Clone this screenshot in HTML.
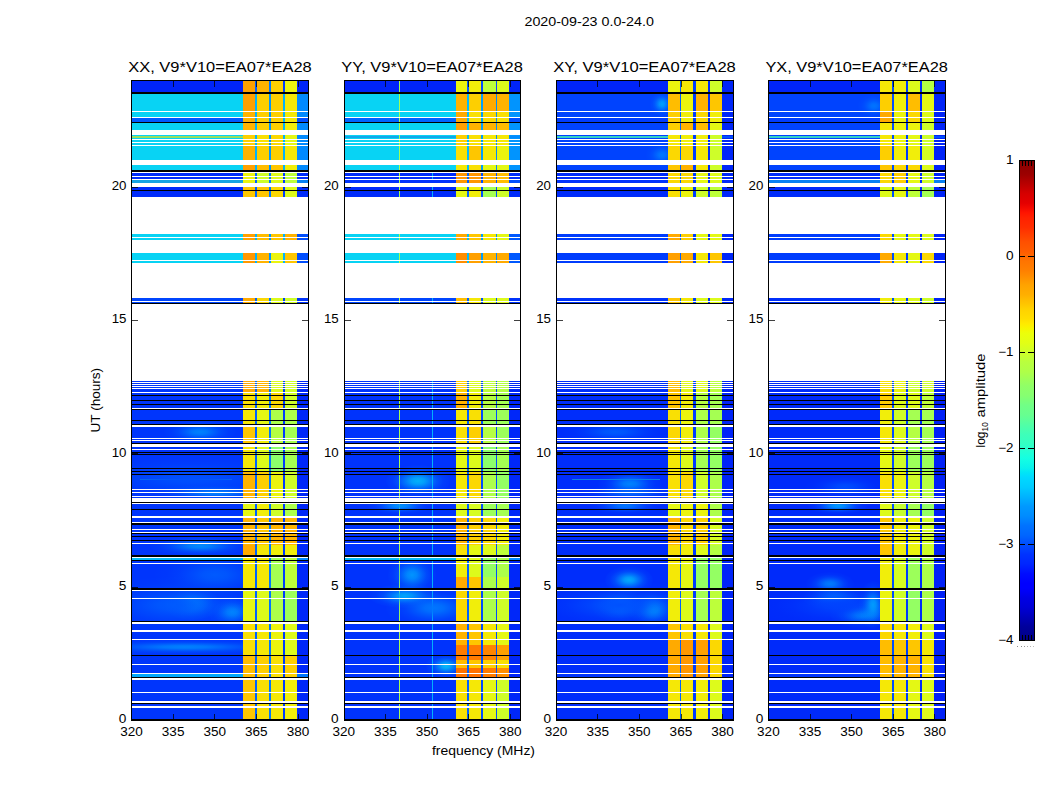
<!DOCTYPE html><html><head><meta charset="utf-8"><style>html,body{margin:0;padding:0;background:#fff;overflow:hidden;}svg{display:block}</style></head><body>
<svg width="1050" height="800" viewBox="0 0 1050 800" shape-rendering="crispEdges">
<rect width="1050" height="800" fill="#fff"/>
<rect x="131" y="80" width="112" height="12" fill="#0024f8"/>
<rect x="243" y="80" width="12" height="12" fill="#ffa000"/>
<rect x="257" y="80" width="12" height="12" fill="#ffb300"/>
<rect x="271" y="80" width="12" height="12" fill="#fdcf01"/>
<rect x="285" y="80" width="12" height="12" fill="#ebf40e"/>
<rect x="255" y="80" width="2" height="12" fill="#0062ff"/>
<rect x="269" y="80" width="2" height="12" fill="#0076ff"/>
<rect x="283" y="80" width="2" height="12" fill="#003cfd"/>
<rect x="297" y="80" width="12" height="12" fill="#0024f8"/>
<rect x="131" y="92" width="178" height="2" fill="#000000"/>
<rect x="131" y="94" width="112" height="17" fill="#08d3f4"/>
<rect x="243" y="94" width="12" height="17" fill="#ffa000"/>
<rect x="257" y="94" width="12" height="17" fill="#fdcf01"/>
<rect x="271" y="94" width="12" height="17" fill="#fdcf01"/>
<rect x="285" y="94" width="12" height="17" fill="#f5e806"/>
<rect x="255" y="94" width="2" height="17" fill="#02b2fc"/>
<rect x="269" y="94" width="2" height="17" fill="#0094fe"/>
<rect x="283" y="94" width="2" height="17" fill="#02b2fc"/>
<rect x="297" y="94" width="12" height="17" fill="#018afe"/>
<rect x="131" y="112" width="112" height="5" fill="#08d3f4"/>
<rect x="243" y="112" width="12" height="5" fill="#ffb300"/>
<rect x="257" y="112" width="12" height="5" fill="#fdcf01"/>
<rect x="271" y="112" width="12" height="5" fill="#fdcf01"/>
<rect x="285" y="112" width="12" height="5" fill="#f5e806"/>
<rect x="255" y="112" width="2" height="5" fill="#02b2fc"/>
<rect x="269" y="112" width="2" height="5" fill="#0094fe"/>
<rect x="283" y="112" width="2" height="5" fill="#02b2fc"/>
<rect x="297" y="112" width="12" height="5" fill="#018afe"/>
<rect x="131" y="118" width="112" height="4" fill="#0058fe"/>
<rect x="243" y="118" width="12" height="4" fill="#ffb300"/>
<rect x="257" y="118" width="12" height="4" fill="#fdcf01"/>
<rect x="271" y="118" width="12" height="4" fill="#fdcf01"/>
<rect x="285" y="118" width="12" height="4" fill="#f5e806"/>
<rect x="255" y="118" width="2" height="4" fill="#02b2fc"/>
<rect x="269" y="118" width="2" height="4" fill="#0094fe"/>
<rect x="283" y="118" width="2" height="4" fill="#02b2fc"/>
<rect x="297" y="118" width="12" height="4" fill="#004efe"/>
<rect x="131" y="122" width="178" height="1" fill="#000000"/>
<rect x="131" y="123" width="112" height="7" fill="#08d3f4"/>
<rect x="243" y="123" width="12" height="7" fill="#ffb300"/>
<rect x="257" y="123" width="12" height="7" fill="#fdcf01"/>
<rect x="271" y="123" width="12" height="7" fill="#fdcf01"/>
<rect x="285" y="123" width="12" height="7" fill="#f1ee0a"/>
<rect x="255" y="123" width="2" height="7" fill="#02b2fc"/>
<rect x="269" y="123" width="2" height="7" fill="#0094fe"/>
<rect x="283" y="123" width="2" height="7" fill="#02b2fc"/>
<rect x="297" y="123" width="12" height="7" fill="#018afe"/>
<rect x="131" y="135" width="112" height="1" fill="#08d3f4"/>
<rect x="243" y="135" width="12" height="1" fill="#fdcf01"/>
<rect x="257" y="135" width="12" height="1" fill="#f9e004"/>
<rect x="271" y="135" width="12" height="1" fill="#fbd802"/>
<rect x="285" y="135" width="12" height="1" fill="#e4f814"/>
<rect x="255" y="135" width="2" height="1" fill="#02b2fc"/>
<rect x="269" y="135" width="2" height="1" fill="#0094fe"/>
<rect x="283" y="135" width="2" height="1" fill="#02b2fc"/>
<rect x="297" y="135" width="12" height="1" fill="#018afe"/>
<rect x="131" y="136" width="112" height="2" fill="#99df60"/>
<rect x="243" y="136" width="12" height="2" fill="#fdcf01"/>
<rect x="257" y="136" width="12" height="2" fill="#f9e004"/>
<rect x="271" y="136" width="12" height="2" fill="#fbd802"/>
<rect x="285" y="136" width="12" height="2" fill="#e4f814"/>
<rect x="255" y="136" width="2" height="2" fill="#02b2fc"/>
<rect x="269" y="136" width="2" height="2" fill="#0094fe"/>
<rect x="283" y="136" width="2" height="2" fill="#02b2fc"/>
<rect x="297" y="136" width="12" height="2" fill="#018afe"/>
<rect x="131" y="138" width="112" height="1" fill="#08d3f4"/>
<rect x="243" y="138" width="12" height="1" fill="#fdcf01"/>
<rect x="257" y="138" width="12" height="1" fill="#f9e004"/>
<rect x="271" y="138" width="12" height="1" fill="#fbd802"/>
<rect x="285" y="138" width="12" height="1" fill="#e4f814"/>
<rect x="255" y="138" width="2" height="1" fill="#02b2fc"/>
<rect x="269" y="138" width="2" height="1" fill="#0094fe"/>
<rect x="283" y="138" width="2" height="1" fill="#02b2fc"/>
<rect x="297" y="138" width="12" height="1" fill="#018afe"/>
<rect x="131" y="140" width="112" height="2" fill="#08d3f4"/>
<rect x="243" y="140" width="12" height="2" fill="#fdcf01"/>
<rect x="257" y="140" width="12" height="2" fill="#f9e004"/>
<rect x="271" y="140" width="12" height="2" fill="#fbd802"/>
<rect x="285" y="140" width="12" height="2" fill="#e4f814"/>
<rect x="255" y="140" width="2" height="2" fill="#02b2fc"/>
<rect x="269" y="140" width="2" height="2" fill="#0094fe"/>
<rect x="283" y="140" width="2" height="2" fill="#02b2fc"/>
<rect x="297" y="140" width="12" height="2" fill="#018afe"/>
<rect x="131" y="143" width="112" height="2" fill="#08d3f4"/>
<rect x="243" y="143" width="12" height="2" fill="#fdcf01"/>
<rect x="257" y="143" width="12" height="2" fill="#f9e004"/>
<rect x="271" y="143" width="12" height="2" fill="#fbd802"/>
<rect x="285" y="143" width="12" height="2" fill="#e4f814"/>
<rect x="255" y="143" width="2" height="2" fill="#02b2fc"/>
<rect x="269" y="143" width="2" height="2" fill="#0094fe"/>
<rect x="283" y="143" width="2" height="2" fill="#02b2fc"/>
<rect x="297" y="143" width="12" height="2" fill="#018afe"/>
<rect x="131" y="146" width="112" height="14" fill="#08d3f4"/>
<rect x="243" y="146" width="12" height="14" fill="#ffb300"/>
<rect x="257" y="146" width="12" height="14" fill="#fdcf01"/>
<rect x="271" y="146" width="12" height="14" fill="#fdcf01"/>
<rect x="285" y="146" width="12" height="14" fill="#f5e806"/>
<rect x="255" y="146" width="2" height="14" fill="#02b2fc"/>
<rect x="269" y="146" width="2" height="14" fill="#0094fe"/>
<rect x="283" y="146" width="2" height="14" fill="#02b2fc"/>
<rect x="297" y="146" width="12" height="14" fill="#018afe"/>
<rect x="131" y="165" width="112" height="5" fill="#08d3f4"/>
<rect x="243" y="165" width="12" height="5" fill="#ffa000"/>
<rect x="257" y="165" width="12" height="5" fill="#ffbd00"/>
<rect x="271" y="165" width="12" height="5" fill="#fec600"/>
<rect x="285" y="165" width="12" height="5" fill="#f1ee0a"/>
<rect x="255" y="165" width="2" height="5" fill="#02b2fc"/>
<rect x="269" y="165" width="2" height="5" fill="#0094fe"/>
<rect x="283" y="165" width="2" height="5" fill="#02b2fc"/>
<rect x="297" y="165" width="12" height="5" fill="#018afe"/>
<rect x="131" y="170" width="178" height="2" fill="#000000"/>
<rect x="131" y="173" width="112" height="3" fill="#002bfa"/>
<rect x="243" y="173" width="12" height="3" fill="#ebf40e"/>
<rect x="257" y="173" width="12" height="3" fill="#cefe29"/>
<rect x="271" y="173" width="12" height="3" fill="#ddfb1b"/>
<rect x="285" y="173" width="12" height="3" fill="#bdff3a"/>
<rect x="255" y="173" width="2" height="3" fill="#0062ff"/>
<rect x="269" y="173" width="2" height="3" fill="#0076ff"/>
<rect x="283" y="173" width="2" height="3" fill="#003cfd"/>
<rect x="297" y="173" width="12" height="3" fill="#002bfa"/>
<rect x="131" y="177" width="112" height="2" fill="#002bfa"/>
<rect x="243" y="177" width="12" height="2" fill="#ebf40e"/>
<rect x="257" y="177" width="12" height="2" fill="#cefe29"/>
<rect x="271" y="177" width="12" height="2" fill="#ddfb1b"/>
<rect x="285" y="177" width="12" height="2" fill="#bdff3a"/>
<rect x="255" y="177" width="2" height="2" fill="#0062ff"/>
<rect x="269" y="177" width="2" height="2" fill="#0076ff"/>
<rect x="283" y="177" width="2" height="2" fill="#003cfd"/>
<rect x="297" y="177" width="12" height="2" fill="#002bfa"/>
<rect x="131" y="180" width="112" height="3" fill="#16a3e3"/>
<rect x="243" y="180" width="12" height="3" fill="#ebf40e"/>
<rect x="257" y="180" width="12" height="3" fill="#cefe29"/>
<rect x="271" y="180" width="12" height="3" fill="#ddfb1b"/>
<rect x="285" y="180" width="12" height="3" fill="#bdff3a"/>
<rect x="255" y="180" width="2" height="3" fill="#0062ff"/>
<rect x="269" y="180" width="2" height="3" fill="#0076ff"/>
<rect x="283" y="180" width="2" height="3" fill="#003cfd"/>
<rect x="297" y="180" width="12" height="3" fill="#0780f3"/>
<rect x="131" y="187" width="112" height="3" fill="#002bfa"/>
<rect x="243" y="187" width="12" height="3" fill="#fec600"/>
<rect x="257" y="187" width="12" height="3" fill="#fec600"/>
<rect x="271" y="187" width="12" height="3" fill="#fbd802"/>
<rect x="285" y="187" width="12" height="3" fill="#ddfb1b"/>
<rect x="255" y="187" width="2" height="3" fill="#0062ff"/>
<rect x="269" y="187" width="2" height="3" fill="#0076ff"/>
<rect x="283" y="187" width="2" height="3" fill="#003cfd"/>
<rect x="297" y="187" width="12" height="3" fill="#002bfa"/>
<rect x="131" y="190" width="178" height="1" fill="#000000"/>
<rect x="131" y="191" width="112" height="6" fill="#002bfa"/>
<rect x="243" y="191" width="12" height="6" fill="#fec600"/>
<rect x="257" y="191" width="12" height="6" fill="#fec600"/>
<rect x="271" y="191" width="12" height="6" fill="#fbd802"/>
<rect x="285" y="191" width="12" height="6" fill="#ddfb1b"/>
<rect x="255" y="191" width="2" height="6" fill="#0062ff"/>
<rect x="269" y="191" width="2" height="6" fill="#0076ff"/>
<rect x="283" y="191" width="2" height="6" fill="#003cfd"/>
<rect x="297" y="191" width="12" height="6" fill="#002bfa"/>
<rect x="131" y="234" width="112" height="3" fill="#08d3f4"/>
<rect x="243" y="234" width="12" height="3" fill="#ffa000"/>
<rect x="257" y="234" width="12" height="3" fill="#ffbd00"/>
<rect x="271" y="234" width="12" height="3" fill="#fec600"/>
<rect x="285" y="234" width="12" height="3" fill="#ffb300"/>
<rect x="255" y="234" width="2" height="3" fill="#02b2fc"/>
<rect x="269" y="234" width="2" height="3" fill="#0094fe"/>
<rect x="283" y="234" width="2" height="3" fill="#02b2fc"/>
<rect x="297" y="234" width="12" height="3" fill="#004efe"/>
<rect x="131" y="238" width="112" height="2" fill="#08d3f4"/>
<rect x="243" y="238" width="12" height="2" fill="#ffa000"/>
<rect x="257" y="238" width="12" height="2" fill="#ffbd00"/>
<rect x="271" y="238" width="12" height="2" fill="#fec600"/>
<rect x="285" y="238" width="12" height="2" fill="#ffb300"/>
<rect x="255" y="238" width="2" height="2" fill="#02b2fc"/>
<rect x="269" y="238" width="2" height="2" fill="#0094fe"/>
<rect x="283" y="238" width="2" height="2" fill="#02b2fc"/>
<rect x="297" y="238" width="12" height="2" fill="#004efe"/>
<rect x="131" y="253" width="112" height="7" fill="#08d3f4"/>
<rect x="243" y="253" width="12" height="7" fill="#ff9700"/>
<rect x="257" y="253" width="12" height="7" fill="#ffb300"/>
<rect x="271" y="253" width="12" height="7" fill="#ebf40e"/>
<rect x="285" y="253" width="12" height="7" fill="#fec600"/>
<rect x="255" y="253" width="2" height="7" fill="#02b2fc"/>
<rect x="269" y="253" width="2" height="7" fill="#0094fe"/>
<rect x="283" y="253" width="2" height="7" fill="#02b2fc"/>
<rect x="297" y="253" width="12" height="7" fill="#004efe"/>
<rect x="131" y="261" width="112" height="2" fill="#08d3f4"/>
<rect x="243" y="261" width="12" height="2" fill="#ff9700"/>
<rect x="257" y="261" width="12" height="2" fill="#ffb300"/>
<rect x="271" y="261" width="12" height="2" fill="#ebf40e"/>
<rect x="285" y="261" width="12" height="2" fill="#fec600"/>
<rect x="255" y="261" width="2" height="2" fill="#02b2fc"/>
<rect x="269" y="261" width="2" height="2" fill="#0094fe"/>
<rect x="283" y="261" width="2" height="2" fill="#02b2fc"/>
<rect x="297" y="261" width="12" height="2" fill="#004efe"/>
<rect x="131" y="298" width="112" height="3" fill="#0045fe"/>
<rect x="243" y="298" width="12" height="3" fill="#ffaa00"/>
<rect x="257" y="298" width="12" height="3" fill="#fbd802"/>
<rect x="271" y="298" width="12" height="3" fill="#ddfb1b"/>
<rect x="285" y="298" width="12" height="3" fill="#cefe29"/>
<rect x="255" y="298" width="2" height="3" fill="#0062ff"/>
<rect x="269" y="298" width="2" height="3" fill="#0076ff"/>
<rect x="283" y="298" width="2" height="3" fill="#003cfd"/>
<rect x="297" y="298" width="12" height="3" fill="#0033fc"/>
<rect x="131" y="302" width="112" height="1" fill="#0045fe"/>
<rect x="243" y="302" width="12" height="1" fill="#ffaa00"/>
<rect x="257" y="302" width="12" height="1" fill="#fbd802"/>
<rect x="271" y="302" width="12" height="1" fill="#ddfb1b"/>
<rect x="285" y="302" width="12" height="1" fill="#cefe29"/>
<rect x="255" y="302" width="2" height="1" fill="#0062ff"/>
<rect x="269" y="302" width="2" height="1" fill="#0076ff"/>
<rect x="283" y="302" width="2" height="1" fill="#003cfd"/>
<rect x="297" y="302" width="12" height="1" fill="#0033fc"/>
<rect x="131" y="303" width="178" height="1" fill="#000000"/>
<rect x="131" y="381" width="112" height="1" fill="#0035fc"/>
<rect x="243" y="381" width="12" height="1" fill="#ffaa00"/>
<rect x="257" y="381" width="12" height="1" fill="#ffb300"/>
<rect x="271" y="381" width="12" height="1" fill="#ddfb1b"/>
<rect x="285" y="381" width="12" height="1" fill="#cefe29"/>
<rect x="255" y="381" width="2" height="1" fill="#0062ff"/>
<rect x="269" y="381" width="2" height="1" fill="#0076ff"/>
<rect x="283" y="381" width="2" height="1" fill="#003cfd"/>
<rect x="297" y="381" width="12" height="1" fill="#0027f9"/>
<rect x="131" y="383" width="112" height="1" fill="#0035fc"/>
<rect x="243" y="383" width="12" height="1" fill="#ffaa00"/>
<rect x="257" y="383" width="12" height="1" fill="#ffb300"/>
<rect x="271" y="383" width="12" height="1" fill="#ddfb1b"/>
<rect x="285" y="383" width="12" height="1" fill="#cefe29"/>
<rect x="255" y="383" width="2" height="1" fill="#0062ff"/>
<rect x="269" y="383" width="2" height="1" fill="#0076ff"/>
<rect x="283" y="383" width="2" height="1" fill="#003cfd"/>
<rect x="297" y="383" width="12" height="1" fill="#0027f9"/>
<rect x="131" y="385" width="112" height="1" fill="#0035fc"/>
<rect x="243" y="385" width="12" height="1" fill="#ffaa00"/>
<rect x="257" y="385" width="12" height="1" fill="#ffb300"/>
<rect x="271" y="385" width="12" height="1" fill="#ddfb1b"/>
<rect x="285" y="385" width="12" height="1" fill="#cefe29"/>
<rect x="255" y="385" width="2" height="1" fill="#0062ff"/>
<rect x="269" y="385" width="2" height="1" fill="#0076ff"/>
<rect x="283" y="385" width="2" height="1" fill="#003cfd"/>
<rect x="297" y="385" width="12" height="1" fill="#0027f9"/>
<rect x="131" y="387" width="112" height="1" fill="#0035fc"/>
<rect x="243" y="387" width="12" height="1" fill="#ffaa00"/>
<rect x="257" y="387" width="12" height="1" fill="#ffb300"/>
<rect x="271" y="387" width="12" height="1" fill="#ddfb1b"/>
<rect x="285" y="387" width="12" height="1" fill="#cefe29"/>
<rect x="255" y="387" width="2" height="1" fill="#0062ff"/>
<rect x="269" y="387" width="2" height="1" fill="#0076ff"/>
<rect x="283" y="387" width="2" height="1" fill="#003cfd"/>
<rect x="297" y="387" width="12" height="1" fill="#0027f9"/>
<rect x="131" y="389" width="112" height="3" fill="#0035fc"/>
<rect x="243" y="389" width="12" height="3" fill="#ffaa00"/>
<rect x="257" y="389" width="12" height="3" fill="#ffb300"/>
<rect x="271" y="389" width="12" height="3" fill="#ddfb1b"/>
<rect x="285" y="389" width="12" height="3" fill="#cefe29"/>
<rect x="255" y="389" width="2" height="3" fill="#0062ff"/>
<rect x="269" y="389" width="2" height="3" fill="#0076ff"/>
<rect x="283" y="389" width="2" height="3" fill="#003cfd"/>
<rect x="297" y="389" width="12" height="3" fill="#0027f9"/>
<rect x="131" y="393" width="112" height="2" fill="#0035fc"/>
<rect x="243" y="393" width="12" height="2" fill="#f9e004"/>
<rect x="257" y="393" width="12" height="2" fill="#f1ee0a"/>
<rect x="271" y="393" width="12" height="2" fill="#fbd802"/>
<rect x="285" y="393" width="12" height="2" fill="#cefe29"/>
<rect x="255" y="393" width="2" height="2" fill="#0062ff"/>
<rect x="269" y="393" width="2" height="2" fill="#0076ff"/>
<rect x="283" y="393" width="2" height="2" fill="#003cfd"/>
<rect x="297" y="393" width="12" height="2" fill="#0027f9"/>
<rect x="131" y="395" width="178" height="1" fill="#000000"/>
<rect x="131" y="396" width="112" height="4" fill="#0035fc"/>
<rect x="243" y="396" width="12" height="4" fill="#f9e004"/>
<rect x="257" y="396" width="12" height="4" fill="#f1ee0a"/>
<rect x="271" y="396" width="12" height="4" fill="#fbd802"/>
<rect x="285" y="396" width="12" height="4" fill="#cefe29"/>
<rect x="255" y="396" width="2" height="4" fill="#0062ff"/>
<rect x="269" y="396" width="2" height="4" fill="#0076ff"/>
<rect x="283" y="396" width="2" height="4" fill="#003cfd"/>
<rect x="297" y="396" width="12" height="4" fill="#0027f9"/>
<rect x="131" y="400" width="178" height="1" fill="#000000"/>
<rect x="131" y="401" width="112" height="3" fill="#0035fc"/>
<rect x="243" y="401" width="12" height="3" fill="#f9e004"/>
<rect x="257" y="401" width="12" height="3" fill="#f1ee0a"/>
<rect x="271" y="401" width="12" height="3" fill="#fbd802"/>
<rect x="285" y="401" width="12" height="3" fill="#cefe29"/>
<rect x="255" y="401" width="2" height="3" fill="#0062ff"/>
<rect x="269" y="401" width="2" height="3" fill="#0076ff"/>
<rect x="283" y="401" width="2" height="3" fill="#003cfd"/>
<rect x="297" y="401" width="12" height="3" fill="#0027f9"/>
<rect x="131" y="404" width="178" height="1" fill="#000000"/>
<rect x="131" y="405" width="112" height="3" fill="#0035fc"/>
<rect x="243" y="405" width="12" height="3" fill="#f9e004"/>
<rect x="257" y="405" width="12" height="3" fill="#f1ee0a"/>
<rect x="271" y="405" width="12" height="3" fill="#fbd802"/>
<rect x="285" y="405" width="12" height="3" fill="#cefe29"/>
<rect x="255" y="405" width="2" height="3" fill="#0062ff"/>
<rect x="269" y="405" width="2" height="3" fill="#0076ff"/>
<rect x="283" y="405" width="2" height="3" fill="#003cfd"/>
<rect x="297" y="405" width="12" height="3" fill="#0027f9"/>
<rect x="131" y="409" width="178" height="1" fill="#000000"/>
<rect x="131" y="410" width="112" height="10" fill="#0035fc"/>
<rect x="243" y="410" width="12" height="10" fill="#f5e806"/>
<rect x="257" y="410" width="12" height="10" fill="#e4f814"/>
<rect x="271" y="410" width="12" height="10" fill="#adff4a"/>
<rect x="285" y="410" width="12" height="10" fill="#adff4a"/>
<rect x="255" y="410" width="2" height="10" fill="#0062ff"/>
<rect x="269" y="410" width="2" height="10" fill="#0076ff"/>
<rect x="283" y="410" width="2" height="10" fill="#003cfd"/>
<rect x="297" y="410" width="12" height="10" fill="#0027f9"/>
<rect x="131" y="420" width="178" height="1" fill="#000000"/>
<rect x="131" y="421" width="112" height="3" fill="#0035fc"/>
<rect x="243" y="421" width="12" height="3" fill="#f5e806"/>
<rect x="257" y="421" width="12" height="3" fill="#e4f814"/>
<rect x="271" y="421" width="12" height="3" fill="#adff4a"/>
<rect x="285" y="421" width="12" height="3" fill="#adff4a"/>
<rect x="255" y="421" width="2" height="3" fill="#0062ff"/>
<rect x="269" y="421" width="2" height="3" fill="#0076ff"/>
<rect x="283" y="421" width="2" height="3" fill="#003cfd"/>
<rect x="297" y="421" width="12" height="3" fill="#0027f9"/>
<rect x="131" y="424" width="178" height="1" fill="#000000"/>
<rect x="131" y="427" width="112" height="11" fill="#0035fc"/>
<rect x="243" y="427" width="12" height="11" fill="#fec600"/>
<rect x="257" y="427" width="12" height="11" fill="#f1ee0a"/>
<rect x="271" y="427" width="12" height="11" fill="#b5ff42"/>
<rect x="285" y="427" width="12" height="11" fill="#a5ff52"/>
<rect x="255" y="427" width="2" height="11" fill="#0062ff"/>
<rect x="269" y="427" width="2" height="11" fill="#0076ff"/>
<rect x="283" y="427" width="2" height="11" fill="#003cfd"/>
<rect x="297" y="427" width="12" height="11" fill="#0027f9"/>
<rect x="131" y="439" width="112" height="1" fill="#0035fc"/>
<rect x="243" y="439" width="12" height="1" fill="#fec600"/>
<rect x="257" y="439" width="12" height="1" fill="#f1ee0a"/>
<rect x="271" y="439" width="12" height="1" fill="#b5ff42"/>
<rect x="285" y="439" width="12" height="1" fill="#a5ff52"/>
<rect x="255" y="439" width="2" height="1" fill="#0062ff"/>
<rect x="269" y="439" width="2" height="1" fill="#0076ff"/>
<rect x="283" y="439" width="2" height="1" fill="#003cfd"/>
<rect x="297" y="439" width="12" height="1" fill="#0027f9"/>
<rect x="131" y="441" width="112" height="2" fill="#0035fc"/>
<rect x="243" y="441" width="12" height="2" fill="#fec600"/>
<rect x="257" y="441" width="12" height="2" fill="#f1ee0a"/>
<rect x="271" y="441" width="12" height="2" fill="#b5ff42"/>
<rect x="285" y="441" width="12" height="2" fill="#a5ff52"/>
<rect x="255" y="441" width="2" height="2" fill="#0062ff"/>
<rect x="269" y="441" width="2" height="2" fill="#0076ff"/>
<rect x="283" y="441" width="2" height="2" fill="#003cfd"/>
<rect x="297" y="441" width="12" height="2" fill="#0027f9"/>
<rect x="131" y="443" width="178" height="1" fill="#000000"/>
<rect x="131" y="447" width="112" height="2" fill="#0035fc"/>
<rect x="243" y="447" width="12" height="2" fill="#f5e806"/>
<rect x="257" y="447" width="12" height="2" fill="#ddfb1b"/>
<rect x="271" y="447" width="12" height="2" fill="#8cff6b"/>
<rect x="285" y="447" width="12" height="2" fill="#a5ff52"/>
<rect x="255" y="447" width="2" height="2" fill="#0062ff"/>
<rect x="269" y="447" width="2" height="2" fill="#0076ff"/>
<rect x="283" y="447" width="2" height="2" fill="#003cfd"/>
<rect x="297" y="447" width="12" height="2" fill="#0027f9"/>
<rect x="131" y="450" width="112" height="2" fill="#0035fc"/>
<rect x="243" y="450" width="12" height="2" fill="#f5e806"/>
<rect x="257" y="450" width="12" height="2" fill="#ddfb1b"/>
<rect x="271" y="450" width="12" height="2" fill="#8cff6b"/>
<rect x="285" y="450" width="12" height="2" fill="#a5ff52"/>
<rect x="255" y="450" width="2" height="2" fill="#0062ff"/>
<rect x="269" y="450" width="2" height="2" fill="#0076ff"/>
<rect x="283" y="450" width="2" height="2" fill="#003cfd"/>
<rect x="297" y="450" width="12" height="2" fill="#0027f9"/>
<rect x="131" y="452" width="178" height="1" fill="#000000"/>
<rect x="131" y="453" width="112" height="1" fill="#0035fc"/>
<rect x="243" y="453" width="12" height="1" fill="#f5e806"/>
<rect x="257" y="453" width="12" height="1" fill="#ddfb1b"/>
<rect x="271" y="453" width="12" height="1" fill="#8cff6b"/>
<rect x="285" y="453" width="12" height="1" fill="#a5ff52"/>
<rect x="255" y="453" width="2" height="1" fill="#0062ff"/>
<rect x="269" y="453" width="2" height="1" fill="#0076ff"/>
<rect x="283" y="453" width="2" height="1" fill="#003cfd"/>
<rect x="297" y="453" width="12" height="1" fill="#0027f9"/>
<rect x="131" y="454" width="178" height="1" fill="#000000"/>
<rect x="131" y="455" width="112" height="13" fill="#0035fc"/>
<rect x="243" y="455" width="12" height="13" fill="#f5e806"/>
<rect x="257" y="455" width="12" height="13" fill="#ddfb1b"/>
<rect x="271" y="455" width="12" height="13" fill="#8cff6b"/>
<rect x="285" y="455" width="12" height="13" fill="#a5ff52"/>
<rect x="255" y="455" width="2" height="13" fill="#0062ff"/>
<rect x="269" y="455" width="2" height="13" fill="#0076ff"/>
<rect x="283" y="455" width="2" height="13" fill="#003cfd"/>
<rect x="297" y="455" width="12" height="13" fill="#0027f9"/>
<rect x="131" y="468" width="178" height="1" fill="#000000"/>
<rect x="131" y="469" width="112" height="2" fill="#0035fc"/>
<rect x="243" y="469" width="12" height="2" fill="#f5e806"/>
<rect x="257" y="469" width="12" height="2" fill="#ddfb1b"/>
<rect x="271" y="469" width="12" height="2" fill="#8cff6b"/>
<rect x="285" y="469" width="12" height="2" fill="#a5ff52"/>
<rect x="255" y="469" width="2" height="2" fill="#0062ff"/>
<rect x="269" y="469" width="2" height="2" fill="#0076ff"/>
<rect x="283" y="469" width="2" height="2" fill="#003cfd"/>
<rect x="297" y="469" width="12" height="2" fill="#0027f9"/>
<rect x="131" y="471" width="178" height="1" fill="#000000"/>
<rect x="131" y="472" width="112" height="2" fill="#0035fc"/>
<rect x="243" y="472" width="12" height="2" fill="#ffb300"/>
<rect x="257" y="472" width="12" height="2" fill="#fdcf01"/>
<rect x="271" y="472" width="12" height="2" fill="#ebf40e"/>
<rect x="285" y="472" width="12" height="2" fill="#cefe29"/>
<rect x="255" y="472" width="2" height="2" fill="#0062ff"/>
<rect x="269" y="472" width="2" height="2" fill="#0076ff"/>
<rect x="283" y="472" width="2" height="2" fill="#003cfd"/>
<rect x="297" y="472" width="12" height="2" fill="#0027f9"/>
<rect x="131" y="474" width="178" height="1" fill="#000000"/>
<rect x="131" y="475" width="112" height="14" fill="#0035fc"/>
<rect x="243" y="475" width="12" height="14" fill="#ffb300"/>
<rect x="257" y="475" width="12" height="14" fill="#fdcf01"/>
<rect x="271" y="475" width="12" height="14" fill="#ebf40e"/>
<rect x="285" y="475" width="12" height="14" fill="#cefe29"/>
<rect x="255" y="475" width="2" height="14" fill="#0062ff"/>
<rect x="269" y="475" width="2" height="14" fill="#0076ff"/>
<rect x="283" y="475" width="2" height="14" fill="#003cfd"/>
<rect x="297" y="475" width="12" height="14" fill="#0027f9"/>
<rect x="131" y="490" width="112" height="2" fill="#0035fc"/>
<rect x="243" y="490" width="12" height="2" fill="#ffb300"/>
<rect x="257" y="490" width="12" height="2" fill="#fdcf01"/>
<rect x="271" y="490" width="12" height="2" fill="#ebf40e"/>
<rect x="285" y="490" width="12" height="2" fill="#cefe29"/>
<rect x="255" y="490" width="2" height="2" fill="#0062ff"/>
<rect x="269" y="490" width="2" height="2" fill="#0076ff"/>
<rect x="283" y="490" width="2" height="2" fill="#003cfd"/>
<rect x="297" y="490" width="12" height="2" fill="#0027f9"/>
<rect x="131" y="493" width="112" height="3" fill="#0035fc"/>
<rect x="243" y="493" width="12" height="3" fill="#ffb300"/>
<rect x="257" y="493" width="12" height="3" fill="#fdcf01"/>
<rect x="271" y="493" width="12" height="3" fill="#ebf40e"/>
<rect x="285" y="493" width="12" height="3" fill="#cefe29"/>
<rect x="255" y="493" width="2" height="3" fill="#0062ff"/>
<rect x="269" y="493" width="2" height="3" fill="#0076ff"/>
<rect x="283" y="493" width="2" height="3" fill="#003cfd"/>
<rect x="297" y="493" width="12" height="3" fill="#0027f9"/>
<rect x="131" y="497" width="112" height="1" fill="#0035fc"/>
<rect x="243" y="497" width="12" height="1" fill="#ffb300"/>
<rect x="257" y="497" width="12" height="1" fill="#fdcf01"/>
<rect x="271" y="497" width="12" height="1" fill="#ebf40e"/>
<rect x="285" y="497" width="12" height="1" fill="#cefe29"/>
<rect x="255" y="497" width="2" height="1" fill="#0062ff"/>
<rect x="269" y="497" width="2" height="1" fill="#0076ff"/>
<rect x="283" y="497" width="2" height="1" fill="#003cfd"/>
<rect x="297" y="497" width="12" height="1" fill="#0027f9"/>
<rect x="131" y="502" width="178" height="1" fill="#000000"/>
<rect x="131" y="504" width="112" height="5" fill="#0035fc"/>
<rect x="243" y="504" width="12" height="5" fill="#e4f814"/>
<rect x="257" y="504" width="12" height="5" fill="#f1ee0a"/>
<rect x="271" y="504" width="12" height="5" fill="#cefe29"/>
<rect x="285" y="504" width="12" height="5" fill="#adff4a"/>
<rect x="255" y="504" width="2" height="5" fill="#0062ff"/>
<rect x="269" y="504" width="2" height="5" fill="#0076ff"/>
<rect x="283" y="504" width="2" height="5" fill="#003cfd"/>
<rect x="297" y="504" width="12" height="5" fill="#0027f9"/>
<rect x="131" y="509" width="178" height="1" fill="#000000"/>
<rect x="131" y="510" width="112" height="6" fill="#0035fc"/>
<rect x="243" y="510" width="12" height="6" fill="#e4f814"/>
<rect x="257" y="510" width="12" height="6" fill="#f1ee0a"/>
<rect x="271" y="510" width="12" height="6" fill="#cefe29"/>
<rect x="285" y="510" width="12" height="6" fill="#adff4a"/>
<rect x="255" y="510" width="2" height="6" fill="#0062ff"/>
<rect x="269" y="510" width="2" height="6" fill="#0076ff"/>
<rect x="283" y="510" width="2" height="6" fill="#003cfd"/>
<rect x="297" y="510" width="12" height="6" fill="#0027f9"/>
<rect x="131" y="518" width="112" height="4" fill="#0035fc"/>
<rect x="243" y="518" width="12" height="4" fill="#ffb300"/>
<rect x="257" y="518" width="12" height="4" fill="#fec600"/>
<rect x="271" y="518" width="12" height="4" fill="#ffb300"/>
<rect x="285" y="518" width="12" height="4" fill="#ffb300"/>
<rect x="255" y="518" width="2" height="4" fill="#0062ff"/>
<rect x="269" y="518" width="2" height="4" fill="#0076ff"/>
<rect x="283" y="518" width="2" height="4" fill="#003cfd"/>
<rect x="297" y="518" width="12" height="4" fill="#0027f9"/>
<rect x="131" y="523" width="178" height="2" fill="#000000"/>
<rect x="131" y="525" width="112" height="4" fill="#0035fc"/>
<rect x="243" y="525" width="12" height="4" fill="#ffb300"/>
<rect x="257" y="525" width="12" height="4" fill="#fec600"/>
<rect x="271" y="525" width="12" height="4" fill="#ffb300"/>
<rect x="285" y="525" width="12" height="4" fill="#ffb300"/>
<rect x="255" y="525" width="2" height="4" fill="#0062ff"/>
<rect x="269" y="525" width="2" height="4" fill="#0076ff"/>
<rect x="283" y="525" width="2" height="4" fill="#003cfd"/>
<rect x="297" y="525" width="12" height="4" fill="#0027f9"/>
<rect x="131" y="530" width="112" height="2" fill="#0035fc"/>
<rect x="243" y="530" width="12" height="2" fill="#ffb300"/>
<rect x="257" y="530" width="12" height="2" fill="#fec600"/>
<rect x="271" y="530" width="12" height="2" fill="#ffb300"/>
<rect x="285" y="530" width="12" height="2" fill="#ffb300"/>
<rect x="255" y="530" width="2" height="2" fill="#0062ff"/>
<rect x="269" y="530" width="2" height="2" fill="#0076ff"/>
<rect x="283" y="530" width="2" height="2" fill="#003cfd"/>
<rect x="297" y="530" width="12" height="2" fill="#0027f9"/>
<rect x="131" y="533" width="178" height="1" fill="#000000"/>
<rect x="131" y="534" width="112" height="2" fill="#0035fc"/>
<rect x="243" y="534" width="12" height="2" fill="#ffb300"/>
<rect x="257" y="534" width="12" height="2" fill="#fec600"/>
<rect x="271" y="534" width="12" height="2" fill="#ffb300"/>
<rect x="285" y="534" width="12" height="2" fill="#ffb300"/>
<rect x="255" y="534" width="2" height="2" fill="#0062ff"/>
<rect x="269" y="534" width="2" height="2" fill="#0076ff"/>
<rect x="283" y="534" width="2" height="2" fill="#003cfd"/>
<rect x="297" y="534" width="12" height="2" fill="#0027f9"/>
<rect x="131" y="536" width="178" height="1" fill="#000000"/>
<rect x="131" y="537" width="112" height="3" fill="#0035fc"/>
<rect x="243" y="537" width="12" height="3" fill="#ffb300"/>
<rect x="257" y="537" width="12" height="3" fill="#fec600"/>
<rect x="271" y="537" width="12" height="3" fill="#ffb300"/>
<rect x="285" y="537" width="12" height="3" fill="#ffb300"/>
<rect x="255" y="537" width="2" height="3" fill="#0062ff"/>
<rect x="269" y="537" width="2" height="3" fill="#0076ff"/>
<rect x="283" y="537" width="2" height="3" fill="#003cfd"/>
<rect x="297" y="537" width="12" height="3" fill="#0027f9"/>
<rect x="131" y="540" width="178" height="1" fill="#000000"/>
<rect x="131" y="541" width="112" height="2" fill="#0035fc"/>
<rect x="243" y="541" width="12" height="2" fill="#ffb300"/>
<rect x="257" y="541" width="12" height="2" fill="#fec600"/>
<rect x="271" y="541" width="12" height="2" fill="#ffb300"/>
<rect x="285" y="541" width="12" height="2" fill="#ffb300"/>
<rect x="255" y="541" width="2" height="2" fill="#0062ff"/>
<rect x="269" y="541" width="2" height="2" fill="#0076ff"/>
<rect x="283" y="541" width="2" height="2" fill="#003cfd"/>
<rect x="297" y="541" width="12" height="2" fill="#0027f9"/>
<rect x="131" y="544" width="112" height="11" fill="#0035fc"/>
<rect x="243" y="544" width="12" height="1" fill="#ffb300"/>
<rect x="257" y="544" width="12" height="1" fill="#fec600"/>
<rect x="271" y="544" width="12" height="1" fill="#ffb300"/>
<rect x="285" y="544" width="12" height="1" fill="#ffb300"/>
<rect x="243" y="545" width="12" height="10" fill="#ffaa00"/>
<rect x="257" y="545" width="12" height="10" fill="#f5e806"/>
<rect x="271" y="545" width="12" height="10" fill="#f1ee0a"/>
<rect x="285" y="545" width="12" height="10" fill="#f1ee0a"/>
<rect x="255" y="544" width="2" height="11" fill="#0062ff"/>
<rect x="269" y="544" width="2" height="11" fill="#0076ff"/>
<rect x="283" y="544" width="2" height="11" fill="#003cfd"/>
<rect x="297" y="544" width="12" height="11" fill="#0027f9"/>
<rect x="131" y="555" width="178" height="2" fill="#000000"/>
<rect x="131" y="558" width="112" height="2" fill="#05bbf8"/>
<rect x="243" y="558" width="12" height="2" fill="#f5e806"/>
<rect x="257" y="558" width="12" height="2" fill="#f5e806"/>
<rect x="271" y="558" width="12" height="2" fill="#a5ff52"/>
<rect x="285" y="558" width="12" height="2" fill="#bdff3a"/>
<rect x="255" y="558" width="2" height="2" fill="#0062ff"/>
<rect x="269" y="558" width="2" height="2" fill="#0076ff"/>
<rect x="283" y="558" width="2" height="2" fill="#003cfd"/>
<rect x="297" y="558" width="12" height="2" fill="#018afe"/>
<rect x="131" y="560" width="178" height="1" fill="#000000"/>
<rect x="131" y="561" width="112" height="2" fill="#0035fc"/>
<rect x="243" y="561" width="12" height="2" fill="#f5e806"/>
<rect x="257" y="561" width="12" height="2" fill="#f5e806"/>
<rect x="271" y="561" width="12" height="2" fill="#a5ff52"/>
<rect x="285" y="561" width="12" height="2" fill="#bdff3a"/>
<rect x="255" y="561" width="2" height="2" fill="#0062ff"/>
<rect x="269" y="561" width="2" height="2" fill="#0076ff"/>
<rect x="283" y="561" width="2" height="2" fill="#003cfd"/>
<rect x="297" y="561" width="12" height="2" fill="#0027f9"/>
<rect x="131" y="564" width="112" height="24" fill="#0035fc"/>
<rect x="243" y="564" width="12" height="24" fill="#f5e806"/>
<rect x="257" y="564" width="12" height="24" fill="#f5e806"/>
<rect x="271" y="564" width="12" height="24" fill="#a5ff52"/>
<rect x="285" y="564" width="12" height="24" fill="#bdff3a"/>
<rect x="255" y="564" width="2" height="24" fill="#0062ff"/>
<rect x="269" y="564" width="2" height="24" fill="#0076ff"/>
<rect x="283" y="564" width="2" height="24" fill="#003cfd"/>
<rect x="297" y="564" width="12" height="24" fill="#0027f9"/>
<rect x="131" y="588" width="178" height="2" fill="#000000"/>
<rect x="131" y="591" width="112" height="7" fill="#0035fc"/>
<rect x="243" y="591" width="12" height="7" fill="#e4f814"/>
<rect x="257" y="591" width="12" height="7" fill="#ddfb1b"/>
<rect x="271" y="591" width="12" height="7" fill="#adff4a"/>
<rect x="285" y="591" width="12" height="7" fill="#9cff5a"/>
<rect x="255" y="591" width="2" height="7" fill="#0062ff"/>
<rect x="269" y="591" width="2" height="7" fill="#0076ff"/>
<rect x="283" y="591" width="2" height="7" fill="#003cfd"/>
<rect x="297" y="591" width="12" height="7" fill="#0027f9"/>
<rect x="131" y="599" width="112" height="22" fill="#0035fc"/>
<rect x="243" y="599" width="12" height="22" fill="#e4f814"/>
<rect x="257" y="599" width="12" height="22" fill="#ddfb1b"/>
<rect x="271" y="599" width="12" height="22" fill="#adff4a"/>
<rect x="285" y="599" width="12" height="22" fill="#9cff5a"/>
<rect x="255" y="599" width="2" height="22" fill="#0062ff"/>
<rect x="269" y="599" width="2" height="22" fill="#0076ff"/>
<rect x="283" y="599" width="2" height="22" fill="#003cfd"/>
<rect x="297" y="599" width="12" height="22" fill="#0027f9"/>
<rect x="131" y="621" width="178" height="1" fill="#000000"/>
<rect x="131" y="624" width="112" height="6" fill="#0035fc"/>
<rect x="243" y="624" width="12" height="6" fill="#f9e004"/>
<rect x="257" y="624" width="12" height="6" fill="#f5e806"/>
<rect x="271" y="624" width="12" height="6" fill="#ebf40e"/>
<rect x="285" y="624" width="12" height="6" fill="#ddfb1b"/>
<rect x="255" y="624" width="2" height="6" fill="#0062ff"/>
<rect x="269" y="624" width="2" height="6" fill="#0076ff"/>
<rect x="283" y="624" width="2" height="6" fill="#003cfd"/>
<rect x="297" y="624" width="12" height="6" fill="#0027f9"/>
<rect x="131" y="632" width="112" height="7" fill="#0035fc"/>
<rect x="243" y="632" width="12" height="7" fill="#f9e004"/>
<rect x="257" y="632" width="12" height="7" fill="#f5e806"/>
<rect x="271" y="632" width="12" height="7" fill="#ebf40e"/>
<rect x="285" y="632" width="12" height="7" fill="#ddfb1b"/>
<rect x="255" y="632" width="2" height="7" fill="#0062ff"/>
<rect x="269" y="632" width="2" height="7" fill="#0076ff"/>
<rect x="283" y="632" width="2" height="7" fill="#003cfd"/>
<rect x="297" y="632" width="12" height="7" fill="#0027f9"/>
<rect x="131" y="640" width="112" height="15" fill="#0035fc"/>
<rect x="243" y="640" width="12" height="15" fill="#f9e004"/>
<rect x="257" y="640" width="12" height="15" fill="#f5e806"/>
<rect x="271" y="640" width="12" height="15" fill="#ebf40e"/>
<rect x="285" y="640" width="12" height="15" fill="#ddfb1b"/>
<rect x="255" y="640" width="2" height="15" fill="#0062ff"/>
<rect x="269" y="640" width="2" height="15" fill="#0076ff"/>
<rect x="283" y="640" width="2" height="15" fill="#003cfd"/>
<rect x="297" y="640" width="12" height="15" fill="#0027f9"/>
<rect x="131" y="655" width="178" height="1" fill="#000000"/>
<rect x="131" y="656" width="112" height="8" fill="#0035fc"/>
<rect x="243" y="656" width="12" height="8" fill="#ffbd00"/>
<rect x="257" y="656" width="12" height="8" fill="#fdcf01"/>
<rect x="271" y="656" width="12" height="8" fill="#f9e004"/>
<rect x="285" y="656" width="12" height="8" fill="#fdcf01"/>
<rect x="255" y="656" width="2" height="8" fill="#0062ff"/>
<rect x="269" y="656" width="2" height="8" fill="#0076ff"/>
<rect x="283" y="656" width="2" height="8" fill="#003cfd"/>
<rect x="297" y="656" width="12" height="8" fill="#0027f9"/>
<rect x="131" y="665" width="112" height="8" fill="#0035fc"/>
<rect x="243" y="665" width="12" height="8" fill="#ffbd00"/>
<rect x="257" y="665" width="12" height="8" fill="#fdcf01"/>
<rect x="271" y="665" width="12" height="8" fill="#f9e004"/>
<rect x="285" y="665" width="12" height="8" fill="#fdcf01"/>
<rect x="255" y="665" width="2" height="8" fill="#0062ff"/>
<rect x="269" y="665" width="2" height="8" fill="#0076ff"/>
<rect x="283" y="665" width="2" height="8" fill="#003cfd"/>
<rect x="297" y="665" width="12" height="8" fill="#0027f9"/>
<rect x="131" y="674" width="112" height="3" fill="#02a8fc"/>
<rect x="243" y="674" width="12" height="3" fill="#ffbd00"/>
<rect x="257" y="674" width="12" height="3" fill="#fdcf01"/>
<rect x="271" y="674" width="12" height="3" fill="#f9e004"/>
<rect x="285" y="674" width="12" height="3" fill="#fdcf01"/>
<rect x="255" y="674" width="2" height="3" fill="#0062ff"/>
<rect x="269" y="674" width="2" height="3" fill="#0076ff"/>
<rect x="283" y="674" width="2" height="3" fill="#003cfd"/>
<rect x="297" y="674" width="12" height="3" fill="#0076ff"/>
<rect x="131" y="677" width="178" height="1" fill="#000000"/>
<rect x="131" y="680" width="112" height="12" fill="#0035fc"/>
<rect x="243" y="680" width="12" height="12" fill="#fec600"/>
<rect x="257" y="680" width="12" height="12" fill="#f9e004"/>
<rect x="271" y="680" width="12" height="12" fill="#f5e806"/>
<rect x="285" y="680" width="12" height="12" fill="#f1ee0a"/>
<rect x="255" y="680" width="2" height="12" fill="#0062ff"/>
<rect x="269" y="680" width="2" height="12" fill="#0076ff"/>
<rect x="283" y="680" width="2" height="12" fill="#003cfd"/>
<rect x="297" y="680" width="12" height="12" fill="#0027f9"/>
<rect x="131" y="693" width="112" height="8" fill="#0035fc"/>
<rect x="243" y="693" width="12" height="8" fill="#fec600"/>
<rect x="257" y="693" width="12" height="8" fill="#f9e004"/>
<rect x="271" y="693" width="12" height="8" fill="#f5e806"/>
<rect x="285" y="693" width="12" height="8" fill="#f1ee0a"/>
<rect x="255" y="693" width="2" height="8" fill="#0062ff"/>
<rect x="269" y="693" width="2" height="8" fill="#0076ff"/>
<rect x="283" y="693" width="2" height="8" fill="#003cfd"/>
<rect x="297" y="693" width="12" height="8" fill="#0027f9"/>
<rect x="131" y="703" width="178" height="1" fill="#000000"/>
<rect x="131" y="704" width="112" height="2" fill="#0035fc"/>
<rect x="243" y="704" width="12" height="2" fill="#fec600"/>
<rect x="257" y="704" width="12" height="2" fill="#f9e004"/>
<rect x="271" y="704" width="12" height="2" fill="#f5e806"/>
<rect x="285" y="704" width="12" height="2" fill="#f1ee0a"/>
<rect x="255" y="704" width="2" height="2" fill="#0062ff"/>
<rect x="269" y="704" width="2" height="2" fill="#0076ff"/>
<rect x="283" y="704" width="2" height="2" fill="#003cfd"/>
<rect x="297" y="704" width="12" height="2" fill="#0027f9"/>
<rect x="131" y="708" width="112" height="12" fill="#0035fc"/>
<rect x="243" y="708" width="12" height="12" fill="#fec600"/>
<rect x="257" y="708" width="12" height="12" fill="#f9e004"/>
<rect x="271" y="708" width="12" height="12" fill="#f5e806"/>
<rect x="285" y="708" width="12" height="12" fill="#f1ee0a"/>
<rect x="255" y="708" width="2" height="12" fill="#0062ff"/>
<rect x="269" y="708" width="2" height="12" fill="#0076ff"/>
<rect x="283" y="708" width="2" height="12" fill="#003cfd"/>
<rect x="297" y="708" width="12" height="12" fill="#0027f9"/>
<rect x="140" y="479" width="92" height="1" fill="#1380de"/>
<clipPath id="cl0"><rect x="131" y="80" width="112" height="640"/></clipPath>
<g clip-path="url(#cl0)" shape-rendering="auto">
<radialGradient id="b0_0"><stop offset="0" stop-color="#0082fe" stop-opacity="1.000"/><stop offset="0.2" stop-color="#0082fe" stop-opacity="0.852"/><stop offset="0.4" stop-color="#0082fe" stop-opacity="0.527"/><stop offset="0.6" stop-color="#0082fe" stop-opacity="0.237"/><stop offset="0.8" stop-color="#0082fe" stop-opacity="0.077"/><stop offset="1" stop-color="#0082fe" stop-opacity="0.018"/></radialGradient>
<ellipse cx="200" cy="432" rx="36" ry="12" fill="url(#b0_0)"/>
<radialGradient id="b0_1"><stop offset="0" stop-color="#0050fe" stop-opacity="1.000"/><stop offset="0.2" stop-color="#0050fe" stop-opacity="0.852"/><stop offset="0.4" stop-color="#0050fe" stop-opacity="0.527"/><stop offset="0.6" stop-color="#0050fe" stop-opacity="0.237"/><stop offset="0.8" stop-color="#0050fe" stop-opacity="0.077"/><stop offset="1" stop-color="#0050fe" stop-opacity="0.018"/></radialGradient>
<ellipse cx="190" cy="478" rx="120" ry="24" fill="url(#b0_1)"/>
<radialGradient id="b0_2"><stop offset="0" stop-color="#0082fe" stop-opacity="1.000"/><stop offset="0.2" stop-color="#0082fe" stop-opacity="0.852"/><stop offset="0.4" stop-color="#0082fe" stop-opacity="0.527"/><stop offset="0.6" stop-color="#0082fe" stop-opacity="0.237"/><stop offset="0.8" stop-color="#0082fe" stop-opacity="0.077"/><stop offset="1" stop-color="#0082fe" stop-opacity="0.018"/></radialGradient>
<ellipse cx="215" cy="493" rx="60" ry="8" fill="url(#b0_2)"/>
<radialGradient id="b0_3"><stop offset="0" stop-color="#018cfe" stop-opacity="1.000"/><stop offset="0.2" stop-color="#018cfe" stop-opacity="0.852"/><stop offset="0.4" stop-color="#018cfe" stop-opacity="0.527"/><stop offset="0.6" stop-color="#018cfe" stop-opacity="0.237"/><stop offset="0.8" stop-color="#018cfe" stop-opacity="0.077"/><stop offset="1" stop-color="#018cfe" stop-opacity="0.018"/></radialGradient>
<ellipse cx="200" cy="546" rx="50" ry="10" fill="url(#b0_3)"/>
<radialGradient id="b0_4"><stop offset="0" stop-color="#005afe" stop-opacity="1.000"/><stop offset="0.2" stop-color="#005afe" stop-opacity="0.852"/><stop offset="0.4" stop-color="#005afe" stop-opacity="0.527"/><stop offset="0.6" stop-color="#005afe" stop-opacity="0.237"/><stop offset="0.8" stop-color="#005afe" stop-opacity="0.077"/><stop offset="1" stop-color="#005afe" stop-opacity="0.018"/></radialGradient>
<ellipse cx="215" cy="575" rx="60" ry="24" fill="url(#b0_4)"/>
<radialGradient id="b0_5"><stop offset="0" stop-color="#02aafb" stop-opacity="1.000"/><stop offset="0.2" stop-color="#02aafb" stop-opacity="0.852"/><stop offset="0.4" stop-color="#02aafb" stop-opacity="0.527"/><stop offset="0.6" stop-color="#02aafb" stop-opacity="0.237"/><stop offset="0.8" stop-color="#02aafb" stop-opacity="0.077"/><stop offset="1" stop-color="#02aafb" stop-opacity="0.018"/></radialGradient>
<ellipse cx="192" cy="604" rx="28" ry="16" fill="url(#b0_5)"/>
<radialGradient id="b0_6"><stop offset="0" stop-color="#018cfe" stop-opacity="1.000"/><stop offset="0.2" stop-color="#018cfe" stop-opacity="0.852"/><stop offset="0.4" stop-color="#018cfe" stop-opacity="0.527"/><stop offset="0.6" stop-color="#018cfe" stop-opacity="0.237"/><stop offset="0.8" stop-color="#018cfe" stop-opacity="0.077"/><stop offset="1" stop-color="#018cfe" stop-opacity="0.018"/></radialGradient>
<ellipse cx="232" cy="612" rx="24" ry="16" fill="url(#b0_6)"/>
<radialGradient id="b0_7"><stop offset="0" stop-color="#005afe" stop-opacity="1.000"/><stop offset="0.2" stop-color="#005afe" stop-opacity="0.852"/><stop offset="0.4" stop-color="#005afe" stop-opacity="0.527"/><stop offset="0.6" stop-color="#005afe" stop-opacity="0.237"/><stop offset="0.8" stop-color="#005afe" stop-opacity="0.077"/><stop offset="1" stop-color="#005afe" stop-opacity="0.018"/></radialGradient>
<ellipse cx="175" cy="605" rx="90" ry="28" fill="url(#b0_7)"/>
<radialGradient id="b0_8"><stop offset="0" stop-color="#0082fe" stop-opacity="1.000"/><stop offset="0.2" stop-color="#0082fe" stop-opacity="0.852"/><stop offset="0.4" stop-color="#0082fe" stop-opacity="0.527"/><stop offset="0.6" stop-color="#0082fe" stop-opacity="0.237"/><stop offset="0.8" stop-color="#0082fe" stop-opacity="0.077"/><stop offset="1" stop-color="#0082fe" stop-opacity="0.018"/></radialGradient>
<ellipse cx="185" cy="647" rx="110" ry="8" fill="url(#b0_8)"/>
</g>
<rect x="131" y="92" width="112" height="2" fill="#000"/>
<rect x="131" y="111" width="112" height="1" fill="#fff"/>
<rect x="131" y="117" width="112" height="1" fill="#fff"/>
<rect x="131" y="122" width="112" height="1" fill="#000"/>
<rect x="131" y="130" width="112" height="5" fill="#fff"/>
<rect x="131" y="139" width="112" height="1" fill="#fff"/>
<rect x="131" y="142" width="112" height="1" fill="#fff"/>
<rect x="131" y="145" width="112" height="1" fill="#fff"/>
<rect x="131" y="160" width="112" height="5" fill="#fff"/>
<rect x="131" y="170" width="112" height="2" fill="#000"/>
<rect x="131" y="172" width="112" height="1" fill="#fff"/>
<rect x="131" y="176" width="112" height="1" fill="#fff"/>
<rect x="131" y="179" width="112" height="1" fill="#fff"/>
<rect x="131" y="183" width="112" height="4" fill="#fff"/>
<rect x="131" y="190" width="112" height="1" fill="#000"/>
<rect x="131" y="197" width="112" height="37" fill="#fff"/>
<rect x="131" y="237" width="112" height="1" fill="#fff"/>
<rect x="131" y="240" width="112" height="13" fill="#fff"/>
<rect x="131" y="260" width="112" height="1" fill="#fff"/>
<rect x="131" y="263" width="112" height="35" fill="#fff"/>
<rect x="131" y="301" width="112" height="1" fill="#fff"/>
<rect x="131" y="303" width="112" height="1" fill="#000"/>
<rect x="131" y="304" width="112" height="77" fill="#fff"/>
<rect x="131" y="382" width="112" height="1" fill="#fff"/>
<rect x="131" y="384" width="112" height="1" fill="#fff"/>
<rect x="131" y="386" width="112" height="1" fill="#fff"/>
<rect x="131" y="388" width="112" height="1" fill="#fff"/>
<rect x="131" y="392" width="112" height="1" fill="#fff"/>
<rect x="131" y="395" width="112" height="1" fill="#000"/>
<rect x="131" y="400" width="112" height="1" fill="#000"/>
<rect x="131" y="404" width="112" height="1" fill="#000"/>
<rect x="131" y="408" width="112" height="1" fill="#fff"/>
<rect x="131" y="409" width="112" height="1" fill="#000"/>
<rect x="131" y="420" width="112" height="1" fill="#000"/>
<rect x="131" y="424" width="112" height="1" fill="#000"/>
<rect x="131" y="425" width="112" height="2" fill="#fff"/>
<rect x="131" y="438" width="112" height="1" fill="#fff"/>
<rect x="131" y="440" width="112" height="1" fill="#fff"/>
<rect x="131" y="443" width="112" height="1" fill="#000"/>
<rect x="131" y="444" width="112" height="3" fill="#fff"/>
<rect x="131" y="449" width="112" height="1" fill="#fff"/>
<rect x="131" y="452" width="112" height="1" fill="#000"/>
<rect x="131" y="454" width="112" height="1" fill="#000"/>
<rect x="131" y="468" width="112" height="1" fill="#000"/>
<rect x="131" y="471" width="112" height="1" fill="#000"/>
<rect x="131" y="474" width="112" height="1" fill="#000"/>
<rect x="131" y="489" width="112" height="1" fill="#fff"/>
<rect x="131" y="492" width="112" height="1" fill="#fff"/>
<rect x="131" y="496" width="112" height="1" fill="#fff"/>
<rect x="131" y="498" width="112" height="4" fill="#fff"/>
<rect x="131" y="502" width="112" height="1" fill="#000"/>
<rect x="131" y="503" width="112" height="1" fill="#fff"/>
<rect x="131" y="509" width="112" height="1" fill="#000"/>
<rect x="131" y="516" width="112" height="2" fill="#fff"/>
<rect x="131" y="522" width="112" height="1" fill="#fff"/>
<rect x="131" y="523" width="112" height="2" fill="#000"/>
<rect x="131" y="529" width="112" height="1" fill="#fff"/>
<rect x="131" y="532" width="112" height="1" fill="#fff"/>
<rect x="131" y="533" width="112" height="1" fill="#000"/>
<rect x="131" y="536" width="112" height="1" fill="#000"/>
<rect x="131" y="540" width="112" height="1" fill="#000"/>
<rect x="131" y="543" width="112" height="1" fill="#fff"/>
<rect x="131" y="555" width="112" height="2" fill="#000"/>
<rect x="131" y="557" width="112" height="1" fill="#fff"/>
<rect x="131" y="560" width="112" height="1" fill="#000"/>
<rect x="131" y="563" width="112" height="1" fill="#fff"/>
<rect x="131" y="588" width="112" height="2" fill="#000"/>
<rect x="131" y="590" width="112" height="1" fill="#fff"/>
<rect x="131" y="598" width="112" height="1" fill="#fff"/>
<rect x="131" y="621" width="112" height="1" fill="#000"/>
<rect x="131" y="622" width="112" height="2" fill="#fff"/>
<rect x="131" y="630" width="112" height="2" fill="#fff"/>
<rect x="131" y="639" width="112" height="1" fill="#fff"/>
<rect x="131" y="655" width="112" height="1" fill="#000"/>
<rect x="131" y="664" width="112" height="1" fill="#fff"/>
<rect x="131" y="673" width="112" height="1" fill="#fff"/>
<rect x="131" y="677" width="112" height="1" fill="#000"/>
<rect x="131" y="678" width="112" height="2" fill="#fff"/>
<rect x="131" y="692" width="112" height="1" fill="#fff"/>
<rect x="131" y="701" width="112" height="2" fill="#fff"/>
<rect x="131" y="703" width="112" height="1" fill="#000"/>
<rect x="131" y="706" width="112" height="2" fill="#fff"/>
<rect x="344" y="80" width="112" height="12" fill="#0024f8"/>
<rect x="456" y="80" width="11" height="12" fill="#ebf40e"/>
<rect x="469" y="80" width="12" height="12" fill="#f1ee0a"/>
<rect x="483" y="80" width="13" height="12" fill="#bdff3a"/>
<rect x="497" y="80" width="12" height="12" fill="#ddfb1b"/>
<rect x="467" y="80" width="2" height="12" fill="#0062ff"/>
<rect x="481" y="80" width="2" height="12" fill="#004efe"/>
<rect x="496" y="80" width="1" height="12" fill="#004efe"/>
<rect x="509" y="80" width="12" height="12" fill="#0024f8"/>
<rect x="399" y="80" width="1" height="12" fill="#a5fe52"/>
<rect x="344" y="92" width="177" height="2" fill="#000000"/>
<rect x="344" y="94" width="112" height="17" fill="#08d3f4"/>
<rect x="456" y="94" width="11" height="17" fill="#ffb300"/>
<rect x="469" y="94" width="12" height="17" fill="#fdcf01"/>
<rect x="483" y="94" width="13" height="17" fill="#ffaa00"/>
<rect x="497" y="94" width="12" height="17" fill="#ffb300"/>
<rect x="467" y="94" width="2" height="17" fill="#03bcfb"/>
<rect x="481" y="94" width="2" height="17" fill="#019efe"/>
<rect x="496" y="94" width="1" height="17" fill="#008aff"/>
<rect x="509" y="94" width="12" height="17" fill="#0194fe"/>
<rect x="399" y="94" width="1" height="17" fill="#a5fe52"/>
<rect x="344" y="112" width="112" height="5" fill="#08d3f4"/>
<rect x="456" y="112" width="11" height="5" fill="#ffaa00"/>
<rect x="469" y="112" width="12" height="5" fill="#f9e004"/>
<rect x="483" y="112" width="13" height="5" fill="#fbd802"/>
<rect x="497" y="112" width="12" height="5" fill="#f9e004"/>
<rect x="467" y="112" width="2" height="5" fill="#03bcfb"/>
<rect x="481" y="112" width="2" height="5" fill="#019efe"/>
<rect x="496" y="112" width="1" height="5" fill="#008aff"/>
<rect x="509" y="112" width="12" height="5" fill="#0194fe"/>
<rect x="399" y="112" width="1" height="5" fill="#a5fe52"/>
<rect x="344" y="118" width="112" height="4" fill="#0062ff"/>
<rect x="456" y="118" width="11" height="4" fill="#ffaa00"/>
<rect x="469" y="118" width="12" height="4" fill="#f9e004"/>
<rect x="483" y="118" width="13" height="4" fill="#fbd802"/>
<rect x="497" y="118" width="12" height="4" fill="#f9e004"/>
<rect x="467" y="118" width="2" height="4" fill="#03bcfb"/>
<rect x="481" y="118" width="2" height="4" fill="#019efe"/>
<rect x="496" y="118" width="1" height="4" fill="#008aff"/>
<rect x="509" y="118" width="12" height="4" fill="#004efe"/>
<rect x="399" y="118" width="1" height="4" fill="#a5fe52"/>
<rect x="344" y="122" width="177" height="1" fill="#000000"/>
<rect x="344" y="123" width="112" height="7" fill="#08d3f4"/>
<rect x="456" y="123" width="11" height="7" fill="#ffa000"/>
<rect x="469" y="123" width="12" height="7" fill="#ffb300"/>
<rect x="483" y="123" width="13" height="7" fill="#ffb300"/>
<rect x="497" y="123" width="12" height="7" fill="#ffbd00"/>
<rect x="467" y="123" width="2" height="7" fill="#03bcfb"/>
<rect x="481" y="123" width="2" height="7" fill="#019efe"/>
<rect x="496" y="123" width="1" height="7" fill="#008aff"/>
<rect x="509" y="123" width="12" height="7" fill="#0194fe"/>
<rect x="399" y="123" width="1" height="7" fill="#a5fe52"/>
<rect x="344" y="135" width="112" height="1" fill="#08d3f4"/>
<rect x="456" y="135" width="11" height="1" fill="#fdcf01"/>
<rect x="469" y="135" width="12" height="1" fill="#f9e004"/>
<rect x="483" y="135" width="13" height="1" fill="#f5e806"/>
<rect x="497" y="135" width="12" height="1" fill="#f5e806"/>
<rect x="467" y="135" width="2" height="1" fill="#03bcfb"/>
<rect x="481" y="135" width="2" height="1" fill="#019efe"/>
<rect x="496" y="135" width="1" height="1" fill="#008aff"/>
<rect x="509" y="135" width="12" height="1" fill="#0194fe"/>
<rect x="399" y="135" width="1" height="1" fill="#a5fe52"/>
<rect x="344" y="136" width="112" height="2" fill="#10a7eb"/>
<rect x="456" y="136" width="11" height="2" fill="#fdcf01"/>
<rect x="469" y="136" width="12" height="2" fill="#f9e004"/>
<rect x="483" y="136" width="13" height="2" fill="#f5e806"/>
<rect x="497" y="136" width="12" height="2" fill="#f5e806"/>
<rect x="467" y="136" width="2" height="2" fill="#03bcfb"/>
<rect x="481" y="136" width="2" height="2" fill="#019efe"/>
<rect x="496" y="136" width="1" height="2" fill="#008aff"/>
<rect x="509" y="136" width="12" height="2" fill="#018afe"/>
<rect x="399" y="136" width="1" height="2" fill="#a5fe52"/>
<rect x="344" y="138" width="112" height="1" fill="#08d3f4"/>
<rect x="456" y="138" width="11" height="1" fill="#fdcf01"/>
<rect x="469" y="138" width="12" height="1" fill="#f9e004"/>
<rect x="483" y="138" width="13" height="1" fill="#f5e806"/>
<rect x="497" y="138" width="12" height="1" fill="#f5e806"/>
<rect x="467" y="138" width="2" height="1" fill="#03bcfb"/>
<rect x="481" y="138" width="2" height="1" fill="#019efe"/>
<rect x="496" y="138" width="1" height="1" fill="#008aff"/>
<rect x="509" y="138" width="12" height="1" fill="#0194fe"/>
<rect x="399" y="138" width="1" height="1" fill="#a5fe52"/>
<rect x="344" y="140" width="112" height="2" fill="#08d3f4"/>
<rect x="456" y="140" width="11" height="2" fill="#fdcf01"/>
<rect x="469" y="140" width="12" height="2" fill="#f9e004"/>
<rect x="483" y="140" width="13" height="2" fill="#f5e806"/>
<rect x="497" y="140" width="12" height="2" fill="#f5e806"/>
<rect x="467" y="140" width="2" height="2" fill="#03bcfb"/>
<rect x="481" y="140" width="2" height="2" fill="#019efe"/>
<rect x="496" y="140" width="1" height="2" fill="#008aff"/>
<rect x="509" y="140" width="12" height="2" fill="#0194fe"/>
<rect x="399" y="140" width="1" height="2" fill="#a5fe52"/>
<rect x="344" y="143" width="112" height="2" fill="#08d3f4"/>
<rect x="456" y="143" width="11" height="2" fill="#fdcf01"/>
<rect x="469" y="143" width="12" height="2" fill="#f9e004"/>
<rect x="483" y="143" width="13" height="2" fill="#f5e806"/>
<rect x="497" y="143" width="12" height="2" fill="#f5e806"/>
<rect x="467" y="143" width="2" height="2" fill="#03bcfb"/>
<rect x="481" y="143" width="2" height="2" fill="#019efe"/>
<rect x="496" y="143" width="1" height="2" fill="#008aff"/>
<rect x="509" y="143" width="12" height="2" fill="#0194fe"/>
<rect x="399" y="143" width="1" height="2" fill="#a5fe52"/>
<rect x="344" y="146" width="112" height="14" fill="#08d3f4"/>
<rect x="456" y="146" width="11" height="14" fill="#f9e004"/>
<rect x="469" y="146" width="12" height="14" fill="#fec600"/>
<rect x="483" y="146" width="13" height="14" fill="#f5e806"/>
<rect x="497" y="146" width="12" height="14" fill="#ebf40e"/>
<rect x="467" y="146" width="2" height="14" fill="#03bcfb"/>
<rect x="481" y="146" width="2" height="14" fill="#019efe"/>
<rect x="496" y="146" width="1" height="14" fill="#008aff"/>
<rect x="509" y="146" width="12" height="14" fill="#0194fe"/>
<rect x="399" y="146" width="1" height="14" fill="#a5fe52"/>
<rect x="344" y="165" width="112" height="5" fill="#08d3f4"/>
<rect x="456" y="165" width="11" height="5" fill="#f5e806"/>
<rect x="469" y="165" width="12" height="5" fill="#f9e004"/>
<rect x="483" y="165" width="13" height="5" fill="#e4f814"/>
<rect x="497" y="165" width="12" height="5" fill="#e4f814"/>
<rect x="467" y="165" width="2" height="5" fill="#03bcfb"/>
<rect x="481" y="165" width="2" height="5" fill="#019efe"/>
<rect x="496" y="165" width="1" height="5" fill="#008aff"/>
<rect x="509" y="165" width="12" height="5" fill="#0194fe"/>
<rect x="399" y="165" width="1" height="5" fill="#a5fe52"/>
<rect x="344" y="170" width="177" height="2" fill="#000000"/>
<rect x="344" y="173" width="112" height="3" fill="#002bfa"/>
<rect x="456" y="173" width="11" height="3" fill="#ff9700"/>
<rect x="469" y="173" width="12" height="3" fill="#ff9700"/>
<rect x="483" y="173" width="13" height="3" fill="#ffb300"/>
<rect x="497" y="173" width="12" height="3" fill="#ffbd00"/>
<rect x="467" y="173" width="2" height="3" fill="#0062ff"/>
<rect x="481" y="173" width="2" height="3" fill="#004efe"/>
<rect x="496" y="173" width="1" height="3" fill="#004efe"/>
<rect x="509" y="173" width="12" height="3" fill="#002bfa"/>
<rect x="399" y="173" width="1" height="3" fill="#a5fe52"/>
<rect x="432" y="173" width="1" height="3" fill="#03b1fa"/>
<rect x="344" y="177" width="112" height="2" fill="#002bfa"/>
<rect x="456" y="177" width="11" height="2" fill="#ff9700"/>
<rect x="469" y="177" width="12" height="2" fill="#ff9700"/>
<rect x="483" y="177" width="13" height="2" fill="#ffb300"/>
<rect x="497" y="177" width="12" height="2" fill="#ffbd00"/>
<rect x="467" y="177" width="2" height="2" fill="#0062ff"/>
<rect x="481" y="177" width="2" height="2" fill="#004efe"/>
<rect x="496" y="177" width="1" height="2" fill="#004efe"/>
<rect x="509" y="177" width="12" height="2" fill="#002bfa"/>
<rect x="399" y="177" width="1" height="2" fill="#a5fe52"/>
<rect x="432" y="177" width="1" height="2" fill="#03b1fa"/>
<rect x="344" y="180" width="112" height="3" fill="#0033fc"/>
<rect x="456" y="180" width="11" height="3" fill="#ff9700"/>
<rect x="469" y="180" width="12" height="3" fill="#ff9700"/>
<rect x="483" y="180" width="13" height="3" fill="#ffb300"/>
<rect x="497" y="180" width="12" height="3" fill="#ffbd00"/>
<rect x="467" y="180" width="2" height="3" fill="#0062ff"/>
<rect x="481" y="180" width="2" height="3" fill="#004efe"/>
<rect x="496" y="180" width="1" height="3" fill="#004efe"/>
<rect x="509" y="180" width="12" height="3" fill="#004efe"/>
<rect x="399" y="180" width="1" height="3" fill="#a5fe52"/>
<rect x="344" y="187" width="112" height="3" fill="#002bfa"/>
<rect x="456" y="187" width="11" height="3" fill="#e4f814"/>
<rect x="469" y="187" width="12" height="3" fill="#f1ee0a"/>
<rect x="483" y="187" width="13" height="3" fill="#a5ff52"/>
<rect x="497" y="187" width="12" height="3" fill="#cefe29"/>
<rect x="467" y="187" width="2" height="3" fill="#0062ff"/>
<rect x="481" y="187" width="2" height="3" fill="#004efe"/>
<rect x="496" y="187" width="1" height="3" fill="#004efe"/>
<rect x="509" y="187" width="12" height="3" fill="#002bfa"/>
<rect x="399" y="187" width="1" height="3" fill="#a5fe52"/>
<rect x="432" y="187" width="1" height="3" fill="#03b1fa"/>
<rect x="344" y="190" width="177" height="1" fill="#000000"/>
<rect x="344" y="191" width="112" height="6" fill="#002bfa"/>
<rect x="456" y="191" width="11" height="6" fill="#e4f814"/>
<rect x="469" y="191" width="12" height="6" fill="#f1ee0a"/>
<rect x="483" y="191" width="13" height="6" fill="#a5ff52"/>
<rect x="497" y="191" width="12" height="6" fill="#cefe29"/>
<rect x="467" y="191" width="2" height="6" fill="#0062ff"/>
<rect x="481" y="191" width="2" height="6" fill="#004efe"/>
<rect x="496" y="191" width="1" height="6" fill="#004efe"/>
<rect x="509" y="191" width="12" height="6" fill="#002bfa"/>
<rect x="399" y="191" width="1" height="6" fill="#a5fe52"/>
<rect x="432" y="191" width="1" height="6" fill="#03b1fa"/>
<rect x="344" y="234" width="112" height="3" fill="#08d3f4"/>
<rect x="456" y="234" width="11" height="3" fill="#ffaa00"/>
<rect x="469" y="234" width="12" height="3" fill="#fec600"/>
<rect x="483" y="234" width="13" height="3" fill="#f5e806"/>
<rect x="497" y="234" width="12" height="3" fill="#e4f814"/>
<rect x="467" y="234" width="2" height="3" fill="#03bcfb"/>
<rect x="481" y="234" width="2" height="3" fill="#019efe"/>
<rect x="496" y="234" width="1" height="3" fill="#008aff"/>
<rect x="509" y="234" width="12" height="3" fill="#0058fe"/>
<rect x="399" y="234" width="1" height="3" fill="#a5fe52"/>
<rect x="344" y="238" width="112" height="2" fill="#08d3f4"/>
<rect x="456" y="238" width="11" height="2" fill="#ffaa00"/>
<rect x="469" y="238" width="12" height="2" fill="#fec600"/>
<rect x="483" y="238" width="13" height="2" fill="#f5e806"/>
<rect x="497" y="238" width="12" height="2" fill="#e4f814"/>
<rect x="467" y="238" width="2" height="2" fill="#03bcfb"/>
<rect x="481" y="238" width="2" height="2" fill="#019efe"/>
<rect x="496" y="238" width="1" height="2" fill="#008aff"/>
<rect x="509" y="238" width="12" height="2" fill="#0058fe"/>
<rect x="399" y="238" width="1" height="2" fill="#a5fe52"/>
<rect x="344" y="253" width="112" height="7" fill="#08d3f4"/>
<rect x="456" y="253" width="11" height="7" fill="#ff8e00"/>
<rect x="469" y="253" width="12" height="7" fill="#ffa000"/>
<rect x="483" y="253" width="13" height="7" fill="#ffb300"/>
<rect x="497" y="253" width="12" height="7" fill="#ffaa00"/>
<rect x="467" y="253" width="2" height="7" fill="#03bcfb"/>
<rect x="481" y="253" width="2" height="7" fill="#019efe"/>
<rect x="496" y="253" width="1" height="7" fill="#008aff"/>
<rect x="509" y="253" width="12" height="7" fill="#0058fe"/>
<rect x="399" y="253" width="1" height="7" fill="#a5fe52"/>
<rect x="344" y="261" width="112" height="2" fill="#08d3f4"/>
<rect x="456" y="261" width="11" height="2" fill="#ff8e00"/>
<rect x="469" y="261" width="12" height="2" fill="#ffa000"/>
<rect x="483" y="261" width="13" height="2" fill="#ffb300"/>
<rect x="497" y="261" width="12" height="2" fill="#ffaa00"/>
<rect x="467" y="261" width="2" height="2" fill="#03bcfb"/>
<rect x="481" y="261" width="2" height="2" fill="#019efe"/>
<rect x="496" y="261" width="1" height="2" fill="#008aff"/>
<rect x="509" y="261" width="12" height="2" fill="#0058fe"/>
<rect x="399" y="261" width="1" height="2" fill="#a5fe52"/>
<rect x="344" y="298" width="112" height="3" fill="#0045fe"/>
<rect x="456" y="298" width="11" height="3" fill="#ffbd00"/>
<rect x="469" y="298" width="12" height="3" fill="#f5e806"/>
<rect x="483" y="298" width="13" height="3" fill="#ddfb1b"/>
<rect x="497" y="298" width="12" height="3" fill="#ddfb1b"/>
<rect x="467" y="298" width="2" height="3" fill="#0062ff"/>
<rect x="481" y="298" width="2" height="3" fill="#004efe"/>
<rect x="496" y="298" width="1" height="3" fill="#004efe"/>
<rect x="509" y="298" width="12" height="3" fill="#0033fc"/>
<rect x="399" y="298" width="1" height="3" fill="#a5fe52"/>
<rect x="432" y="298" width="1" height="3" fill="#03b1fa"/>
<rect x="344" y="302" width="112" height="1" fill="#0045fe"/>
<rect x="456" y="302" width="11" height="1" fill="#ffbd00"/>
<rect x="469" y="302" width="12" height="1" fill="#f5e806"/>
<rect x="483" y="302" width="13" height="1" fill="#ddfb1b"/>
<rect x="497" y="302" width="12" height="1" fill="#ddfb1b"/>
<rect x="467" y="302" width="2" height="1" fill="#0062ff"/>
<rect x="481" y="302" width="2" height="1" fill="#004efe"/>
<rect x="496" y="302" width="1" height="1" fill="#004efe"/>
<rect x="509" y="302" width="12" height="1" fill="#0033fc"/>
<rect x="399" y="302" width="1" height="1" fill="#a5fe52"/>
<rect x="432" y="302" width="1" height="1" fill="#03b1fa"/>
<rect x="344" y="303" width="177" height="1" fill="#000000"/>
<rect x="344" y="381" width="112" height="1" fill="#0033fc"/>
<rect x="456" y="381" width="11" height="1" fill="#fdcf01"/>
<rect x="469" y="381" width="12" height="1" fill="#ddfb1b"/>
<rect x="483" y="381" width="13" height="1" fill="#bdff3a"/>
<rect x="497" y="381" width="12" height="1" fill="#b5ff42"/>
<rect x="467" y="381" width="2" height="1" fill="#0062ff"/>
<rect x="481" y="381" width="2" height="1" fill="#004efe"/>
<rect x="496" y="381" width="1" height="1" fill="#004efe"/>
<rect x="509" y="381" width="12" height="1" fill="#0027f9"/>
<rect x="399" y="381" width="1" height="1" fill="#a5fe52"/>
<rect x="432" y="381" width="1" height="1" fill="#03b1fa"/>
<rect x="344" y="383" width="112" height="1" fill="#0033fc"/>
<rect x="456" y="383" width="11" height="1" fill="#fdcf01"/>
<rect x="469" y="383" width="12" height="1" fill="#ddfb1b"/>
<rect x="483" y="383" width="13" height="1" fill="#bdff3a"/>
<rect x="497" y="383" width="12" height="1" fill="#b5ff42"/>
<rect x="467" y="383" width="2" height="1" fill="#0062ff"/>
<rect x="481" y="383" width="2" height="1" fill="#004efe"/>
<rect x="496" y="383" width="1" height="1" fill="#004efe"/>
<rect x="509" y="383" width="12" height="1" fill="#0027f9"/>
<rect x="399" y="383" width="1" height="1" fill="#a5fe52"/>
<rect x="432" y="383" width="1" height="1" fill="#03b1fa"/>
<rect x="344" y="385" width="112" height="1" fill="#0033fc"/>
<rect x="456" y="385" width="11" height="1" fill="#fdcf01"/>
<rect x="469" y="385" width="12" height="1" fill="#ddfb1b"/>
<rect x="483" y="385" width="13" height="1" fill="#bdff3a"/>
<rect x="497" y="385" width="12" height="1" fill="#b5ff42"/>
<rect x="467" y="385" width="2" height="1" fill="#0062ff"/>
<rect x="481" y="385" width="2" height="1" fill="#004efe"/>
<rect x="496" y="385" width="1" height="1" fill="#004efe"/>
<rect x="509" y="385" width="12" height="1" fill="#0027f9"/>
<rect x="399" y="385" width="1" height="1" fill="#a5fe52"/>
<rect x="432" y="385" width="1" height="1" fill="#03b1fa"/>
<rect x="344" y="387" width="112" height="1" fill="#0033fc"/>
<rect x="456" y="387" width="11" height="1" fill="#fdcf01"/>
<rect x="469" y="387" width="12" height="1" fill="#ddfb1b"/>
<rect x="483" y="387" width="13" height="1" fill="#bdff3a"/>
<rect x="497" y="387" width="12" height="1" fill="#b5ff42"/>
<rect x="467" y="387" width="2" height="1" fill="#0062ff"/>
<rect x="481" y="387" width="2" height="1" fill="#004efe"/>
<rect x="496" y="387" width="1" height="1" fill="#004efe"/>
<rect x="509" y="387" width="12" height="1" fill="#0027f9"/>
<rect x="399" y="387" width="1" height="1" fill="#a5fe52"/>
<rect x="432" y="387" width="1" height="1" fill="#03b1fa"/>
<rect x="344" y="389" width="112" height="3" fill="#0033fc"/>
<rect x="456" y="389" width="11" height="3" fill="#fdcf01"/>
<rect x="469" y="389" width="12" height="3" fill="#ddfb1b"/>
<rect x="483" y="389" width="13" height="3" fill="#bdff3a"/>
<rect x="497" y="389" width="12" height="3" fill="#b5ff42"/>
<rect x="467" y="389" width="2" height="3" fill="#0062ff"/>
<rect x="481" y="389" width="2" height="3" fill="#004efe"/>
<rect x="496" y="389" width="1" height="3" fill="#004efe"/>
<rect x="509" y="389" width="12" height="3" fill="#0027f9"/>
<rect x="399" y="389" width="1" height="3" fill="#a5fe52"/>
<rect x="432" y="389" width="1" height="3" fill="#03b1fa"/>
<rect x="344" y="393" width="112" height="2" fill="#0033fc"/>
<rect x="456" y="393" width="11" height="2" fill="#ffb300"/>
<rect x="469" y="393" width="12" height="2" fill="#f1ee0a"/>
<rect x="483" y="393" width="13" height="2" fill="#b5ff42"/>
<rect x="497" y="393" width="12" height="2" fill="#a5ff52"/>
<rect x="467" y="393" width="2" height="2" fill="#0062ff"/>
<rect x="481" y="393" width="2" height="2" fill="#004efe"/>
<rect x="496" y="393" width="1" height="2" fill="#004efe"/>
<rect x="509" y="393" width="12" height="2" fill="#0027f9"/>
<rect x="399" y="393" width="1" height="2" fill="#a5fe52"/>
<rect x="432" y="393" width="1" height="2" fill="#03b1fa"/>
<rect x="344" y="395" width="177" height="1" fill="#000000"/>
<rect x="344" y="396" width="112" height="4" fill="#0033fc"/>
<rect x="456" y="396" width="11" height="4" fill="#ffb300"/>
<rect x="469" y="396" width="12" height="4" fill="#f1ee0a"/>
<rect x="483" y="396" width="13" height="4" fill="#b5ff42"/>
<rect x="497" y="396" width="12" height="4" fill="#a5ff52"/>
<rect x="467" y="396" width="2" height="4" fill="#0062ff"/>
<rect x="481" y="396" width="2" height="4" fill="#004efe"/>
<rect x="496" y="396" width="1" height="4" fill="#004efe"/>
<rect x="509" y="396" width="12" height="4" fill="#0027f9"/>
<rect x="399" y="396" width="1" height="4" fill="#a5fe52"/>
<rect x="432" y="396" width="1" height="4" fill="#03b1fa"/>
<rect x="344" y="400" width="177" height="1" fill="#000000"/>
<rect x="344" y="401" width="112" height="3" fill="#0033fc"/>
<rect x="456" y="401" width="11" height="3" fill="#ffb300"/>
<rect x="469" y="401" width="12" height="3" fill="#f1ee0a"/>
<rect x="483" y="401" width="13" height="3" fill="#b5ff42"/>
<rect x="497" y="401" width="12" height="3" fill="#a5ff52"/>
<rect x="467" y="401" width="2" height="3" fill="#0062ff"/>
<rect x="481" y="401" width="2" height="3" fill="#004efe"/>
<rect x="496" y="401" width="1" height="3" fill="#004efe"/>
<rect x="509" y="401" width="12" height="3" fill="#0027f9"/>
<rect x="399" y="401" width="1" height="3" fill="#a5fe52"/>
<rect x="432" y="401" width="1" height="3" fill="#03b1fa"/>
<rect x="344" y="404" width="177" height="1" fill="#000000"/>
<rect x="344" y="405" width="112" height="3" fill="#0033fc"/>
<rect x="456" y="405" width="11" height="3" fill="#ffb300"/>
<rect x="469" y="405" width="12" height="3" fill="#f1ee0a"/>
<rect x="483" y="405" width="13" height="3" fill="#b5ff42"/>
<rect x="497" y="405" width="12" height="3" fill="#a5ff52"/>
<rect x="467" y="405" width="2" height="3" fill="#0062ff"/>
<rect x="481" y="405" width="2" height="3" fill="#004efe"/>
<rect x="496" y="405" width="1" height="3" fill="#004efe"/>
<rect x="509" y="405" width="12" height="3" fill="#0027f9"/>
<rect x="399" y="405" width="1" height="3" fill="#a5fe52"/>
<rect x="432" y="405" width="1" height="3" fill="#03b1fa"/>
<rect x="344" y="409" width="177" height="1" fill="#000000"/>
<rect x="344" y="410" width="112" height="10" fill="#0033fc"/>
<rect x="456" y="410" width="11" height="10" fill="#f5e806"/>
<rect x="469" y="410" width="12" height="10" fill="#f9e004"/>
<rect x="483" y="410" width="13" height="10" fill="#9cff5a"/>
<rect x="497" y="410" width="12" height="10" fill="#9cff5a"/>
<rect x="467" y="410" width="2" height="10" fill="#0062ff"/>
<rect x="481" y="410" width="2" height="10" fill="#004efe"/>
<rect x="496" y="410" width="1" height="10" fill="#004efe"/>
<rect x="509" y="410" width="12" height="10" fill="#0027f9"/>
<rect x="399" y="410" width="1" height="10" fill="#a5fe52"/>
<rect x="432" y="410" width="1" height="10" fill="#03b1fa"/>
<rect x="344" y="420" width="177" height="1" fill="#000000"/>
<rect x="344" y="421" width="112" height="3" fill="#0033fc"/>
<rect x="456" y="421" width="11" height="3" fill="#f5e806"/>
<rect x="469" y="421" width="12" height="3" fill="#f9e004"/>
<rect x="483" y="421" width="13" height="3" fill="#9cff5a"/>
<rect x="497" y="421" width="12" height="3" fill="#9cff5a"/>
<rect x="467" y="421" width="2" height="3" fill="#0062ff"/>
<rect x="481" y="421" width="2" height="3" fill="#004efe"/>
<rect x="496" y="421" width="1" height="3" fill="#004efe"/>
<rect x="509" y="421" width="12" height="3" fill="#0027f9"/>
<rect x="399" y="421" width="1" height="3" fill="#a5fe52"/>
<rect x="432" y="421" width="1" height="3" fill="#03b1fa"/>
<rect x="344" y="424" width="177" height="1" fill="#000000"/>
<rect x="344" y="427" width="112" height="11" fill="#0033fc"/>
<rect x="456" y="427" width="11" height="11" fill="#f9e004"/>
<rect x="469" y="427" width="12" height="11" fill="#fdcf01"/>
<rect x="483" y="427" width="13" height="11" fill="#b5ff42"/>
<rect x="497" y="427" width="12" height="11" fill="#9cff5a"/>
<rect x="467" y="427" width="2" height="11" fill="#0062ff"/>
<rect x="481" y="427" width="2" height="11" fill="#004efe"/>
<rect x="496" y="427" width="1" height="11" fill="#004efe"/>
<rect x="509" y="427" width="12" height="11" fill="#0027f9"/>
<rect x="399" y="427" width="1" height="11" fill="#a5fe52"/>
<rect x="432" y="427" width="1" height="11" fill="#03b1fa"/>
<rect x="344" y="439" width="112" height="1" fill="#0033fc"/>
<rect x="456" y="439" width="11" height="1" fill="#f9e004"/>
<rect x="469" y="439" width="12" height="1" fill="#fdcf01"/>
<rect x="483" y="439" width="13" height="1" fill="#b5ff42"/>
<rect x="497" y="439" width="12" height="1" fill="#9cff5a"/>
<rect x="467" y="439" width="2" height="1" fill="#0062ff"/>
<rect x="481" y="439" width="2" height="1" fill="#004efe"/>
<rect x="496" y="439" width="1" height="1" fill="#004efe"/>
<rect x="509" y="439" width="12" height="1" fill="#0027f9"/>
<rect x="399" y="439" width="1" height="1" fill="#a5fe52"/>
<rect x="432" y="439" width="1" height="1" fill="#03b1fa"/>
<rect x="344" y="441" width="112" height="2" fill="#0033fc"/>
<rect x="456" y="441" width="11" height="2" fill="#f9e004"/>
<rect x="469" y="441" width="12" height="2" fill="#fdcf01"/>
<rect x="483" y="441" width="13" height="2" fill="#b5ff42"/>
<rect x="497" y="441" width="12" height="2" fill="#9cff5a"/>
<rect x="467" y="441" width="2" height="2" fill="#0062ff"/>
<rect x="481" y="441" width="2" height="2" fill="#004efe"/>
<rect x="496" y="441" width="1" height="2" fill="#004efe"/>
<rect x="509" y="441" width="12" height="2" fill="#0027f9"/>
<rect x="399" y="441" width="1" height="2" fill="#a5fe52"/>
<rect x="432" y="441" width="1" height="2" fill="#03b1fa"/>
<rect x="344" y="443" width="177" height="1" fill="#000000"/>
<rect x="344" y="447" width="112" height="2" fill="#0033fc"/>
<rect x="456" y="447" width="11" height="2" fill="#e4f814"/>
<rect x="469" y="447" width="12" height="2" fill="#ddfb1b"/>
<rect x="483" y="447" width="13" height="2" fill="#8cff6b"/>
<rect x="497" y="447" width="12" height="2" fill="#a5ff52"/>
<rect x="467" y="447" width="2" height="2" fill="#0062ff"/>
<rect x="481" y="447" width="2" height="2" fill="#004efe"/>
<rect x="496" y="447" width="1" height="2" fill="#004efe"/>
<rect x="509" y="447" width="12" height="2" fill="#0027f9"/>
<rect x="399" y="447" width="1" height="2" fill="#a5fe52"/>
<rect x="432" y="447" width="1" height="2" fill="#03b1fa"/>
<rect x="344" y="450" width="112" height="2" fill="#0033fc"/>
<rect x="456" y="450" width="11" height="2" fill="#e4f814"/>
<rect x="469" y="450" width="12" height="2" fill="#ddfb1b"/>
<rect x="483" y="450" width="13" height="2" fill="#8cff6b"/>
<rect x="497" y="450" width="12" height="2" fill="#a5ff52"/>
<rect x="467" y="450" width="2" height="2" fill="#0062ff"/>
<rect x="481" y="450" width="2" height="2" fill="#004efe"/>
<rect x="496" y="450" width="1" height="2" fill="#004efe"/>
<rect x="509" y="450" width="12" height="2" fill="#0027f9"/>
<rect x="399" y="450" width="1" height="2" fill="#a5fe52"/>
<rect x="432" y="450" width="1" height="2" fill="#03b1fa"/>
<rect x="344" y="452" width="177" height="1" fill="#000000"/>
<rect x="344" y="453" width="112" height="1" fill="#0033fc"/>
<rect x="456" y="453" width="11" height="1" fill="#e4f814"/>
<rect x="469" y="453" width="12" height="1" fill="#ddfb1b"/>
<rect x="483" y="453" width="13" height="1" fill="#8cff6b"/>
<rect x="497" y="453" width="12" height="1" fill="#a5ff52"/>
<rect x="467" y="453" width="2" height="1" fill="#0062ff"/>
<rect x="481" y="453" width="2" height="1" fill="#004efe"/>
<rect x="496" y="453" width="1" height="1" fill="#004efe"/>
<rect x="509" y="453" width="12" height="1" fill="#0027f9"/>
<rect x="399" y="453" width="1" height="1" fill="#a5fe52"/>
<rect x="432" y="453" width="1" height="1" fill="#03b1fa"/>
<rect x="344" y="454" width="177" height="1" fill="#000000"/>
<rect x="344" y="455" width="112" height="13" fill="#0033fc"/>
<rect x="456" y="455" width="11" height="13" fill="#e4f814"/>
<rect x="469" y="455" width="12" height="13" fill="#ddfb1b"/>
<rect x="483" y="455" width="13" height="13" fill="#8cff6b"/>
<rect x="497" y="455" width="12" height="13" fill="#a5ff52"/>
<rect x="467" y="455" width="2" height="13" fill="#0062ff"/>
<rect x="481" y="455" width="2" height="13" fill="#004efe"/>
<rect x="496" y="455" width="1" height="13" fill="#004efe"/>
<rect x="509" y="455" width="12" height="13" fill="#0027f9"/>
<rect x="399" y="455" width="1" height="13" fill="#a5fe52"/>
<rect x="432" y="455" width="1" height="13" fill="#03b1fa"/>
<rect x="344" y="468" width="177" height="1" fill="#000000"/>
<rect x="344" y="469" width="112" height="2" fill="#0033fc"/>
<rect x="456" y="469" width="11" height="2" fill="#e4f814"/>
<rect x="469" y="469" width="12" height="2" fill="#ddfb1b"/>
<rect x="483" y="469" width="13" height="2" fill="#8cff6b"/>
<rect x="497" y="469" width="12" height="2" fill="#a5ff52"/>
<rect x="467" y="469" width="2" height="2" fill="#0062ff"/>
<rect x="481" y="469" width="2" height="2" fill="#004efe"/>
<rect x="496" y="469" width="1" height="2" fill="#004efe"/>
<rect x="509" y="469" width="12" height="2" fill="#0027f9"/>
<rect x="399" y="469" width="1" height="2" fill="#a5fe52"/>
<rect x="432" y="469" width="1" height="2" fill="#03b1fa"/>
<rect x="344" y="471" width="177" height="1" fill="#000000"/>
<rect x="344" y="472" width="112" height="2" fill="#0033fc"/>
<rect x="456" y="472" width="11" height="2" fill="#f5e806"/>
<rect x="469" y="472" width="12" height="2" fill="#fbd802"/>
<rect x="483" y="472" width="13" height="2" fill="#adff4a"/>
<rect x="497" y="472" width="12" height="2" fill="#94ff63"/>
<rect x="467" y="472" width="2" height="2" fill="#0062ff"/>
<rect x="481" y="472" width="2" height="2" fill="#004efe"/>
<rect x="496" y="472" width="1" height="2" fill="#004efe"/>
<rect x="509" y="472" width="12" height="2" fill="#0027f9"/>
<rect x="399" y="472" width="1" height="2" fill="#a5fe52"/>
<rect x="432" y="472" width="1" height="2" fill="#03b1fa"/>
<rect x="344" y="474" width="177" height="1" fill="#000000"/>
<rect x="344" y="475" width="112" height="14" fill="#0033fc"/>
<rect x="456" y="475" width="11" height="14" fill="#f5e806"/>
<rect x="469" y="475" width="12" height="14" fill="#fbd802"/>
<rect x="483" y="475" width="13" height="14" fill="#adff4a"/>
<rect x="497" y="475" width="12" height="14" fill="#94ff63"/>
<rect x="467" y="475" width="2" height="14" fill="#0062ff"/>
<rect x="481" y="475" width="2" height="14" fill="#004efe"/>
<rect x="496" y="475" width="1" height="14" fill="#004efe"/>
<rect x="509" y="475" width="12" height="14" fill="#0027f9"/>
<rect x="399" y="475" width="1" height="14" fill="#a5fe52"/>
<rect x="432" y="475" width="1" height="14" fill="#03b1fa"/>
<rect x="344" y="490" width="112" height="2" fill="#0033fc"/>
<rect x="456" y="490" width="11" height="2" fill="#f5e806"/>
<rect x="469" y="490" width="12" height="2" fill="#fbd802"/>
<rect x="483" y="490" width="13" height="2" fill="#adff4a"/>
<rect x="497" y="490" width="12" height="2" fill="#94ff63"/>
<rect x="467" y="490" width="2" height="2" fill="#0062ff"/>
<rect x="481" y="490" width="2" height="2" fill="#004efe"/>
<rect x="496" y="490" width="1" height="2" fill="#004efe"/>
<rect x="509" y="490" width="12" height="2" fill="#0027f9"/>
<rect x="399" y="490" width="1" height="2" fill="#a5fe52"/>
<rect x="432" y="490" width="1" height="2" fill="#03b1fa"/>
<rect x="344" y="493" width="112" height="3" fill="#0033fc"/>
<rect x="456" y="493" width="11" height="3" fill="#f5e806"/>
<rect x="469" y="493" width="12" height="3" fill="#fbd802"/>
<rect x="483" y="493" width="13" height="3" fill="#adff4a"/>
<rect x="497" y="493" width="12" height="3" fill="#94ff63"/>
<rect x="467" y="493" width="2" height="3" fill="#0062ff"/>
<rect x="481" y="493" width="2" height="3" fill="#004efe"/>
<rect x="496" y="493" width="1" height="3" fill="#004efe"/>
<rect x="509" y="493" width="12" height="3" fill="#0027f9"/>
<rect x="399" y="493" width="1" height="3" fill="#a5fe52"/>
<rect x="432" y="493" width="1" height="3" fill="#03b1fa"/>
<rect x="344" y="497" width="112" height="1" fill="#0033fc"/>
<rect x="456" y="497" width="11" height="1" fill="#f5e806"/>
<rect x="469" y="497" width="12" height="1" fill="#fbd802"/>
<rect x="483" y="497" width="13" height="1" fill="#adff4a"/>
<rect x="497" y="497" width="12" height="1" fill="#94ff63"/>
<rect x="467" y="497" width="2" height="1" fill="#0062ff"/>
<rect x="481" y="497" width="2" height="1" fill="#004efe"/>
<rect x="496" y="497" width="1" height="1" fill="#004efe"/>
<rect x="509" y="497" width="12" height="1" fill="#0027f9"/>
<rect x="399" y="497" width="1" height="1" fill="#a5fe52"/>
<rect x="432" y="497" width="1" height="1" fill="#03b1fa"/>
<rect x="344" y="502" width="177" height="1" fill="#000000"/>
<rect x="344" y="504" width="112" height="5" fill="#0033fc"/>
<rect x="456" y="504" width="11" height="5" fill="#ddfb1b"/>
<rect x="469" y="504" width="12" height="5" fill="#d6fd22"/>
<rect x="483" y="504" width="13" height="5" fill="#9cff5a"/>
<rect x="497" y="504" width="12" height="5" fill="#a5ff52"/>
<rect x="467" y="504" width="2" height="5" fill="#0062ff"/>
<rect x="481" y="504" width="2" height="5" fill="#004efe"/>
<rect x="496" y="504" width="1" height="5" fill="#004efe"/>
<rect x="509" y="504" width="12" height="5" fill="#0027f9"/>
<rect x="399" y="504" width="1" height="5" fill="#a5fe52"/>
<rect x="432" y="504" width="1" height="5" fill="#03b1fa"/>
<rect x="344" y="509" width="177" height="1" fill="#000000"/>
<rect x="344" y="510" width="112" height="6" fill="#0033fc"/>
<rect x="456" y="510" width="11" height="6" fill="#ddfb1b"/>
<rect x="469" y="510" width="12" height="6" fill="#d6fd22"/>
<rect x="483" y="510" width="13" height="6" fill="#9cff5a"/>
<rect x="497" y="510" width="12" height="6" fill="#a5ff52"/>
<rect x="467" y="510" width="2" height="6" fill="#0062ff"/>
<rect x="481" y="510" width="2" height="6" fill="#004efe"/>
<rect x="496" y="510" width="1" height="6" fill="#004efe"/>
<rect x="509" y="510" width="12" height="6" fill="#0027f9"/>
<rect x="399" y="510" width="1" height="6" fill="#a5fe52"/>
<rect x="432" y="510" width="1" height="6" fill="#03b1fa"/>
<rect x="344" y="518" width="112" height="4" fill="#0033fc"/>
<rect x="456" y="518" width="11" height="4" fill="#ffb300"/>
<rect x="469" y="518" width="12" height="4" fill="#fdcf01"/>
<rect x="483" y="518" width="13" height="4" fill="#fbd802"/>
<rect x="497" y="518" width="12" height="4" fill="#f1ee0a"/>
<rect x="467" y="518" width="2" height="4" fill="#0062ff"/>
<rect x="481" y="518" width="2" height="4" fill="#004efe"/>
<rect x="496" y="518" width="1" height="4" fill="#004efe"/>
<rect x="509" y="518" width="12" height="4" fill="#0027f9"/>
<rect x="399" y="518" width="1" height="4" fill="#a5fe52"/>
<rect x="432" y="518" width="1" height="4" fill="#03b1fa"/>
<rect x="344" y="523" width="177" height="2" fill="#000000"/>
<rect x="344" y="525" width="112" height="4" fill="#0033fc"/>
<rect x="456" y="525" width="11" height="4" fill="#ffb300"/>
<rect x="469" y="525" width="12" height="4" fill="#fdcf01"/>
<rect x="483" y="525" width="13" height="4" fill="#fbd802"/>
<rect x="497" y="525" width="12" height="4" fill="#f1ee0a"/>
<rect x="467" y="525" width="2" height="4" fill="#0062ff"/>
<rect x="481" y="525" width="2" height="4" fill="#004efe"/>
<rect x="496" y="525" width="1" height="4" fill="#004efe"/>
<rect x="509" y="525" width="12" height="4" fill="#0027f9"/>
<rect x="399" y="525" width="1" height="4" fill="#a5fe52"/>
<rect x="432" y="525" width="1" height="4" fill="#03b1fa"/>
<rect x="344" y="530" width="112" height="2" fill="#0033fc"/>
<rect x="456" y="530" width="11" height="2" fill="#ffb300"/>
<rect x="469" y="530" width="12" height="2" fill="#fdcf01"/>
<rect x="483" y="530" width="13" height="2" fill="#fbd802"/>
<rect x="497" y="530" width="12" height="2" fill="#f1ee0a"/>
<rect x="467" y="530" width="2" height="2" fill="#0062ff"/>
<rect x="481" y="530" width="2" height="2" fill="#004efe"/>
<rect x="496" y="530" width="1" height="2" fill="#004efe"/>
<rect x="509" y="530" width="12" height="2" fill="#0027f9"/>
<rect x="399" y="530" width="1" height="2" fill="#a5fe52"/>
<rect x="432" y="530" width="1" height="2" fill="#03b1fa"/>
<rect x="344" y="533" width="177" height="1" fill="#000000"/>
<rect x="344" y="534" width="112" height="2" fill="#0033fc"/>
<rect x="456" y="534" width="11" height="2" fill="#ffb300"/>
<rect x="469" y="534" width="12" height="2" fill="#fdcf01"/>
<rect x="483" y="534" width="13" height="2" fill="#fbd802"/>
<rect x="497" y="534" width="12" height="2" fill="#f1ee0a"/>
<rect x="467" y="534" width="2" height="2" fill="#0062ff"/>
<rect x="481" y="534" width="2" height="2" fill="#004efe"/>
<rect x="496" y="534" width="1" height="2" fill="#004efe"/>
<rect x="509" y="534" width="12" height="2" fill="#0027f9"/>
<rect x="399" y="534" width="1" height="2" fill="#a5fe52"/>
<rect x="432" y="534" width="1" height="2" fill="#03b1fa"/>
<rect x="344" y="536" width="177" height="1" fill="#000000"/>
<rect x="344" y="537" width="112" height="3" fill="#0033fc"/>
<rect x="456" y="537" width="11" height="3" fill="#ffb300"/>
<rect x="469" y="537" width="12" height="3" fill="#fdcf01"/>
<rect x="483" y="537" width="13" height="3" fill="#fbd802"/>
<rect x="497" y="537" width="12" height="3" fill="#f1ee0a"/>
<rect x="467" y="537" width="2" height="3" fill="#0062ff"/>
<rect x="481" y="537" width="2" height="3" fill="#004efe"/>
<rect x="496" y="537" width="1" height="3" fill="#004efe"/>
<rect x="509" y="537" width="12" height="3" fill="#0027f9"/>
<rect x="399" y="537" width="1" height="3" fill="#a5fe52"/>
<rect x="432" y="537" width="1" height="3" fill="#03b1fa"/>
<rect x="344" y="540" width="177" height="1" fill="#000000"/>
<rect x="344" y="541" width="112" height="2" fill="#0033fc"/>
<rect x="456" y="541" width="11" height="2" fill="#ffb300"/>
<rect x="469" y="541" width="12" height="2" fill="#fdcf01"/>
<rect x="483" y="541" width="13" height="2" fill="#fbd802"/>
<rect x="497" y="541" width="12" height="2" fill="#f1ee0a"/>
<rect x="467" y="541" width="2" height="2" fill="#0062ff"/>
<rect x="481" y="541" width="2" height="2" fill="#004efe"/>
<rect x="496" y="541" width="1" height="2" fill="#004efe"/>
<rect x="509" y="541" width="12" height="2" fill="#0027f9"/>
<rect x="399" y="541" width="1" height="2" fill="#a5fe52"/>
<rect x="432" y="541" width="1" height="2" fill="#03b1fa"/>
<rect x="344" y="544" width="112" height="11" fill="#0033fc"/>
<rect x="456" y="544" width="11" height="1" fill="#ffb300"/>
<rect x="469" y="544" width="12" height="1" fill="#fdcf01"/>
<rect x="483" y="544" width="13" height="1" fill="#fbd802"/>
<rect x="497" y="544" width="12" height="1" fill="#f1ee0a"/>
<rect x="456" y="545" width="11" height="10" fill="#f9e004"/>
<rect x="469" y="545" width="12" height="10" fill="#e4f814"/>
<rect x="483" y="545" width="13" height="10" fill="#ddfb1b"/>
<rect x="497" y="545" width="12" height="10" fill="#bdff3a"/>
<rect x="467" y="544" width="2" height="11" fill="#0062ff"/>
<rect x="481" y="544" width="2" height="11" fill="#004efe"/>
<rect x="496" y="544" width="1" height="11" fill="#004efe"/>
<rect x="509" y="544" width="12" height="11" fill="#0027f9"/>
<rect x="399" y="544" width="1" height="11" fill="#a5fe52"/>
<rect x="432" y="544" width="1" height="11" fill="#03b1fa"/>
<rect x="344" y="555" width="177" height="2" fill="#000000"/>
<rect x="344" y="558" width="112" height="2" fill="#05bbf8"/>
<rect x="456" y="558" width="11" height="2" fill="#f1ee0a"/>
<rect x="469" y="558" width="12" height="2" fill="#ddfb1b"/>
<rect x="483" y="558" width="13" height="2" fill="#94ff63"/>
<rect x="497" y="558" width="12" height="2" fill="#adff4a"/>
<rect x="467" y="558" width="2" height="2" fill="#0062ff"/>
<rect x="481" y="558" width="2" height="2" fill="#004efe"/>
<rect x="496" y="558" width="1" height="2" fill="#004efe"/>
<rect x="509" y="558" width="12" height="2" fill="#018afe"/>
<rect x="399" y="558" width="1" height="2" fill="#a5fe52"/>
<rect x="344" y="560" width="177" height="1" fill="#000000"/>
<rect x="344" y="561" width="112" height="2" fill="#0033fc"/>
<rect x="456" y="561" width="11" height="2" fill="#f1ee0a"/>
<rect x="469" y="561" width="12" height="2" fill="#ddfb1b"/>
<rect x="483" y="561" width="13" height="2" fill="#94ff63"/>
<rect x="497" y="561" width="12" height="2" fill="#adff4a"/>
<rect x="467" y="561" width="2" height="2" fill="#0062ff"/>
<rect x="481" y="561" width="2" height="2" fill="#004efe"/>
<rect x="496" y="561" width="1" height="2" fill="#004efe"/>
<rect x="509" y="561" width="12" height="2" fill="#0027f9"/>
<rect x="399" y="561" width="1" height="2" fill="#a5fe52"/>
<rect x="432" y="561" width="1" height="2" fill="#03b1fa"/>
<rect x="344" y="564" width="112" height="24" fill="#0033fc"/>
<rect x="456" y="564" width="11" height="13" fill="#f1ee0a"/>
<rect x="469" y="564" width="12" height="13" fill="#ddfb1b"/>
<rect x="483" y="564" width="13" height="13" fill="#94ff63"/>
<rect x="497" y="564" width="12" height="13" fill="#adff4a"/>
<rect x="456" y="577" width="11" height="11" fill="#ffaa00"/>
<rect x="469" y="577" width="12" height="11" fill="#fec600"/>
<rect x="483" y="577" width="13" height="11" fill="#adff4a"/>
<rect x="497" y="577" width="12" height="11" fill="#cefe29"/>
<rect x="467" y="564" width="2" height="24" fill="#0062ff"/>
<rect x="481" y="564" width="2" height="24" fill="#004efe"/>
<rect x="496" y="564" width="1" height="24" fill="#004efe"/>
<rect x="509" y="564" width="12" height="24" fill="#0027f9"/>
<rect x="399" y="564" width="1" height="24" fill="#a5fe52"/>
<rect x="432" y="564" width="1" height="24" fill="#03b1fa"/>
<rect x="344" y="588" width="177" height="2" fill="#000000"/>
<rect x="344" y="591" width="112" height="7" fill="#0033fc"/>
<rect x="456" y="591" width="11" height="7" fill="#fbd802"/>
<rect x="469" y="591" width="12" height="7" fill="#f1ee0a"/>
<rect x="483" y="591" width="13" height="7" fill="#adff4a"/>
<rect x="497" y="591" width="12" height="7" fill="#cefe29"/>
<rect x="467" y="591" width="2" height="7" fill="#0062ff"/>
<rect x="481" y="591" width="2" height="7" fill="#004efe"/>
<rect x="496" y="591" width="1" height="7" fill="#004efe"/>
<rect x="509" y="591" width="12" height="7" fill="#0027f9"/>
<rect x="399" y="591" width="1" height="7" fill="#a5fe52"/>
<rect x="432" y="591" width="1" height="7" fill="#03b1fa"/>
<rect x="344" y="599" width="112" height="22" fill="#0033fc"/>
<rect x="456" y="599" width="11" height="22" fill="#fbd802"/>
<rect x="469" y="599" width="12" height="22" fill="#f1ee0a"/>
<rect x="483" y="599" width="13" height="22" fill="#adff4a"/>
<rect x="497" y="599" width="12" height="22" fill="#cefe29"/>
<rect x="467" y="599" width="2" height="22" fill="#0062ff"/>
<rect x="481" y="599" width="2" height="22" fill="#004efe"/>
<rect x="496" y="599" width="1" height="22" fill="#004efe"/>
<rect x="509" y="599" width="12" height="22" fill="#0027f9"/>
<rect x="399" y="599" width="1" height="22" fill="#a5fe52"/>
<rect x="432" y="599" width="1" height="22" fill="#03b1fa"/>
<rect x="344" y="621" width="177" height="1" fill="#000000"/>
<rect x="344" y="624" width="112" height="6" fill="#0033fc"/>
<rect x="456" y="624" width="11" height="6" fill="#ffb300"/>
<rect x="469" y="624" width="12" height="6" fill="#fec600"/>
<rect x="483" y="624" width="13" height="6" fill="#f5e806"/>
<rect x="497" y="624" width="12" height="6" fill="#e4f814"/>
<rect x="467" y="624" width="2" height="6" fill="#0062ff"/>
<rect x="481" y="624" width="2" height="6" fill="#004efe"/>
<rect x="496" y="624" width="1" height="6" fill="#004efe"/>
<rect x="509" y="624" width="12" height="6" fill="#0027f9"/>
<rect x="399" y="624" width="1" height="6" fill="#a5fe52"/>
<rect x="432" y="624" width="1" height="6" fill="#03b1fa"/>
<rect x="344" y="632" width="112" height="7" fill="#0033fc"/>
<rect x="456" y="632" width="11" height="7" fill="#ffb300"/>
<rect x="469" y="632" width="12" height="7" fill="#fec600"/>
<rect x="483" y="632" width="13" height="7" fill="#f5e806"/>
<rect x="497" y="632" width="12" height="7" fill="#e4f814"/>
<rect x="467" y="632" width="2" height="7" fill="#0062ff"/>
<rect x="481" y="632" width="2" height="7" fill="#004efe"/>
<rect x="496" y="632" width="1" height="7" fill="#004efe"/>
<rect x="509" y="632" width="12" height="7" fill="#0027f9"/>
<rect x="399" y="632" width="1" height="7" fill="#a5fe52"/>
<rect x="432" y="632" width="1" height="7" fill="#03b1fa"/>
<rect x="344" y="640" width="112" height="15" fill="#0033fc"/>
<rect x="456" y="640" width="11" height="5" fill="#ffb300"/>
<rect x="469" y="640" width="12" height="5" fill="#fec600"/>
<rect x="483" y="640" width="13" height="5" fill="#f5e806"/>
<rect x="497" y="640" width="12" height="5" fill="#e4f814"/>
<rect x="456" y="645" width="11" height="10" fill="#ff7b00"/>
<rect x="469" y="645" width="12" height="10" fill="#ff7b00"/>
<rect x="483" y="645" width="13" height="10" fill="#ff8400"/>
<rect x="497" y="645" width="12" height="10" fill="#ffa000"/>
<rect x="467" y="640" width="2" height="15" fill="#0062ff"/>
<rect x="481" y="640" width="2" height="15" fill="#004efe"/>
<rect x="496" y="640" width="1" height="15" fill="#004efe"/>
<rect x="509" y="640" width="12" height="15" fill="#0027f9"/>
<rect x="399" y="640" width="1" height="15" fill="#a5fe52"/>
<rect x="432" y="640" width="1" height="15" fill="#03b1fa"/>
<rect x="344" y="655" width="177" height="1" fill="#000000"/>
<rect x="344" y="656" width="112" height="8" fill="#0033fc"/>
<rect x="456" y="656" width="11" height="4" fill="#ff7b00"/>
<rect x="469" y="656" width="12" height="4" fill="#ff7b00"/>
<rect x="483" y="656" width="13" height="4" fill="#ff8400"/>
<rect x="497" y="656" width="12" height="4" fill="#ffa000"/>
<rect x="456" y="660" width="11" height="4" fill="#ffbd00"/>
<rect x="469" y="660" width="12" height="4" fill="#fec600"/>
<rect x="483" y="660" width="13" height="4" fill="#fdcf01"/>
<rect x="497" y="660" width="12" height="4" fill="#f9e004"/>
<rect x="467" y="656" width="2" height="8" fill="#0062ff"/>
<rect x="481" y="656" width="2" height="8" fill="#004efe"/>
<rect x="496" y="656" width="1" height="8" fill="#004efe"/>
<rect x="509" y="656" width="12" height="8" fill="#0027f9"/>
<rect x="399" y="656" width="1" height="8" fill="#a5fe52"/>
<rect x="432" y="656" width="1" height="8" fill="#03b1fa"/>
<rect x="344" y="665" width="112" height="8" fill="#0033fc"/>
<rect x="456" y="665" width="11" height="3" fill="#ffbd00"/>
<rect x="469" y="665" width="12" height="3" fill="#fec600"/>
<rect x="483" y="665" width="13" height="3" fill="#fdcf01"/>
<rect x="497" y="665" width="12" height="3" fill="#f9e004"/>
<rect x="456" y="668" width="11" height="5" fill="#ff7100"/>
<rect x="469" y="668" width="12" height="5" fill="#ff7100"/>
<rect x="483" y="668" width="13" height="5" fill="#ff7b00"/>
<rect x="497" y="668" width="12" height="5" fill="#ff8e00"/>
<rect x="467" y="665" width="2" height="8" fill="#0062ff"/>
<rect x="481" y="665" width="2" height="8" fill="#004efe"/>
<rect x="496" y="665" width="1" height="8" fill="#004efe"/>
<rect x="509" y="665" width="12" height="8" fill="#0027f9"/>
<rect x="399" y="665" width="1" height="8" fill="#a5fe52"/>
<rect x="432" y="665" width="1" height="8" fill="#03b1fa"/>
<rect x="344" y="674" width="112" height="3" fill="#0033fc"/>
<rect x="456" y="674" width="11" height="3" fill="#ff7100"/>
<rect x="469" y="674" width="12" height="3" fill="#ff7100"/>
<rect x="483" y="674" width="13" height="3" fill="#ff7b00"/>
<rect x="497" y="674" width="12" height="3" fill="#ff8e00"/>
<rect x="467" y="674" width="2" height="3" fill="#0062ff"/>
<rect x="481" y="674" width="2" height="3" fill="#004efe"/>
<rect x="496" y="674" width="1" height="3" fill="#004efe"/>
<rect x="509" y="674" width="12" height="3" fill="#0024f8"/>
<rect x="399" y="674" width="1" height="3" fill="#a5fe52"/>
<rect x="432" y="674" width="1" height="3" fill="#03b1fa"/>
<rect x="344" y="677" width="177" height="1" fill="#000000"/>
<rect x="344" y="680" width="112" height="12" fill="#0033fc"/>
<rect x="456" y="680" width="11" height="12" fill="#f9e004"/>
<rect x="469" y="680" width="12" height="12" fill="#f5e806"/>
<rect x="483" y="680" width="13" height="12" fill="#e4f814"/>
<rect x="497" y="680" width="12" height="12" fill="#cefe29"/>
<rect x="467" y="680" width="2" height="12" fill="#0062ff"/>
<rect x="481" y="680" width="2" height="12" fill="#004efe"/>
<rect x="496" y="680" width="1" height="12" fill="#004efe"/>
<rect x="509" y="680" width="12" height="12" fill="#0027f9"/>
<rect x="399" y="680" width="1" height="12" fill="#a5fe52"/>
<rect x="432" y="680" width="1" height="12" fill="#03b1fa"/>
<rect x="344" y="693" width="112" height="8" fill="#0033fc"/>
<rect x="456" y="693" width="11" height="8" fill="#f9e004"/>
<rect x="469" y="693" width="12" height="8" fill="#f5e806"/>
<rect x="483" y="693" width="13" height="8" fill="#e4f814"/>
<rect x="497" y="693" width="12" height="8" fill="#cefe29"/>
<rect x="467" y="693" width="2" height="8" fill="#0062ff"/>
<rect x="481" y="693" width="2" height="8" fill="#004efe"/>
<rect x="496" y="693" width="1" height="8" fill="#004efe"/>
<rect x="509" y="693" width="12" height="8" fill="#0027f9"/>
<rect x="399" y="693" width="1" height="8" fill="#a5fe52"/>
<rect x="432" y="693" width="1" height="8" fill="#03b1fa"/>
<rect x="344" y="703" width="177" height="1" fill="#000000"/>
<rect x="344" y="704" width="112" height="2" fill="#0033fc"/>
<rect x="456" y="704" width="11" height="2" fill="#f9e004"/>
<rect x="469" y="704" width="12" height="2" fill="#f5e806"/>
<rect x="483" y="704" width="13" height="2" fill="#e4f814"/>
<rect x="497" y="704" width="12" height="2" fill="#cefe29"/>
<rect x="467" y="704" width="2" height="2" fill="#0062ff"/>
<rect x="481" y="704" width="2" height="2" fill="#004efe"/>
<rect x="496" y="704" width="1" height="2" fill="#004efe"/>
<rect x="509" y="704" width="12" height="2" fill="#0027f9"/>
<rect x="399" y="704" width="1" height="2" fill="#a5fe52"/>
<rect x="432" y="704" width="1" height="2" fill="#03b1fa"/>
<rect x="344" y="708" width="112" height="12" fill="#0033fc"/>
<rect x="456" y="708" width="11" height="12" fill="#f9e004"/>
<rect x="469" y="708" width="12" height="12" fill="#f5e806"/>
<rect x="483" y="708" width="13" height="12" fill="#e4f814"/>
<rect x="497" y="708" width="12" height="12" fill="#cefe29"/>
<rect x="467" y="708" width="2" height="12" fill="#0062ff"/>
<rect x="481" y="708" width="2" height="12" fill="#004efe"/>
<rect x="496" y="708" width="1" height="12" fill="#004efe"/>
<rect x="509" y="708" width="12" height="12" fill="#0027f9"/>
<rect x="399" y="708" width="1" height="12" fill="#a5fe52"/>
<rect x="432" y="708" width="1" height="12" fill="#03b1fa"/>
<clipPath id="cl1"><rect x="344" y="80" width="112" height="640"/></clipPath>
<g clip-path="url(#cl1)" shape-rendering="auto">
<radialGradient id="b1_0"><stop offset="0" stop-color="#03b1fa" stop-opacity="1.000"/><stop offset="0.2" stop-color="#03b1fa" stop-opacity="0.852"/><stop offset="0.4" stop-color="#03b1fa" stop-opacity="0.527"/><stop offset="0.6" stop-color="#03b1fa" stop-opacity="0.237"/><stop offset="0.8" stop-color="#03b1fa" stop-opacity="0.077"/><stop offset="1" stop-color="#03b1fa" stop-opacity="0.018"/></radialGradient>
<ellipse cx="418" cy="481" rx="32" ry="16" fill="url(#b1_0)"/>
<radialGradient id="b1_1"><stop offset="0" stop-color="#0194fe" stop-opacity="1.000"/><stop offset="0.2" stop-color="#0194fe" stop-opacity="0.852"/><stop offset="0.4" stop-color="#0194fe" stop-opacity="0.527"/><stop offset="0.6" stop-color="#0194fe" stop-opacity="0.237"/><stop offset="0.8" stop-color="#0194fe" stop-opacity="0.077"/><stop offset="1" stop-color="#0194fe" stop-opacity="0.018"/></radialGradient>
<ellipse cx="400" cy="506" rx="32" ry="8" fill="url(#b1_1)"/>
<radialGradient id="b1_2"><stop offset="0" stop-color="#0194fe" stop-opacity="1.000"/><stop offset="0.2" stop-color="#0194fe" stop-opacity="0.852"/><stop offset="0.4" stop-color="#0194fe" stop-opacity="0.527"/><stop offset="0.6" stop-color="#0194fe" stop-opacity="0.237"/><stop offset="0.8" stop-color="#0194fe" stop-opacity="0.077"/><stop offset="1" stop-color="#0194fe" stop-opacity="0.018"/></radialGradient>
<ellipse cx="412" cy="575" rx="24" ry="20" fill="url(#b1_2)"/>
<radialGradient id="b1_3"><stop offset="0" stop-color="#02a8fc" stop-opacity="1.000"/><stop offset="0.2" stop-color="#02a8fc" stop-opacity="0.852"/><stop offset="0.4" stop-color="#02a8fc" stop-opacity="0.527"/><stop offset="0.6" stop-color="#02a8fc" stop-opacity="0.237"/><stop offset="0.8" stop-color="#02a8fc" stop-opacity="0.077"/><stop offset="1" stop-color="#02a8fc" stop-opacity="0.018"/></radialGradient>
<ellipse cx="405" cy="596" rx="36" ry="12" fill="url(#b1_3)"/>
<radialGradient id="b1_4"><stop offset="0" stop-color="#0076ff" stop-opacity="1.000"/><stop offset="0.2" stop-color="#0076ff" stop-opacity="0.852"/><stop offset="0.4" stop-color="#0076ff" stop-opacity="0.527"/><stop offset="0.6" stop-color="#0076ff" stop-opacity="0.237"/><stop offset="0.8" stop-color="#0076ff" stop-opacity="0.077"/><stop offset="1" stop-color="#0076ff" stop-opacity="0.018"/></radialGradient>
<ellipse cx="434" cy="608" rx="48" ry="20" fill="url(#b1_4)"/>
<radialGradient id="b1_5"><stop offset="0" stop-color="#05bbf8" stop-opacity="1.000"/><stop offset="0.2" stop-color="#05bbf8" stop-opacity="0.852"/><stop offset="0.4" stop-color="#05bbf8" stop-opacity="0.527"/><stop offset="0.6" stop-color="#05bbf8" stop-opacity="0.237"/><stop offset="0.8" stop-color="#05bbf8" stop-opacity="0.077"/><stop offset="1" stop-color="#05bbf8" stop-opacity="0.018"/></radialGradient>
<ellipse cx="446" cy="666" rx="20" ry="12" fill="url(#b1_5)"/>
</g>
<rect x="344" y="92" width="112" height="2" fill="#000"/>
<rect x="344" y="111" width="112" height="1" fill="#fff"/>
<rect x="344" y="117" width="112" height="1" fill="#fff"/>
<rect x="344" y="122" width="112" height="1" fill="#000"/>
<rect x="344" y="130" width="112" height="5" fill="#fff"/>
<rect x="344" y="139" width="112" height="1" fill="#fff"/>
<rect x="344" y="142" width="112" height="1" fill="#fff"/>
<rect x="344" y="145" width="112" height="1" fill="#fff"/>
<rect x="344" y="160" width="112" height="5" fill="#fff"/>
<rect x="344" y="170" width="112" height="2" fill="#000"/>
<rect x="344" y="172" width="112" height="1" fill="#fff"/>
<rect x="344" y="176" width="112" height="1" fill="#fff"/>
<rect x="344" y="179" width="112" height="1" fill="#fff"/>
<rect x="344" y="183" width="112" height="4" fill="#fff"/>
<rect x="344" y="190" width="112" height="1" fill="#000"/>
<rect x="344" y="197" width="112" height="37" fill="#fff"/>
<rect x="344" y="237" width="112" height="1" fill="#fff"/>
<rect x="344" y="240" width="112" height="13" fill="#fff"/>
<rect x="344" y="260" width="112" height="1" fill="#fff"/>
<rect x="344" y="263" width="112" height="35" fill="#fff"/>
<rect x="344" y="301" width="112" height="1" fill="#fff"/>
<rect x="344" y="303" width="112" height="1" fill="#000"/>
<rect x="344" y="304" width="112" height="77" fill="#fff"/>
<rect x="344" y="382" width="112" height="1" fill="#fff"/>
<rect x="344" y="384" width="112" height="1" fill="#fff"/>
<rect x="344" y="386" width="112" height="1" fill="#fff"/>
<rect x="344" y="388" width="112" height="1" fill="#fff"/>
<rect x="344" y="392" width="112" height="1" fill="#fff"/>
<rect x="344" y="395" width="112" height="1" fill="#000"/>
<rect x="344" y="400" width="112" height="1" fill="#000"/>
<rect x="344" y="404" width="112" height="1" fill="#000"/>
<rect x="344" y="408" width="112" height="1" fill="#fff"/>
<rect x="344" y="409" width="112" height="1" fill="#000"/>
<rect x="344" y="420" width="112" height="1" fill="#000"/>
<rect x="344" y="424" width="112" height="1" fill="#000"/>
<rect x="344" y="425" width="112" height="2" fill="#fff"/>
<rect x="344" y="438" width="112" height="1" fill="#fff"/>
<rect x="344" y="440" width="112" height="1" fill="#fff"/>
<rect x="344" y="443" width="112" height="1" fill="#000"/>
<rect x="344" y="444" width="112" height="3" fill="#fff"/>
<rect x="344" y="449" width="112" height="1" fill="#fff"/>
<rect x="344" y="452" width="112" height="1" fill="#000"/>
<rect x="344" y="454" width="112" height="1" fill="#000"/>
<rect x="344" y="468" width="112" height="1" fill="#000"/>
<rect x="344" y="471" width="112" height="1" fill="#000"/>
<rect x="344" y="474" width="112" height="1" fill="#000"/>
<rect x="344" y="489" width="112" height="1" fill="#fff"/>
<rect x="344" y="492" width="112" height="1" fill="#fff"/>
<rect x="344" y="496" width="112" height="1" fill="#fff"/>
<rect x="344" y="498" width="112" height="4" fill="#fff"/>
<rect x="344" y="502" width="112" height="1" fill="#000"/>
<rect x="344" y="503" width="112" height="1" fill="#fff"/>
<rect x="344" y="509" width="112" height="1" fill="#000"/>
<rect x="344" y="516" width="112" height="2" fill="#fff"/>
<rect x="344" y="522" width="112" height="1" fill="#fff"/>
<rect x="344" y="523" width="112" height="2" fill="#000"/>
<rect x="344" y="529" width="112" height="1" fill="#fff"/>
<rect x="344" y="532" width="112" height="1" fill="#fff"/>
<rect x="344" y="533" width="112" height="1" fill="#000"/>
<rect x="344" y="536" width="112" height="1" fill="#000"/>
<rect x="344" y="540" width="112" height="1" fill="#000"/>
<rect x="344" y="543" width="112" height="1" fill="#fff"/>
<rect x="344" y="555" width="112" height="2" fill="#000"/>
<rect x="344" y="557" width="112" height="1" fill="#fff"/>
<rect x="344" y="560" width="112" height="1" fill="#000"/>
<rect x="344" y="563" width="112" height="1" fill="#fff"/>
<rect x="344" y="588" width="112" height="2" fill="#000"/>
<rect x="344" y="590" width="112" height="1" fill="#fff"/>
<rect x="344" y="598" width="112" height="1" fill="#fff"/>
<rect x="344" y="621" width="112" height="1" fill="#000"/>
<rect x="344" y="622" width="112" height="2" fill="#fff"/>
<rect x="344" y="630" width="112" height="2" fill="#fff"/>
<rect x="344" y="639" width="112" height="1" fill="#fff"/>
<rect x="344" y="655" width="112" height="1" fill="#000"/>
<rect x="344" y="664" width="112" height="1" fill="#fff"/>
<rect x="344" y="673" width="112" height="1" fill="#fff"/>
<rect x="344" y="677" width="112" height="1" fill="#000"/>
<rect x="344" y="678" width="112" height="2" fill="#fff"/>
<rect x="344" y="692" width="112" height="1" fill="#fff"/>
<rect x="344" y="701" width="112" height="2" fill="#fff"/>
<rect x="344" y="703" width="112" height="1" fill="#000"/>
<rect x="344" y="706" width="112" height="2" fill="#fff"/>
<rect x="556" y="80" width="112" height="12" fill="#0024f8"/>
<rect x="668" y="80" width="12" height="12" fill="#ebf40e"/>
<rect x="681" y="80" width="12" height="12" fill="#f5e806"/>
<rect x="696" y="80" width="12" height="12" fill="#f5e806"/>
<rect x="710" y="80" width="12" height="12" fill="#cefe29"/>
<rect x="680" y="80" width="1" height="12" fill="#0062ff"/>
<rect x="693" y="80" width="3" height="12" fill="#003cfd"/>
<rect x="708" y="80" width="2" height="12" fill="#002bfa"/>
<rect x="722" y="80" width="12" height="12" fill="#0024f8"/>
<rect x="556" y="92" width="178" height="2" fill="#000000"/>
<rect x="556" y="94" width="112" height="17" fill="#0043fe"/>
<rect x="668" y="94" width="12" height="17" fill="#ffbd00"/>
<rect x="681" y="94" width="12" height="17" fill="#ebf40e"/>
<rect x="696" y="94" width="12" height="17" fill="#ffb300"/>
<rect x="710" y="94" width="12" height="17" fill="#fec600"/>
<rect x="680" y="94" width="1" height="17" fill="#0062ff"/>
<rect x="693" y="94" width="3" height="17" fill="#003cfd"/>
<rect x="708" y="94" width="2" height="17" fill="#002bfa"/>
<rect x="722" y="94" width="12" height="17" fill="#0027f9"/>
<rect x="556" y="112" width="112" height="5" fill="#0043fe"/>
<rect x="668" y="112" width="12" height="5" fill="#fdcf01"/>
<rect x="681" y="112" width="12" height="5" fill="#f1ee0a"/>
<rect x="696" y="112" width="12" height="5" fill="#fbd802"/>
<rect x="710" y="112" width="12" height="5" fill="#f1ee0a"/>
<rect x="680" y="112" width="1" height="5" fill="#0062ff"/>
<rect x="693" y="112" width="3" height="5" fill="#003cfd"/>
<rect x="708" y="112" width="2" height="5" fill="#002bfa"/>
<rect x="722" y="112" width="12" height="5" fill="#0027f9"/>
<rect x="556" y="118" width="112" height="4" fill="#003cfd"/>
<rect x="668" y="118" width="12" height="4" fill="#fdcf01"/>
<rect x="681" y="118" width="12" height="4" fill="#f1ee0a"/>
<rect x="696" y="118" width="12" height="4" fill="#fbd802"/>
<rect x="710" y="118" width="12" height="4" fill="#f1ee0a"/>
<rect x="680" y="118" width="1" height="4" fill="#0062ff"/>
<rect x="693" y="118" width="3" height="4" fill="#003cfd"/>
<rect x="708" y="118" width="2" height="4" fill="#002bfa"/>
<rect x="722" y="118" width="12" height="4" fill="#0027f9"/>
<rect x="556" y="122" width="178" height="1" fill="#000000"/>
<rect x="556" y="123" width="112" height="7" fill="#0043fe"/>
<rect x="668" y="123" width="12" height="7" fill="#fdcf01"/>
<rect x="681" y="123" width="12" height="7" fill="#ffb300"/>
<rect x="696" y="123" width="12" height="7" fill="#ffbd00"/>
<rect x="710" y="123" width="12" height="7" fill="#e4f814"/>
<rect x="680" y="123" width="1" height="7" fill="#0062ff"/>
<rect x="693" y="123" width="3" height="7" fill="#003cfd"/>
<rect x="708" y="123" width="2" height="7" fill="#002bfa"/>
<rect x="722" y="123" width="12" height="7" fill="#0027f9"/>
<rect x="556" y="135" width="112" height="1" fill="#0043fe"/>
<rect x="668" y="135" width="12" height="1" fill="#f5e806"/>
<rect x="681" y="135" width="12" height="1" fill="#f1ee0a"/>
<rect x="696" y="135" width="12" height="1" fill="#f1ee0a"/>
<rect x="710" y="135" width="12" height="1" fill="#cefe29"/>
<rect x="680" y="135" width="1" height="1" fill="#0062ff"/>
<rect x="693" y="135" width="3" height="1" fill="#003cfd"/>
<rect x="708" y="135" width="2" height="1" fill="#002bfa"/>
<rect x="722" y="135" width="12" height="1" fill="#0027f9"/>
<rect x="556" y="136" width="112" height="2" fill="#35d1c5"/>
<rect x="668" y="136" width="12" height="2" fill="#f5e806"/>
<rect x="681" y="136" width="12" height="2" fill="#f1ee0a"/>
<rect x="696" y="136" width="12" height="2" fill="#f1ee0a"/>
<rect x="710" y="136" width="12" height="2" fill="#cefe29"/>
<rect x="680" y="136" width="1" height="2" fill="#0062ff"/>
<rect x="693" y="136" width="3" height="2" fill="#003cfd"/>
<rect x="708" y="136" width="2" height="2" fill="#002bfa"/>
<rect x="722" y="136" width="12" height="2" fill="#0050fd"/>
<rect x="556" y="138" width="112" height="1" fill="#0043fe"/>
<rect x="668" y="138" width="12" height="1" fill="#f5e806"/>
<rect x="681" y="138" width="12" height="1" fill="#f1ee0a"/>
<rect x="696" y="138" width="12" height="1" fill="#f1ee0a"/>
<rect x="710" y="138" width="12" height="1" fill="#cefe29"/>
<rect x="680" y="138" width="1" height="1" fill="#0062ff"/>
<rect x="693" y="138" width="3" height="1" fill="#003cfd"/>
<rect x="708" y="138" width="2" height="1" fill="#002bfa"/>
<rect x="722" y="138" width="12" height="1" fill="#0027f9"/>
<rect x="556" y="140" width="112" height="2" fill="#0043fe"/>
<rect x="668" y="140" width="12" height="2" fill="#f5e806"/>
<rect x="681" y="140" width="12" height="2" fill="#f1ee0a"/>
<rect x="696" y="140" width="12" height="2" fill="#f1ee0a"/>
<rect x="710" y="140" width="12" height="2" fill="#cefe29"/>
<rect x="680" y="140" width="1" height="2" fill="#0062ff"/>
<rect x="693" y="140" width="3" height="2" fill="#003cfd"/>
<rect x="708" y="140" width="2" height="2" fill="#002bfa"/>
<rect x="722" y="140" width="12" height="2" fill="#0027f9"/>
<rect x="556" y="143" width="112" height="2" fill="#0043fe"/>
<rect x="668" y="143" width="12" height="2" fill="#f5e806"/>
<rect x="681" y="143" width="12" height="2" fill="#f1ee0a"/>
<rect x="696" y="143" width="12" height="2" fill="#f1ee0a"/>
<rect x="710" y="143" width="12" height="2" fill="#cefe29"/>
<rect x="680" y="143" width="1" height="2" fill="#0062ff"/>
<rect x="693" y="143" width="3" height="2" fill="#003cfd"/>
<rect x="708" y="143" width="2" height="2" fill="#002bfa"/>
<rect x="722" y="143" width="12" height="2" fill="#0027f9"/>
<rect x="556" y="146" width="112" height="14" fill="#0043fe"/>
<rect x="668" y="146" width="12" height="14" fill="#fbd802"/>
<rect x="681" y="146" width="12" height="14" fill="#fbd802"/>
<rect x="696" y="146" width="12" height="14" fill="#f5e806"/>
<rect x="710" y="146" width="12" height="14" fill="#cefe29"/>
<rect x="680" y="146" width="1" height="14" fill="#0062ff"/>
<rect x="693" y="146" width="3" height="14" fill="#003cfd"/>
<rect x="708" y="146" width="2" height="14" fill="#002bfa"/>
<rect x="722" y="146" width="12" height="14" fill="#0027f9"/>
<rect x="556" y="165" width="112" height="5" fill="#0043fe"/>
<rect x="668" y="165" width="12" height="5" fill="#fec600"/>
<rect x="681" y="165" width="12" height="5" fill="#ffb300"/>
<rect x="696" y="165" width="12" height="5" fill="#f5e806"/>
<rect x="710" y="165" width="12" height="5" fill="#cefe29"/>
<rect x="680" y="165" width="1" height="5" fill="#0062ff"/>
<rect x="693" y="165" width="3" height="5" fill="#003cfd"/>
<rect x="708" y="165" width="2" height="5" fill="#002bfa"/>
<rect x="722" y="165" width="12" height="5" fill="#0027f9"/>
<rect x="556" y="170" width="178" height="2" fill="#000000"/>
<rect x="556" y="173" width="112" height="3" fill="#002bfa"/>
<rect x="668" y="173" width="12" height="3" fill="#fbd802"/>
<rect x="681" y="173" width="12" height="3" fill="#fbd802"/>
<rect x="696" y="173" width="12" height="3" fill="#e4f814"/>
<rect x="710" y="173" width="12" height="3" fill="#ddfb1b"/>
<rect x="680" y="173" width="1" height="3" fill="#0062ff"/>
<rect x="693" y="173" width="3" height="3" fill="#003cfd"/>
<rect x="708" y="173" width="2" height="3" fill="#002bfa"/>
<rect x="722" y="173" width="12" height="3" fill="#0027f9"/>
<rect x="556" y="177" width="112" height="2" fill="#002bfa"/>
<rect x="668" y="177" width="12" height="2" fill="#fbd802"/>
<rect x="681" y="177" width="12" height="2" fill="#fbd802"/>
<rect x="696" y="177" width="12" height="2" fill="#e4f814"/>
<rect x="710" y="177" width="12" height="2" fill="#ddfb1b"/>
<rect x="680" y="177" width="1" height="2" fill="#0062ff"/>
<rect x="693" y="177" width="3" height="2" fill="#003cfd"/>
<rect x="708" y="177" width="2" height="2" fill="#002bfa"/>
<rect x="722" y="177" width="12" height="2" fill="#0027f9"/>
<rect x="556" y="180" width="112" height="3" fill="#0033fc"/>
<rect x="668" y="180" width="12" height="3" fill="#fbd802"/>
<rect x="681" y="180" width="12" height="3" fill="#fbd802"/>
<rect x="696" y="180" width="12" height="3" fill="#e4f814"/>
<rect x="710" y="180" width="12" height="3" fill="#ddfb1b"/>
<rect x="680" y="180" width="1" height="3" fill="#0062ff"/>
<rect x="693" y="180" width="3" height="3" fill="#003cfd"/>
<rect x="708" y="180" width="2" height="3" fill="#002bfa"/>
<rect x="722" y="180" width="12" height="3" fill="#002bfa"/>
<rect x="556" y="187" width="112" height="3" fill="#002bfa"/>
<rect x="668" y="187" width="12" height="3" fill="#f9e004"/>
<rect x="681" y="187" width="12" height="3" fill="#ebf40e"/>
<rect x="696" y="187" width="12" height="3" fill="#cefe29"/>
<rect x="710" y="187" width="12" height="3" fill="#bdff3a"/>
<rect x="680" y="187" width="1" height="3" fill="#0062ff"/>
<rect x="693" y="187" width="3" height="3" fill="#003cfd"/>
<rect x="708" y="187" width="2" height="3" fill="#002bfa"/>
<rect x="722" y="187" width="12" height="3" fill="#0027f9"/>
<rect x="556" y="190" width="178" height="1" fill="#000000"/>
<rect x="556" y="191" width="112" height="6" fill="#002bfa"/>
<rect x="668" y="191" width="12" height="6" fill="#f9e004"/>
<rect x="681" y="191" width="12" height="6" fill="#ebf40e"/>
<rect x="696" y="191" width="12" height="6" fill="#cefe29"/>
<rect x="710" y="191" width="12" height="6" fill="#bdff3a"/>
<rect x="680" y="191" width="1" height="6" fill="#0062ff"/>
<rect x="693" y="191" width="3" height="6" fill="#003cfd"/>
<rect x="708" y="191" width="2" height="6" fill="#002bfa"/>
<rect x="722" y="191" width="12" height="6" fill="#0027f9"/>
<rect x="556" y="234" width="112" height="3" fill="#003cfd"/>
<rect x="668" y="234" width="12" height="3" fill="#ffaa00"/>
<rect x="681" y="234" width="12" height="3" fill="#fdcf01"/>
<rect x="696" y="234" width="12" height="3" fill="#e4f814"/>
<rect x="710" y="234" width="12" height="3" fill="#e4f814"/>
<rect x="680" y="234" width="1" height="3" fill="#0062ff"/>
<rect x="693" y="234" width="3" height="3" fill="#003cfd"/>
<rect x="708" y="234" width="2" height="3" fill="#002bfa"/>
<rect x="722" y="234" width="12" height="3" fill="#0027f9"/>
<rect x="556" y="238" width="112" height="2" fill="#003cfd"/>
<rect x="668" y="238" width="12" height="2" fill="#ffaa00"/>
<rect x="681" y="238" width="12" height="2" fill="#fdcf01"/>
<rect x="696" y="238" width="12" height="2" fill="#e4f814"/>
<rect x="710" y="238" width="12" height="2" fill="#e4f814"/>
<rect x="680" y="238" width="1" height="2" fill="#0062ff"/>
<rect x="693" y="238" width="3" height="2" fill="#003cfd"/>
<rect x="708" y="238" width="2" height="2" fill="#002bfa"/>
<rect x="722" y="238" width="12" height="2" fill="#0027f9"/>
<rect x="556" y="253" width="112" height="7" fill="#003cfd"/>
<rect x="668" y="253" width="12" height="7" fill="#ffa000"/>
<rect x="681" y="253" width="12" height="7" fill="#ffaa00"/>
<rect x="696" y="253" width="12" height="7" fill="#f5e806"/>
<rect x="710" y="253" width="12" height="7" fill="#fec600"/>
<rect x="680" y="253" width="1" height="7" fill="#0062ff"/>
<rect x="693" y="253" width="3" height="7" fill="#003cfd"/>
<rect x="708" y="253" width="2" height="7" fill="#002bfa"/>
<rect x="722" y="253" width="12" height="7" fill="#0027f9"/>
<rect x="556" y="261" width="112" height="2" fill="#003cfd"/>
<rect x="668" y="261" width="12" height="2" fill="#ffa000"/>
<rect x="681" y="261" width="12" height="2" fill="#ffaa00"/>
<rect x="696" y="261" width="12" height="2" fill="#f5e806"/>
<rect x="710" y="261" width="12" height="2" fill="#fec600"/>
<rect x="680" y="261" width="1" height="2" fill="#0062ff"/>
<rect x="693" y="261" width="3" height="2" fill="#003cfd"/>
<rect x="708" y="261" width="2" height="2" fill="#002bfa"/>
<rect x="722" y="261" width="12" height="2" fill="#0027f9"/>
<rect x="556" y="298" width="112" height="3" fill="#0033fc"/>
<rect x="668" y="298" width="12" height="3" fill="#fec600"/>
<rect x="681" y="298" width="12" height="3" fill="#f5e806"/>
<rect x="696" y="298" width="12" height="3" fill="#ddfb1b"/>
<rect x="710" y="298" width="12" height="3" fill="#ddfb1b"/>
<rect x="680" y="298" width="1" height="3" fill="#0062ff"/>
<rect x="693" y="298" width="3" height="3" fill="#003cfd"/>
<rect x="708" y="298" width="2" height="3" fill="#002bfa"/>
<rect x="722" y="298" width="12" height="3" fill="#0027f9"/>
<rect x="556" y="302" width="112" height="1" fill="#0033fc"/>
<rect x="668" y="302" width="12" height="1" fill="#fec600"/>
<rect x="681" y="302" width="12" height="1" fill="#f5e806"/>
<rect x="696" y="302" width="12" height="1" fill="#ddfb1b"/>
<rect x="710" y="302" width="12" height="1" fill="#ddfb1b"/>
<rect x="680" y="302" width="1" height="1" fill="#0062ff"/>
<rect x="693" y="302" width="3" height="1" fill="#003cfd"/>
<rect x="708" y="302" width="2" height="1" fill="#002bfa"/>
<rect x="722" y="302" width="12" height="1" fill="#0027f9"/>
<rect x="556" y="303" width="178" height="1" fill="#000000"/>
<rect x="556" y="381" width="112" height="1" fill="#002dfb"/>
<rect x="668" y="381" width="12" height="1" fill="#ffbd00"/>
<rect x="681" y="381" width="12" height="1" fill="#e4f814"/>
<rect x="696" y="381" width="12" height="1" fill="#ddfb1b"/>
<rect x="710" y="381" width="12" height="1" fill="#bdff3a"/>
<rect x="680" y="381" width="1" height="1" fill="#0062ff"/>
<rect x="693" y="381" width="3" height="1" fill="#003cfd"/>
<rect x="708" y="381" width="2" height="1" fill="#002bfa"/>
<rect x="722" y="381" width="12" height="1" fill="#0024f8"/>
<rect x="556" y="383" width="112" height="1" fill="#002dfb"/>
<rect x="668" y="383" width="12" height="1" fill="#ffbd00"/>
<rect x="681" y="383" width="12" height="1" fill="#e4f814"/>
<rect x="696" y="383" width="12" height="1" fill="#ddfb1b"/>
<rect x="710" y="383" width="12" height="1" fill="#bdff3a"/>
<rect x="680" y="383" width="1" height="1" fill="#0062ff"/>
<rect x="693" y="383" width="3" height="1" fill="#003cfd"/>
<rect x="708" y="383" width="2" height="1" fill="#002bfa"/>
<rect x="722" y="383" width="12" height="1" fill="#0024f8"/>
<rect x="556" y="385" width="112" height="1" fill="#002dfb"/>
<rect x="668" y="385" width="12" height="1" fill="#ffbd00"/>
<rect x="681" y="385" width="12" height="1" fill="#e4f814"/>
<rect x="696" y="385" width="12" height="1" fill="#ddfb1b"/>
<rect x="710" y="385" width="12" height="1" fill="#bdff3a"/>
<rect x="680" y="385" width="1" height="1" fill="#0062ff"/>
<rect x="693" y="385" width="3" height="1" fill="#003cfd"/>
<rect x="708" y="385" width="2" height="1" fill="#002bfa"/>
<rect x="722" y="385" width="12" height="1" fill="#0024f8"/>
<rect x="556" y="387" width="112" height="1" fill="#002dfb"/>
<rect x="668" y="387" width="12" height="1" fill="#ffbd00"/>
<rect x="681" y="387" width="12" height="1" fill="#e4f814"/>
<rect x="696" y="387" width="12" height="1" fill="#ddfb1b"/>
<rect x="710" y="387" width="12" height="1" fill="#bdff3a"/>
<rect x="680" y="387" width="1" height="1" fill="#0062ff"/>
<rect x="693" y="387" width="3" height="1" fill="#003cfd"/>
<rect x="708" y="387" width="2" height="1" fill="#002bfa"/>
<rect x="722" y="387" width="12" height="1" fill="#0024f8"/>
<rect x="556" y="389" width="112" height="3" fill="#002dfb"/>
<rect x="668" y="389" width="12" height="3" fill="#ffbd00"/>
<rect x="681" y="389" width="12" height="3" fill="#e4f814"/>
<rect x="696" y="389" width="12" height="3" fill="#ddfb1b"/>
<rect x="710" y="389" width="12" height="3" fill="#bdff3a"/>
<rect x="680" y="389" width="1" height="3" fill="#0062ff"/>
<rect x="693" y="389" width="3" height="3" fill="#003cfd"/>
<rect x="708" y="389" width="2" height="3" fill="#002bfa"/>
<rect x="722" y="389" width="12" height="3" fill="#0024f8"/>
<rect x="556" y="393" width="112" height="2" fill="#002dfb"/>
<rect x="668" y="393" width="12" height="2" fill="#fec600"/>
<rect x="681" y="393" width="12" height="2" fill="#f1ee0a"/>
<rect x="696" y="393" width="12" height="2" fill="#b5ff42"/>
<rect x="710" y="393" width="12" height="2" fill="#a5ff52"/>
<rect x="680" y="393" width="1" height="2" fill="#0062ff"/>
<rect x="693" y="393" width="3" height="2" fill="#003cfd"/>
<rect x="708" y="393" width="2" height="2" fill="#002bfa"/>
<rect x="722" y="393" width="12" height="2" fill="#0024f8"/>
<rect x="556" y="395" width="178" height="1" fill="#000000"/>
<rect x="556" y="396" width="112" height="4" fill="#002dfb"/>
<rect x="668" y="396" width="12" height="4" fill="#fec600"/>
<rect x="681" y="396" width="12" height="4" fill="#f1ee0a"/>
<rect x="696" y="396" width="12" height="4" fill="#b5ff42"/>
<rect x="710" y="396" width="12" height="4" fill="#a5ff52"/>
<rect x="680" y="396" width="1" height="4" fill="#0062ff"/>
<rect x="693" y="396" width="3" height="4" fill="#003cfd"/>
<rect x="708" y="396" width="2" height="4" fill="#002bfa"/>
<rect x="722" y="396" width="12" height="4" fill="#0024f8"/>
<rect x="556" y="400" width="178" height="1" fill="#000000"/>
<rect x="556" y="401" width="112" height="3" fill="#002dfb"/>
<rect x="668" y="401" width="12" height="3" fill="#fec600"/>
<rect x="681" y="401" width="12" height="3" fill="#f1ee0a"/>
<rect x="696" y="401" width="12" height="3" fill="#b5ff42"/>
<rect x="710" y="401" width="12" height="3" fill="#a5ff52"/>
<rect x="680" y="401" width="1" height="3" fill="#0062ff"/>
<rect x="693" y="401" width="3" height="3" fill="#003cfd"/>
<rect x="708" y="401" width="2" height="3" fill="#002bfa"/>
<rect x="722" y="401" width="12" height="3" fill="#0024f8"/>
<rect x="556" y="404" width="178" height="1" fill="#000000"/>
<rect x="556" y="405" width="112" height="3" fill="#002dfb"/>
<rect x="668" y="405" width="12" height="3" fill="#fec600"/>
<rect x="681" y="405" width="12" height="3" fill="#f1ee0a"/>
<rect x="696" y="405" width="12" height="3" fill="#b5ff42"/>
<rect x="710" y="405" width="12" height="3" fill="#a5ff52"/>
<rect x="680" y="405" width="1" height="3" fill="#0062ff"/>
<rect x="693" y="405" width="3" height="3" fill="#003cfd"/>
<rect x="708" y="405" width="2" height="3" fill="#002bfa"/>
<rect x="722" y="405" width="12" height="3" fill="#0024f8"/>
<rect x="556" y="409" width="178" height="1" fill="#000000"/>
<rect x="556" y="410" width="112" height="10" fill="#002dfb"/>
<rect x="668" y="410" width="12" height="10" fill="#f9e004"/>
<rect x="681" y="410" width="12" height="10" fill="#ebf40e"/>
<rect x="696" y="410" width="12" height="10" fill="#adff4a"/>
<rect x="710" y="410" width="12" height="10" fill="#a5ff52"/>
<rect x="680" y="410" width="1" height="10" fill="#0062ff"/>
<rect x="693" y="410" width="3" height="10" fill="#003cfd"/>
<rect x="708" y="410" width="2" height="10" fill="#002bfa"/>
<rect x="722" y="410" width="12" height="10" fill="#0024f8"/>
<rect x="556" y="420" width="178" height="1" fill="#000000"/>
<rect x="556" y="421" width="112" height="3" fill="#002dfb"/>
<rect x="668" y="421" width="12" height="3" fill="#f9e004"/>
<rect x="681" y="421" width="12" height="3" fill="#ebf40e"/>
<rect x="696" y="421" width="12" height="3" fill="#adff4a"/>
<rect x="710" y="421" width="12" height="3" fill="#a5ff52"/>
<rect x="680" y="421" width="1" height="3" fill="#0062ff"/>
<rect x="693" y="421" width="3" height="3" fill="#003cfd"/>
<rect x="708" y="421" width="2" height="3" fill="#002bfa"/>
<rect x="722" y="421" width="12" height="3" fill="#0024f8"/>
<rect x="556" y="424" width="178" height="1" fill="#000000"/>
<rect x="556" y="427" width="112" height="11" fill="#002dfb"/>
<rect x="668" y="427" width="12" height="11" fill="#fbd802"/>
<rect x="681" y="427" width="12" height="11" fill="#f1ee0a"/>
<rect x="696" y="427" width="12" height="11" fill="#adff4a"/>
<rect x="710" y="427" width="12" height="11" fill="#94ff63"/>
<rect x="680" y="427" width="1" height="11" fill="#0062ff"/>
<rect x="693" y="427" width="3" height="11" fill="#003cfd"/>
<rect x="708" y="427" width="2" height="11" fill="#002bfa"/>
<rect x="722" y="427" width="12" height="11" fill="#0024f8"/>
<rect x="556" y="439" width="112" height="1" fill="#002dfb"/>
<rect x="668" y="439" width="12" height="1" fill="#fbd802"/>
<rect x="681" y="439" width="12" height="1" fill="#f1ee0a"/>
<rect x="696" y="439" width="12" height="1" fill="#adff4a"/>
<rect x="710" y="439" width="12" height="1" fill="#94ff63"/>
<rect x="680" y="439" width="1" height="1" fill="#0062ff"/>
<rect x="693" y="439" width="3" height="1" fill="#003cfd"/>
<rect x="708" y="439" width="2" height="1" fill="#002bfa"/>
<rect x="722" y="439" width="12" height="1" fill="#0024f8"/>
<rect x="556" y="441" width="112" height="2" fill="#002dfb"/>
<rect x="668" y="441" width="12" height="2" fill="#fbd802"/>
<rect x="681" y="441" width="12" height="2" fill="#f1ee0a"/>
<rect x="696" y="441" width="12" height="2" fill="#adff4a"/>
<rect x="710" y="441" width="12" height="2" fill="#94ff63"/>
<rect x="680" y="441" width="1" height="2" fill="#0062ff"/>
<rect x="693" y="441" width="3" height="2" fill="#003cfd"/>
<rect x="708" y="441" width="2" height="2" fill="#002bfa"/>
<rect x="722" y="441" width="12" height="2" fill="#0024f8"/>
<rect x="556" y="443" width="178" height="1" fill="#000000"/>
<rect x="556" y="447" width="112" height="2" fill="#002dfb"/>
<rect x="668" y="447" width="12" height="2" fill="#f5e806"/>
<rect x="681" y="447" width="12" height="2" fill="#ddfb1b"/>
<rect x="696" y="447" width="12" height="2" fill="#a5ff52"/>
<rect x="710" y="447" width="12" height="2" fill="#94ff63"/>
<rect x="680" y="447" width="1" height="2" fill="#0062ff"/>
<rect x="693" y="447" width="3" height="2" fill="#003cfd"/>
<rect x="708" y="447" width="2" height="2" fill="#002bfa"/>
<rect x="722" y="447" width="12" height="2" fill="#0024f8"/>
<rect x="556" y="450" width="112" height="2" fill="#002dfb"/>
<rect x="668" y="450" width="12" height="2" fill="#f5e806"/>
<rect x="681" y="450" width="12" height="2" fill="#ddfb1b"/>
<rect x="696" y="450" width="12" height="2" fill="#a5ff52"/>
<rect x="710" y="450" width="12" height="2" fill="#94ff63"/>
<rect x="680" y="450" width="1" height="2" fill="#0062ff"/>
<rect x="693" y="450" width="3" height="2" fill="#003cfd"/>
<rect x="708" y="450" width="2" height="2" fill="#002bfa"/>
<rect x="722" y="450" width="12" height="2" fill="#0024f8"/>
<rect x="556" y="452" width="178" height="1" fill="#000000"/>
<rect x="556" y="453" width="112" height="1" fill="#002dfb"/>
<rect x="668" y="453" width="12" height="1" fill="#f5e806"/>
<rect x="681" y="453" width="12" height="1" fill="#ddfb1b"/>
<rect x="696" y="453" width="12" height="1" fill="#a5ff52"/>
<rect x="710" y="453" width="12" height="1" fill="#94ff63"/>
<rect x="680" y="453" width="1" height="1" fill="#0062ff"/>
<rect x="693" y="453" width="3" height="1" fill="#003cfd"/>
<rect x="708" y="453" width="2" height="1" fill="#002bfa"/>
<rect x="722" y="453" width="12" height="1" fill="#0024f8"/>
<rect x="556" y="454" width="178" height="1" fill="#000000"/>
<rect x="556" y="455" width="112" height="13" fill="#002dfb"/>
<rect x="668" y="455" width="12" height="13" fill="#f5e806"/>
<rect x="681" y="455" width="12" height="13" fill="#ddfb1b"/>
<rect x="696" y="455" width="12" height="13" fill="#a5ff52"/>
<rect x="710" y="455" width="12" height="13" fill="#94ff63"/>
<rect x="680" y="455" width="1" height="13" fill="#0062ff"/>
<rect x="693" y="455" width="3" height="13" fill="#003cfd"/>
<rect x="708" y="455" width="2" height="13" fill="#002bfa"/>
<rect x="722" y="455" width="12" height="13" fill="#0024f8"/>
<rect x="556" y="468" width="178" height="1" fill="#000000"/>
<rect x="556" y="469" width="112" height="2" fill="#002dfb"/>
<rect x="668" y="469" width="12" height="2" fill="#f5e806"/>
<rect x="681" y="469" width="12" height="2" fill="#ddfb1b"/>
<rect x="696" y="469" width="12" height="2" fill="#a5ff52"/>
<rect x="710" y="469" width="12" height="2" fill="#94ff63"/>
<rect x="680" y="469" width="1" height="2" fill="#0062ff"/>
<rect x="693" y="469" width="3" height="2" fill="#003cfd"/>
<rect x="708" y="469" width="2" height="2" fill="#002bfa"/>
<rect x="722" y="469" width="12" height="2" fill="#0024f8"/>
<rect x="556" y="471" width="178" height="1" fill="#000000"/>
<rect x="556" y="472" width="112" height="2" fill="#002dfb"/>
<rect x="668" y="472" width="12" height="2" fill="#f9e004"/>
<rect x="681" y="472" width="12" height="2" fill="#fbd802"/>
<rect x="696" y="472" width="12" height="2" fill="#cefe29"/>
<rect x="710" y="472" width="12" height="2" fill="#adff4a"/>
<rect x="680" y="472" width="1" height="2" fill="#0062ff"/>
<rect x="693" y="472" width="3" height="2" fill="#003cfd"/>
<rect x="708" y="472" width="2" height="2" fill="#002bfa"/>
<rect x="722" y="472" width="12" height="2" fill="#0024f8"/>
<rect x="556" y="474" width="178" height="1" fill="#000000"/>
<rect x="556" y="475" width="112" height="14" fill="#002dfb"/>
<rect x="668" y="475" width="12" height="14" fill="#f9e004"/>
<rect x="681" y="475" width="12" height="14" fill="#fbd802"/>
<rect x="696" y="475" width="12" height="14" fill="#cefe29"/>
<rect x="710" y="475" width="12" height="14" fill="#adff4a"/>
<rect x="680" y="475" width="1" height="14" fill="#0062ff"/>
<rect x="693" y="475" width="3" height="14" fill="#003cfd"/>
<rect x="708" y="475" width="2" height="14" fill="#002bfa"/>
<rect x="722" y="475" width="12" height="14" fill="#0024f8"/>
<rect x="556" y="490" width="112" height="2" fill="#002dfb"/>
<rect x="668" y="490" width="12" height="2" fill="#f9e004"/>
<rect x="681" y="490" width="12" height="2" fill="#fbd802"/>
<rect x="696" y="490" width="12" height="2" fill="#cefe29"/>
<rect x="710" y="490" width="12" height="2" fill="#adff4a"/>
<rect x="680" y="490" width="1" height="2" fill="#0062ff"/>
<rect x="693" y="490" width="3" height="2" fill="#003cfd"/>
<rect x="708" y="490" width="2" height="2" fill="#002bfa"/>
<rect x="722" y="490" width="12" height="2" fill="#0024f8"/>
<rect x="556" y="493" width="112" height="3" fill="#002dfb"/>
<rect x="668" y="493" width="12" height="3" fill="#f9e004"/>
<rect x="681" y="493" width="12" height="3" fill="#fbd802"/>
<rect x="696" y="493" width="12" height="3" fill="#cefe29"/>
<rect x="710" y="493" width="12" height="3" fill="#adff4a"/>
<rect x="680" y="493" width="1" height="3" fill="#0062ff"/>
<rect x="693" y="493" width="3" height="3" fill="#003cfd"/>
<rect x="708" y="493" width="2" height="3" fill="#002bfa"/>
<rect x="722" y="493" width="12" height="3" fill="#0024f8"/>
<rect x="556" y="497" width="112" height="1" fill="#002dfb"/>
<rect x="668" y="497" width="12" height="1" fill="#f9e004"/>
<rect x="681" y="497" width="12" height="1" fill="#fbd802"/>
<rect x="696" y="497" width="12" height="1" fill="#cefe29"/>
<rect x="710" y="497" width="12" height="1" fill="#adff4a"/>
<rect x="680" y="497" width="1" height="1" fill="#0062ff"/>
<rect x="693" y="497" width="3" height="1" fill="#003cfd"/>
<rect x="708" y="497" width="2" height="1" fill="#002bfa"/>
<rect x="722" y="497" width="12" height="1" fill="#0024f8"/>
<rect x="556" y="502" width="178" height="1" fill="#000000"/>
<rect x="556" y="504" width="112" height="5" fill="#002dfb"/>
<rect x="668" y="504" width="12" height="5" fill="#e4f814"/>
<rect x="681" y="504" width="12" height="5" fill="#ebf40e"/>
<rect x="696" y="504" width="12" height="5" fill="#ebf40e"/>
<rect x="710" y="504" width="12" height="5" fill="#adff4a"/>
<rect x="680" y="504" width="1" height="5" fill="#0062ff"/>
<rect x="693" y="504" width="3" height="5" fill="#003cfd"/>
<rect x="708" y="504" width="2" height="5" fill="#002bfa"/>
<rect x="722" y="504" width="12" height="5" fill="#0024f8"/>
<rect x="556" y="509" width="178" height="1" fill="#000000"/>
<rect x="556" y="510" width="112" height="6" fill="#002dfb"/>
<rect x="668" y="510" width="12" height="6" fill="#e4f814"/>
<rect x="681" y="510" width="12" height="6" fill="#ebf40e"/>
<rect x="696" y="510" width="12" height="6" fill="#ebf40e"/>
<rect x="710" y="510" width="12" height="6" fill="#adff4a"/>
<rect x="680" y="510" width="1" height="6" fill="#0062ff"/>
<rect x="693" y="510" width="3" height="6" fill="#003cfd"/>
<rect x="708" y="510" width="2" height="6" fill="#002bfa"/>
<rect x="722" y="510" width="12" height="6" fill="#0024f8"/>
<rect x="556" y="518" width="112" height="4" fill="#002dfb"/>
<rect x="668" y="518" width="12" height="4" fill="#ffb300"/>
<rect x="681" y="518" width="12" height="4" fill="#fbd802"/>
<rect x="696" y="518" width="12" height="4" fill="#fdcf01"/>
<rect x="710" y="518" width="12" height="4" fill="#d6fd22"/>
<rect x="680" y="518" width="1" height="4" fill="#0062ff"/>
<rect x="693" y="518" width="3" height="4" fill="#003cfd"/>
<rect x="708" y="518" width="2" height="4" fill="#002bfa"/>
<rect x="722" y="518" width="12" height="4" fill="#0024f8"/>
<rect x="556" y="523" width="178" height="2" fill="#000000"/>
<rect x="556" y="525" width="112" height="4" fill="#002dfb"/>
<rect x="668" y="525" width="12" height="4" fill="#ffb300"/>
<rect x="681" y="525" width="12" height="4" fill="#fbd802"/>
<rect x="696" y="525" width="12" height="4" fill="#fdcf01"/>
<rect x="710" y="525" width="12" height="4" fill="#d6fd22"/>
<rect x="680" y="525" width="1" height="4" fill="#0062ff"/>
<rect x="693" y="525" width="3" height="4" fill="#003cfd"/>
<rect x="708" y="525" width="2" height="4" fill="#002bfa"/>
<rect x="722" y="525" width="12" height="4" fill="#0024f8"/>
<rect x="556" y="530" width="112" height="2" fill="#002dfb"/>
<rect x="668" y="530" width="12" height="2" fill="#ffb300"/>
<rect x="681" y="530" width="12" height="2" fill="#fbd802"/>
<rect x="696" y="530" width="12" height="2" fill="#fdcf01"/>
<rect x="710" y="530" width="12" height="2" fill="#d6fd22"/>
<rect x="680" y="530" width="1" height="2" fill="#0062ff"/>
<rect x="693" y="530" width="3" height="2" fill="#003cfd"/>
<rect x="708" y="530" width="2" height="2" fill="#002bfa"/>
<rect x="722" y="530" width="12" height="2" fill="#0024f8"/>
<rect x="556" y="533" width="178" height="1" fill="#000000"/>
<rect x="556" y="534" width="112" height="2" fill="#002dfb"/>
<rect x="668" y="534" width="12" height="2" fill="#ffb300"/>
<rect x="681" y="534" width="12" height="2" fill="#fbd802"/>
<rect x="696" y="534" width="12" height="2" fill="#fdcf01"/>
<rect x="710" y="534" width="12" height="2" fill="#d6fd22"/>
<rect x="680" y="534" width="1" height="2" fill="#0062ff"/>
<rect x="693" y="534" width="3" height="2" fill="#003cfd"/>
<rect x="708" y="534" width="2" height="2" fill="#002bfa"/>
<rect x="722" y="534" width="12" height="2" fill="#0024f8"/>
<rect x="556" y="536" width="178" height="1" fill="#000000"/>
<rect x="556" y="537" width="112" height="3" fill="#002dfb"/>
<rect x="668" y="537" width="12" height="3" fill="#ffb300"/>
<rect x="681" y="537" width="12" height="3" fill="#fbd802"/>
<rect x="696" y="537" width="12" height="3" fill="#fdcf01"/>
<rect x="710" y="537" width="12" height="3" fill="#d6fd22"/>
<rect x="680" y="537" width="1" height="3" fill="#0062ff"/>
<rect x="693" y="537" width="3" height="3" fill="#003cfd"/>
<rect x="708" y="537" width="2" height="3" fill="#002bfa"/>
<rect x="722" y="537" width="12" height="3" fill="#0024f8"/>
<rect x="556" y="540" width="178" height="1" fill="#000000"/>
<rect x="556" y="541" width="112" height="2" fill="#002dfb"/>
<rect x="668" y="541" width="12" height="2" fill="#ffb300"/>
<rect x="681" y="541" width="12" height="2" fill="#fbd802"/>
<rect x="696" y="541" width="12" height="2" fill="#fdcf01"/>
<rect x="710" y="541" width="12" height="2" fill="#d6fd22"/>
<rect x="680" y="541" width="1" height="2" fill="#0062ff"/>
<rect x="693" y="541" width="3" height="2" fill="#003cfd"/>
<rect x="708" y="541" width="2" height="2" fill="#002bfa"/>
<rect x="722" y="541" width="12" height="2" fill="#0024f8"/>
<rect x="556" y="544" width="112" height="11" fill="#002dfb"/>
<rect x="668" y="544" width="12" height="1" fill="#ffb300"/>
<rect x="681" y="544" width="12" height="1" fill="#fbd802"/>
<rect x="696" y="544" width="12" height="1" fill="#fdcf01"/>
<rect x="710" y="544" width="12" height="1" fill="#d6fd22"/>
<rect x="668" y="545" width="12" height="10" fill="#f9e004"/>
<rect x="681" y="545" width="12" height="10" fill="#f1ee0a"/>
<rect x="696" y="545" width="12" height="10" fill="#ddfb1b"/>
<rect x="710" y="545" width="12" height="10" fill="#b5ff42"/>
<rect x="680" y="544" width="1" height="11" fill="#0062ff"/>
<rect x="693" y="544" width="3" height="11" fill="#003cfd"/>
<rect x="708" y="544" width="2" height="11" fill="#002bfa"/>
<rect x="722" y="544" width="12" height="11" fill="#0024f8"/>
<rect x="556" y="555" width="178" height="2" fill="#000000"/>
<rect x="556" y="558" width="112" height="2" fill="#0033fc"/>
<rect x="668" y="558" width="12" height="2" fill="#f5e806"/>
<rect x="681" y="558" width="12" height="2" fill="#e4f814"/>
<rect x="696" y="558" width="12" height="2" fill="#94ff63"/>
<rect x="710" y="558" width="12" height="2" fill="#94ff63"/>
<rect x="680" y="558" width="1" height="2" fill="#0062ff"/>
<rect x="693" y="558" width="3" height="2" fill="#003cfd"/>
<rect x="708" y="558" width="2" height="2" fill="#002bfa"/>
<rect x="722" y="558" width="12" height="2" fill="#0024f8"/>
<rect x="556" y="560" width="178" height="1" fill="#000000"/>
<rect x="556" y="561" width="112" height="2" fill="#002dfb"/>
<rect x="668" y="561" width="12" height="2" fill="#f5e806"/>
<rect x="681" y="561" width="12" height="2" fill="#e4f814"/>
<rect x="696" y="561" width="12" height="2" fill="#94ff63"/>
<rect x="710" y="561" width="12" height="2" fill="#94ff63"/>
<rect x="680" y="561" width="1" height="2" fill="#0062ff"/>
<rect x="693" y="561" width="3" height="2" fill="#003cfd"/>
<rect x="708" y="561" width="2" height="2" fill="#002bfa"/>
<rect x="722" y="561" width="12" height="2" fill="#0024f8"/>
<rect x="556" y="564" width="112" height="24" fill="#002dfb"/>
<rect x="668" y="564" width="12" height="24" fill="#f5e806"/>
<rect x="681" y="564" width="12" height="24" fill="#e4f814"/>
<rect x="696" y="564" width="12" height="24" fill="#94ff63"/>
<rect x="710" y="564" width="12" height="24" fill="#94ff63"/>
<rect x="680" y="564" width="1" height="24" fill="#0062ff"/>
<rect x="693" y="564" width="3" height="24" fill="#003cfd"/>
<rect x="708" y="564" width="2" height="24" fill="#002bfa"/>
<rect x="722" y="564" width="12" height="24" fill="#0024f8"/>
<rect x="556" y="588" width="178" height="2" fill="#000000"/>
<rect x="556" y="591" width="112" height="7" fill="#002dfb"/>
<rect x="668" y="591" width="12" height="7" fill="#f1ee0a"/>
<rect x="681" y="591" width="12" height="7" fill="#ddfb1b"/>
<rect x="696" y="591" width="12" height="7" fill="#a5ff52"/>
<rect x="710" y="591" width="12" height="7" fill="#bdff3a"/>
<rect x="680" y="591" width="1" height="7" fill="#0062ff"/>
<rect x="693" y="591" width="3" height="7" fill="#003cfd"/>
<rect x="708" y="591" width="2" height="7" fill="#002bfa"/>
<rect x="722" y="591" width="12" height="7" fill="#0024f8"/>
<rect x="556" y="599" width="112" height="22" fill="#002dfb"/>
<rect x="668" y="599" width="12" height="22" fill="#f1ee0a"/>
<rect x="681" y="599" width="12" height="22" fill="#ddfb1b"/>
<rect x="696" y="599" width="12" height="22" fill="#a5ff52"/>
<rect x="710" y="599" width="12" height="22" fill="#bdff3a"/>
<rect x="680" y="599" width="1" height="22" fill="#0062ff"/>
<rect x="693" y="599" width="3" height="22" fill="#003cfd"/>
<rect x="708" y="599" width="2" height="22" fill="#002bfa"/>
<rect x="722" y="599" width="12" height="22" fill="#0024f8"/>
<rect x="556" y="621" width="178" height="1" fill="#000000"/>
<rect x="556" y="624" width="112" height="6" fill="#002dfb"/>
<rect x="668" y="624" width="12" height="6" fill="#fec600"/>
<rect x="681" y="624" width="12" height="6" fill="#f9e004"/>
<rect x="696" y="624" width="12" height="6" fill="#f5e806"/>
<rect x="710" y="624" width="12" height="6" fill="#ddfb1b"/>
<rect x="680" y="624" width="1" height="6" fill="#0062ff"/>
<rect x="693" y="624" width="3" height="6" fill="#003cfd"/>
<rect x="708" y="624" width="2" height="6" fill="#002bfa"/>
<rect x="722" y="624" width="12" height="6" fill="#0024f8"/>
<rect x="556" y="632" width="112" height="7" fill="#002dfb"/>
<rect x="668" y="632" width="12" height="7" fill="#fec600"/>
<rect x="681" y="632" width="12" height="7" fill="#f9e004"/>
<rect x="696" y="632" width="12" height="7" fill="#f5e806"/>
<rect x="710" y="632" width="12" height="7" fill="#ddfb1b"/>
<rect x="680" y="632" width="1" height="7" fill="#0062ff"/>
<rect x="693" y="632" width="3" height="7" fill="#003cfd"/>
<rect x="708" y="632" width="2" height="7" fill="#002bfa"/>
<rect x="722" y="632" width="12" height="7" fill="#0024f8"/>
<rect x="556" y="640" width="112" height="15" fill="#002dfb"/>
<rect x="668" y="640" width="12" height="15" fill="#ffaa00"/>
<rect x="681" y="640" width="12" height="15" fill="#ff9700"/>
<rect x="696" y="640" width="12" height="15" fill="#ffa000"/>
<rect x="710" y="640" width="12" height="15" fill="#fbd802"/>
<rect x="680" y="640" width="1" height="15" fill="#0062ff"/>
<rect x="693" y="640" width="3" height="15" fill="#003cfd"/>
<rect x="708" y="640" width="2" height="15" fill="#002bfa"/>
<rect x="722" y="640" width="12" height="15" fill="#0024f8"/>
<rect x="556" y="655" width="178" height="1" fill="#000000"/>
<rect x="556" y="656" width="112" height="8" fill="#002dfb"/>
<rect x="668" y="656" width="12" height="8" fill="#ffaa00"/>
<rect x="681" y="656" width="12" height="8" fill="#ff9700"/>
<rect x="696" y="656" width="12" height="8" fill="#ffa000"/>
<rect x="710" y="656" width="12" height="8" fill="#fbd802"/>
<rect x="680" y="656" width="1" height="8" fill="#0062ff"/>
<rect x="693" y="656" width="3" height="8" fill="#003cfd"/>
<rect x="708" y="656" width="2" height="8" fill="#002bfa"/>
<rect x="722" y="656" width="12" height="8" fill="#0024f8"/>
<rect x="556" y="665" width="112" height="8" fill="#002dfb"/>
<rect x="668" y="665" width="12" height="8" fill="#ffaa00"/>
<rect x="681" y="665" width="12" height="8" fill="#ff9700"/>
<rect x="696" y="665" width="12" height="8" fill="#ffa000"/>
<rect x="710" y="665" width="12" height="8" fill="#fbd802"/>
<rect x="680" y="665" width="1" height="8" fill="#0062ff"/>
<rect x="693" y="665" width="3" height="8" fill="#003cfd"/>
<rect x="708" y="665" width="2" height="8" fill="#002bfa"/>
<rect x="722" y="665" width="12" height="8" fill="#0024f8"/>
<rect x="556" y="674" width="112" height="3" fill="#0033fc"/>
<rect x="668" y="674" width="12" height="3" fill="#ffaa00"/>
<rect x="681" y="674" width="12" height="3" fill="#ff9700"/>
<rect x="696" y="674" width="12" height="3" fill="#ffa000"/>
<rect x="710" y="674" width="12" height="3" fill="#fbd802"/>
<rect x="680" y="674" width="1" height="3" fill="#0062ff"/>
<rect x="693" y="674" width="3" height="3" fill="#003cfd"/>
<rect x="708" y="674" width="2" height="3" fill="#002bfa"/>
<rect x="722" y="674" width="12" height="3" fill="#0024f8"/>
<rect x="556" y="677" width="178" height="1" fill="#000000"/>
<rect x="556" y="680" width="112" height="12" fill="#002dfb"/>
<rect x="668" y="680" width="12" height="12" fill="#f5e806"/>
<rect x="681" y="680" width="12" height="12" fill="#f5e806"/>
<rect x="696" y="680" width="12" height="12" fill="#f1ee0a"/>
<rect x="710" y="680" width="12" height="12" fill="#ddfb1b"/>
<rect x="680" y="680" width="1" height="12" fill="#0062ff"/>
<rect x="693" y="680" width="3" height="12" fill="#003cfd"/>
<rect x="708" y="680" width="2" height="12" fill="#002bfa"/>
<rect x="722" y="680" width="12" height="12" fill="#0024f8"/>
<rect x="556" y="693" width="112" height="8" fill="#002dfb"/>
<rect x="668" y="693" width="12" height="8" fill="#f5e806"/>
<rect x="681" y="693" width="12" height="8" fill="#f5e806"/>
<rect x="696" y="693" width="12" height="8" fill="#f1ee0a"/>
<rect x="710" y="693" width="12" height="8" fill="#ddfb1b"/>
<rect x="680" y="693" width="1" height="8" fill="#0062ff"/>
<rect x="693" y="693" width="3" height="8" fill="#003cfd"/>
<rect x="708" y="693" width="2" height="8" fill="#002bfa"/>
<rect x="722" y="693" width="12" height="8" fill="#0024f8"/>
<rect x="556" y="703" width="178" height="1" fill="#000000"/>
<rect x="556" y="704" width="112" height="2" fill="#002dfb"/>
<rect x="668" y="704" width="12" height="2" fill="#f5e806"/>
<rect x="681" y="704" width="12" height="2" fill="#f5e806"/>
<rect x="696" y="704" width="12" height="2" fill="#f1ee0a"/>
<rect x="710" y="704" width="12" height="2" fill="#ddfb1b"/>
<rect x="680" y="704" width="1" height="2" fill="#0062ff"/>
<rect x="693" y="704" width="3" height="2" fill="#003cfd"/>
<rect x="708" y="704" width="2" height="2" fill="#002bfa"/>
<rect x="722" y="704" width="12" height="2" fill="#0024f8"/>
<rect x="556" y="708" width="112" height="12" fill="#002dfb"/>
<rect x="668" y="708" width="12" height="12" fill="#f5e806"/>
<rect x="681" y="708" width="12" height="12" fill="#f5e806"/>
<rect x="696" y="708" width="12" height="12" fill="#f1ee0a"/>
<rect x="710" y="708" width="12" height="12" fill="#ddfb1b"/>
<rect x="680" y="708" width="1" height="12" fill="#0062ff"/>
<rect x="693" y="708" width="3" height="12" fill="#003cfd"/>
<rect x="708" y="708" width="2" height="12" fill="#002bfa"/>
<rect x="722" y="708" width="12" height="12" fill="#0024f8"/>
<rect x="572" y="479" width="88" height="1" fill="#1380de"/>
<clipPath id="cl2"><rect x="556" y="80" width="112" height="640"/></clipPath>
<g clip-path="url(#cl2)" shape-rendering="auto">
<radialGradient id="b2_0"><stop offset="0" stop-color="#005afe" stop-opacity="1.000"/><stop offset="0.2" stop-color="#005afe" stop-opacity="0.852"/><stop offset="0.4" stop-color="#005afe" stop-opacity="0.527"/><stop offset="0.6" stop-color="#005afe" stop-opacity="0.237"/><stop offset="0.8" stop-color="#005afe" stop-opacity="0.077"/><stop offset="1" stop-color="#005afe" stop-opacity="0.018"/></radialGradient>
<ellipse cx="615" cy="432" rx="52" ry="12" fill="url(#b2_0)"/>
<radialGradient id="b2_1"><stop offset="0" stop-color="#0082fe" stop-opacity="1.000"/><stop offset="0.2" stop-color="#0082fe" stop-opacity="0.852"/><stop offset="0.4" stop-color="#0082fe" stop-opacity="0.527"/><stop offset="0.6" stop-color="#0082fe" stop-opacity="0.237"/><stop offset="0.8" stop-color="#0082fe" stop-opacity="0.077"/><stop offset="1" stop-color="#0082fe" stop-opacity="0.018"/></radialGradient>
<ellipse cx="630" cy="484" rx="32" ry="14" fill="url(#b2_1)"/>
<radialGradient id="b2_2"><stop offset="0" stop-color="#0064ff" stop-opacity="1.000"/><stop offset="0.2" stop-color="#0064ff" stop-opacity="0.852"/><stop offset="0.4" stop-color="#0064ff" stop-opacity="0.527"/><stop offset="0.6" stop-color="#0064ff" stop-opacity="0.237"/><stop offset="0.8" stop-color="#0064ff" stop-opacity="0.077"/><stop offset="1" stop-color="#0064ff" stop-opacity="0.018"/></radialGradient>
<ellipse cx="630" cy="493" rx="50" ry="8" fill="url(#b2_2)"/>
<radialGradient id="b2_3"><stop offset="0" stop-color="#0078ff" stop-opacity="1.000"/><stop offset="0.2" stop-color="#0078ff" stop-opacity="0.852"/><stop offset="0.4" stop-color="#0078ff" stop-opacity="0.527"/><stop offset="0.6" stop-color="#0078ff" stop-opacity="0.237"/><stop offset="0.8" stop-color="#0078ff" stop-opacity="0.077"/><stop offset="1" stop-color="#0078ff" stop-opacity="0.018"/></radialGradient>
<ellipse cx="625" cy="506" rx="36" ry="8" fill="url(#b2_3)"/>
<radialGradient id="b2_4"><stop offset="0" stop-color="#02aafb" stop-opacity="1.000"/><stop offset="0.2" stop-color="#02aafb" stop-opacity="0.852"/><stop offset="0.4" stop-color="#02aafb" stop-opacity="0.527"/><stop offset="0.6" stop-color="#02aafb" stop-opacity="0.237"/><stop offset="0.8" stop-color="#02aafb" stop-opacity="0.077"/><stop offset="1" stop-color="#02aafb" stop-opacity="0.018"/></radialGradient>
<ellipse cx="629" cy="580" rx="24" ry="14" fill="url(#b2_4)"/>
<radialGradient id="b2_5"><stop offset="0" stop-color="#018cfe" stop-opacity="1.000"/><stop offset="0.2" stop-color="#018cfe" stop-opacity="0.852"/><stop offset="0.4" stop-color="#018cfe" stop-opacity="0.527"/><stop offset="0.6" stop-color="#018cfe" stop-opacity="0.237"/><stop offset="0.8" stop-color="#018cfe" stop-opacity="0.077"/><stop offset="1" stop-color="#018cfe" stop-opacity="0.018"/></radialGradient>
<ellipse cx="620" cy="606" rx="28" ry="16" fill="url(#b2_5)"/>
<radialGradient id="b2_6"><stop offset="0" stop-color="#02aafb" stop-opacity="1.000"/><stop offset="0.2" stop-color="#02aafb" stop-opacity="0.852"/><stop offset="0.4" stop-color="#02aafb" stop-opacity="0.527"/><stop offset="0.6" stop-color="#02aafb" stop-opacity="0.237"/><stop offset="0.8" stop-color="#02aafb" stop-opacity="0.077"/><stop offset="1" stop-color="#02aafb" stop-opacity="0.018"/></radialGradient>
<ellipse cx="653" cy="609" rx="24" ry="18" fill="url(#b2_6)"/>
<radialGradient id="b2_7"><stop offset="0" stop-color="#0050fe" stop-opacity="1.000"/><stop offset="0.2" stop-color="#0050fe" stop-opacity="0.852"/><stop offset="0.4" stop-color="#0050fe" stop-opacity="0.527"/><stop offset="0.6" stop-color="#0050fe" stop-opacity="0.237"/><stop offset="0.8" stop-color="#0050fe" stop-opacity="0.077"/><stop offset="1" stop-color="#0050fe" stop-opacity="0.018"/></radialGradient>
<ellipse cx="620" cy="605" rx="90" ry="24" fill="url(#b2_7)"/>
<radialGradient id="b2_8"><stop offset="0" stop-color="#02a0fd" stop-opacity="1.000"/><stop offset="0.2" stop-color="#02a0fd" stop-opacity="0.852"/><stop offset="0.4" stop-color="#02a0fd" stop-opacity="0.527"/><stop offset="0.6" stop-color="#02a0fd" stop-opacity="0.237"/><stop offset="0.8" stop-color="#02a0fd" stop-opacity="0.077"/><stop offset="1" stop-color="#02a0fd" stop-opacity="0.018"/></radialGradient>
<ellipse cx="662" cy="104" rx="12" ry="12" fill="url(#b2_8)"/>
<radialGradient id="b2_9"><stop offset="0" stop-color="#0078ff" stop-opacity="1.000"/><stop offset="0.2" stop-color="#0078ff" stop-opacity="0.852"/><stop offset="0.4" stop-color="#0078ff" stop-opacity="0.527"/><stop offset="0.6" stop-color="#0078ff" stop-opacity="0.237"/><stop offset="0.8" stop-color="#0078ff" stop-opacity="0.077"/><stop offset="1" stop-color="#0078ff" stop-opacity="0.018"/></radialGradient>
<ellipse cx="662" cy="155" rx="16" ry="12" fill="url(#b2_9)"/>
</g>
<rect x="556" y="92" width="112" height="2" fill="#000"/>
<rect x="556" y="111" width="112" height="1" fill="#fff"/>
<rect x="556" y="117" width="112" height="1" fill="#fff"/>
<rect x="556" y="122" width="112" height="1" fill="#000"/>
<rect x="556" y="130" width="112" height="5" fill="#fff"/>
<rect x="556" y="139" width="112" height="1" fill="#fff"/>
<rect x="556" y="142" width="112" height="1" fill="#fff"/>
<rect x="556" y="145" width="112" height="1" fill="#fff"/>
<rect x="556" y="160" width="112" height="5" fill="#fff"/>
<rect x="556" y="170" width="112" height="2" fill="#000"/>
<rect x="556" y="172" width="112" height="1" fill="#fff"/>
<rect x="556" y="176" width="112" height="1" fill="#fff"/>
<rect x="556" y="179" width="112" height="1" fill="#fff"/>
<rect x="556" y="183" width="112" height="4" fill="#fff"/>
<rect x="556" y="190" width="112" height="1" fill="#000"/>
<rect x="556" y="197" width="112" height="37" fill="#fff"/>
<rect x="556" y="237" width="112" height="1" fill="#fff"/>
<rect x="556" y="240" width="112" height="13" fill="#fff"/>
<rect x="556" y="260" width="112" height="1" fill="#fff"/>
<rect x="556" y="263" width="112" height="35" fill="#fff"/>
<rect x="556" y="301" width="112" height="1" fill="#fff"/>
<rect x="556" y="303" width="112" height="1" fill="#000"/>
<rect x="556" y="304" width="112" height="77" fill="#fff"/>
<rect x="556" y="382" width="112" height="1" fill="#fff"/>
<rect x="556" y="384" width="112" height="1" fill="#fff"/>
<rect x="556" y="386" width="112" height="1" fill="#fff"/>
<rect x="556" y="388" width="112" height="1" fill="#fff"/>
<rect x="556" y="392" width="112" height="1" fill="#fff"/>
<rect x="556" y="395" width="112" height="1" fill="#000"/>
<rect x="556" y="400" width="112" height="1" fill="#000"/>
<rect x="556" y="404" width="112" height="1" fill="#000"/>
<rect x="556" y="408" width="112" height="1" fill="#fff"/>
<rect x="556" y="409" width="112" height="1" fill="#000"/>
<rect x="556" y="420" width="112" height="1" fill="#000"/>
<rect x="556" y="424" width="112" height="1" fill="#000"/>
<rect x="556" y="425" width="112" height="2" fill="#fff"/>
<rect x="556" y="438" width="112" height="1" fill="#fff"/>
<rect x="556" y="440" width="112" height="1" fill="#fff"/>
<rect x="556" y="443" width="112" height="1" fill="#000"/>
<rect x="556" y="444" width="112" height="3" fill="#fff"/>
<rect x="556" y="449" width="112" height="1" fill="#fff"/>
<rect x="556" y="452" width="112" height="1" fill="#000"/>
<rect x="556" y="454" width="112" height="1" fill="#000"/>
<rect x="556" y="468" width="112" height="1" fill="#000"/>
<rect x="556" y="471" width="112" height="1" fill="#000"/>
<rect x="556" y="474" width="112" height="1" fill="#000"/>
<rect x="556" y="489" width="112" height="1" fill="#fff"/>
<rect x="556" y="492" width="112" height="1" fill="#fff"/>
<rect x="556" y="496" width="112" height="1" fill="#fff"/>
<rect x="556" y="498" width="112" height="4" fill="#fff"/>
<rect x="556" y="502" width="112" height="1" fill="#000"/>
<rect x="556" y="503" width="112" height="1" fill="#fff"/>
<rect x="556" y="509" width="112" height="1" fill="#000"/>
<rect x="556" y="516" width="112" height="2" fill="#fff"/>
<rect x="556" y="522" width="112" height="1" fill="#fff"/>
<rect x="556" y="523" width="112" height="2" fill="#000"/>
<rect x="556" y="529" width="112" height="1" fill="#fff"/>
<rect x="556" y="532" width="112" height="1" fill="#fff"/>
<rect x="556" y="533" width="112" height="1" fill="#000"/>
<rect x="556" y="536" width="112" height="1" fill="#000"/>
<rect x="556" y="540" width="112" height="1" fill="#000"/>
<rect x="556" y="543" width="112" height="1" fill="#fff"/>
<rect x="556" y="555" width="112" height="2" fill="#000"/>
<rect x="556" y="557" width="112" height="1" fill="#fff"/>
<rect x="556" y="560" width="112" height="1" fill="#000"/>
<rect x="556" y="563" width="112" height="1" fill="#fff"/>
<rect x="556" y="588" width="112" height="2" fill="#000"/>
<rect x="556" y="590" width="112" height="1" fill="#fff"/>
<rect x="556" y="598" width="112" height="1" fill="#fff"/>
<rect x="556" y="621" width="112" height="1" fill="#000"/>
<rect x="556" y="622" width="112" height="2" fill="#fff"/>
<rect x="556" y="630" width="112" height="2" fill="#fff"/>
<rect x="556" y="639" width="112" height="1" fill="#fff"/>
<rect x="556" y="655" width="112" height="1" fill="#000"/>
<rect x="556" y="664" width="112" height="1" fill="#fff"/>
<rect x="556" y="673" width="112" height="1" fill="#fff"/>
<rect x="556" y="677" width="112" height="1" fill="#000"/>
<rect x="556" y="678" width="112" height="2" fill="#fff"/>
<rect x="556" y="692" width="112" height="1" fill="#fff"/>
<rect x="556" y="701" width="112" height="2" fill="#fff"/>
<rect x="556" y="703" width="112" height="1" fill="#000"/>
<rect x="556" y="706" width="112" height="2" fill="#fff"/>
<rect x="768" y="80" width="112" height="12" fill="#0024f8"/>
<rect x="880" y="80" width="12" height="12" fill="#f5e806"/>
<rect x="894" y="80" width="12" height="12" fill="#f1ee0a"/>
<rect x="908" y="80" width="12" height="12" fill="#ddfb1b"/>
<rect x="922" y="80" width="12" height="12" fill="#b5ff42"/>
<rect x="892" y="80" width="2" height="12" fill="#004efe"/>
<rect x="906" y="80" width="2" height="12" fill="#003cfd"/>
<rect x="920" y="80" width="2" height="12" fill="#002bfa"/>
<rect x="934" y="80" width="12" height="12" fill="#0024f8"/>
<rect x="768" y="92" width="178" height="2" fill="#000000"/>
<rect x="768" y="94" width="112" height="17" fill="#0043fe"/>
<rect x="880" y="94" width="12" height="17" fill="#fdcf01"/>
<rect x="894" y="94" width="12" height="17" fill="#f1ee0a"/>
<rect x="908" y="94" width="12" height="17" fill="#ffbd00"/>
<rect x="922" y="94" width="12" height="17" fill="#e4f814"/>
<rect x="892" y="94" width="2" height="17" fill="#004efe"/>
<rect x="906" y="94" width="2" height="17" fill="#003cfd"/>
<rect x="920" y="94" width="2" height="17" fill="#002bfa"/>
<rect x="934" y="94" width="12" height="17" fill="#0024f8"/>
<rect x="768" y="112" width="112" height="5" fill="#0043fe"/>
<rect x="880" y="112" width="12" height="5" fill="#ffaa00"/>
<rect x="894" y="112" width="12" height="5" fill="#ebf40e"/>
<rect x="908" y="112" width="12" height="5" fill="#fbd802"/>
<rect x="922" y="112" width="12" height="5" fill="#ddfb1b"/>
<rect x="892" y="112" width="2" height="5" fill="#004efe"/>
<rect x="906" y="112" width="2" height="5" fill="#003cfd"/>
<rect x="920" y="112" width="2" height="5" fill="#002bfa"/>
<rect x="934" y="112" width="12" height="5" fill="#0024f8"/>
<rect x="768" y="118" width="112" height="4" fill="#003cfd"/>
<rect x="880" y="118" width="12" height="4" fill="#ffaa00"/>
<rect x="894" y="118" width="12" height="4" fill="#ebf40e"/>
<rect x="908" y="118" width="12" height="4" fill="#fbd802"/>
<rect x="922" y="118" width="12" height="4" fill="#ddfb1b"/>
<rect x="892" y="118" width="2" height="4" fill="#004efe"/>
<rect x="906" y="118" width="2" height="4" fill="#003cfd"/>
<rect x="920" y="118" width="2" height="4" fill="#002bfa"/>
<rect x="934" y="118" width="12" height="4" fill="#0024f8"/>
<rect x="768" y="122" width="178" height="1" fill="#000000"/>
<rect x="768" y="123" width="112" height="7" fill="#0043fe"/>
<rect x="880" y="123" width="12" height="7" fill="#f5e806"/>
<rect x="894" y="123" width="12" height="7" fill="#ebf40e"/>
<rect x="908" y="123" width="12" height="7" fill="#ebf40e"/>
<rect x="922" y="123" width="12" height="7" fill="#cefe29"/>
<rect x="892" y="123" width="2" height="7" fill="#004efe"/>
<rect x="906" y="123" width="2" height="7" fill="#003cfd"/>
<rect x="920" y="123" width="2" height="7" fill="#002bfa"/>
<rect x="934" y="123" width="12" height="7" fill="#0024f8"/>
<rect x="768" y="135" width="112" height="1" fill="#0043fe"/>
<rect x="880" y="135" width="12" height="1" fill="#f5e806"/>
<rect x="894" y="135" width="12" height="1" fill="#ebf40e"/>
<rect x="908" y="135" width="12" height="1" fill="#e4f814"/>
<rect x="922" y="135" width="12" height="1" fill="#cefe29"/>
<rect x="892" y="135" width="2" height="1" fill="#004efe"/>
<rect x="906" y="135" width="2" height="1" fill="#003cfd"/>
<rect x="920" y="135" width="2" height="1" fill="#002bfa"/>
<rect x="934" y="135" width="12" height="1" fill="#0024f8"/>
<rect x="768" y="136" width="112" height="2" fill="#35d1c5"/>
<rect x="880" y="136" width="12" height="2" fill="#f5e806"/>
<rect x="894" y="136" width="12" height="2" fill="#ebf40e"/>
<rect x="908" y="136" width="12" height="2" fill="#e4f814"/>
<rect x="922" y="136" width="12" height="2" fill="#cefe29"/>
<rect x="892" y="136" width="2" height="2" fill="#004efe"/>
<rect x="906" y="136" width="2" height="2" fill="#003cfd"/>
<rect x="920" y="136" width="2" height="2" fill="#002bfa"/>
<rect x="934" y="136" width="12" height="2" fill="#0050fd"/>
<rect x="768" y="138" width="112" height="1" fill="#0043fe"/>
<rect x="880" y="138" width="12" height="1" fill="#f5e806"/>
<rect x="894" y="138" width="12" height="1" fill="#ebf40e"/>
<rect x="908" y="138" width="12" height="1" fill="#e4f814"/>
<rect x="922" y="138" width="12" height="1" fill="#cefe29"/>
<rect x="892" y="138" width="2" height="1" fill="#004efe"/>
<rect x="906" y="138" width="2" height="1" fill="#003cfd"/>
<rect x="920" y="138" width="2" height="1" fill="#002bfa"/>
<rect x="934" y="138" width="12" height="1" fill="#0024f8"/>
<rect x="768" y="140" width="112" height="2" fill="#0043fe"/>
<rect x="880" y="140" width="12" height="2" fill="#f5e806"/>
<rect x="894" y="140" width="12" height="2" fill="#ebf40e"/>
<rect x="908" y="140" width="12" height="2" fill="#e4f814"/>
<rect x="922" y="140" width="12" height="2" fill="#cefe29"/>
<rect x="892" y="140" width="2" height="2" fill="#004efe"/>
<rect x="906" y="140" width="2" height="2" fill="#003cfd"/>
<rect x="920" y="140" width="2" height="2" fill="#002bfa"/>
<rect x="934" y="140" width="12" height="2" fill="#0024f8"/>
<rect x="768" y="143" width="112" height="2" fill="#0043fe"/>
<rect x="880" y="143" width="12" height="2" fill="#f5e806"/>
<rect x="894" y="143" width="12" height="2" fill="#ebf40e"/>
<rect x="908" y="143" width="12" height="2" fill="#e4f814"/>
<rect x="922" y="143" width="12" height="2" fill="#cefe29"/>
<rect x="892" y="143" width="2" height="2" fill="#004efe"/>
<rect x="906" y="143" width="2" height="2" fill="#003cfd"/>
<rect x="920" y="143" width="2" height="2" fill="#002bfa"/>
<rect x="934" y="143" width="12" height="2" fill="#0024f8"/>
<rect x="768" y="146" width="112" height="14" fill="#0043fe"/>
<rect x="880" y="146" width="12" height="14" fill="#fdcf01"/>
<rect x="894" y="146" width="12" height="14" fill="#f1ee0a"/>
<rect x="908" y="146" width="12" height="14" fill="#f1ee0a"/>
<rect x="922" y="146" width="12" height="14" fill="#d6fd22"/>
<rect x="892" y="146" width="2" height="14" fill="#004efe"/>
<rect x="906" y="146" width="2" height="14" fill="#003cfd"/>
<rect x="920" y="146" width="2" height="14" fill="#002bfa"/>
<rect x="934" y="146" width="12" height="14" fill="#0024f8"/>
<rect x="768" y="165" width="112" height="5" fill="#0043fe"/>
<rect x="880" y="165" width="12" height="5" fill="#fec600"/>
<rect x="894" y="165" width="12" height="5" fill="#fbd802"/>
<rect x="908" y="165" width="12" height="5" fill="#fbd802"/>
<rect x="922" y="165" width="12" height="5" fill="#ddfb1b"/>
<rect x="892" y="165" width="2" height="5" fill="#004efe"/>
<rect x="906" y="165" width="2" height="5" fill="#003cfd"/>
<rect x="920" y="165" width="2" height="5" fill="#002bfa"/>
<rect x="934" y="165" width="12" height="5" fill="#0024f8"/>
<rect x="768" y="170" width="178" height="2" fill="#000000"/>
<rect x="768" y="173" width="112" height="3" fill="#002bfa"/>
<rect x="880" y="173" width="12" height="3" fill="#fbd802"/>
<rect x="894" y="173" width="12" height="3" fill="#fdcf01"/>
<rect x="908" y="173" width="12" height="3" fill="#e4f814"/>
<rect x="922" y="173" width="12" height="3" fill="#cefe29"/>
<rect x="892" y="173" width="2" height="3" fill="#004efe"/>
<rect x="906" y="173" width="2" height="3" fill="#003cfd"/>
<rect x="920" y="173" width="2" height="3" fill="#002bfa"/>
<rect x="934" y="173" width="12" height="3" fill="#0024f8"/>
<rect x="768" y="177" width="112" height="2" fill="#002bfa"/>
<rect x="880" y="177" width="12" height="2" fill="#fbd802"/>
<rect x="894" y="177" width="12" height="2" fill="#fdcf01"/>
<rect x="908" y="177" width="12" height="2" fill="#e4f814"/>
<rect x="922" y="177" width="12" height="2" fill="#cefe29"/>
<rect x="892" y="177" width="2" height="2" fill="#004efe"/>
<rect x="906" y="177" width="2" height="2" fill="#003cfd"/>
<rect x="920" y="177" width="2" height="2" fill="#002bfa"/>
<rect x="934" y="177" width="12" height="2" fill="#0024f8"/>
<rect x="768" y="180" width="112" height="3" fill="#0780f3"/>
<rect x="880" y="180" width="12" height="3" fill="#fbd802"/>
<rect x="894" y="180" width="12" height="3" fill="#fdcf01"/>
<rect x="908" y="180" width="12" height="3" fill="#e4f814"/>
<rect x="922" y="180" width="12" height="3" fill="#cefe29"/>
<rect x="892" y="180" width="2" height="3" fill="#004efe"/>
<rect x="906" y="180" width="2" height="3" fill="#003cfd"/>
<rect x="920" y="180" width="2" height="3" fill="#002bfa"/>
<rect x="934" y="180" width="12" height="3" fill="#0780f3"/>
<rect x="768" y="187" width="112" height="3" fill="#002bfa"/>
<rect x="880" y="187" width="12" height="3" fill="#ddfb1b"/>
<rect x="894" y="187" width="12" height="3" fill="#e4f814"/>
<rect x="908" y="187" width="12" height="3" fill="#bdff3a"/>
<rect x="922" y="187" width="12" height="3" fill="#a5ff52"/>
<rect x="892" y="187" width="2" height="3" fill="#004efe"/>
<rect x="906" y="187" width="2" height="3" fill="#003cfd"/>
<rect x="920" y="187" width="2" height="3" fill="#002bfa"/>
<rect x="934" y="187" width="12" height="3" fill="#0024f8"/>
<rect x="768" y="190" width="178" height="1" fill="#000000"/>
<rect x="768" y="191" width="112" height="6" fill="#002bfa"/>
<rect x="880" y="191" width="12" height="6" fill="#ddfb1b"/>
<rect x="894" y="191" width="12" height="6" fill="#e4f814"/>
<rect x="908" y="191" width="12" height="6" fill="#bdff3a"/>
<rect x="922" y="191" width="12" height="6" fill="#a5ff52"/>
<rect x="892" y="191" width="2" height="6" fill="#004efe"/>
<rect x="906" y="191" width="2" height="6" fill="#003cfd"/>
<rect x="920" y="191" width="2" height="6" fill="#002bfa"/>
<rect x="934" y="191" width="12" height="6" fill="#0024f8"/>
<rect x="768" y="234" width="112" height="3" fill="#003cfd"/>
<rect x="880" y="234" width="12" height="3" fill="#fbd802"/>
<rect x="894" y="234" width="12" height="3" fill="#e4f814"/>
<rect x="908" y="234" width="12" height="3" fill="#e4f814"/>
<rect x="922" y="234" width="12" height="3" fill="#ddfb1b"/>
<rect x="892" y="234" width="2" height="3" fill="#004efe"/>
<rect x="906" y="234" width="2" height="3" fill="#003cfd"/>
<rect x="920" y="234" width="2" height="3" fill="#002bfa"/>
<rect x="934" y="234" width="12" height="3" fill="#0024f8"/>
<rect x="768" y="238" width="112" height="2" fill="#003cfd"/>
<rect x="880" y="238" width="12" height="2" fill="#fbd802"/>
<rect x="894" y="238" width="12" height="2" fill="#e4f814"/>
<rect x="908" y="238" width="12" height="2" fill="#e4f814"/>
<rect x="922" y="238" width="12" height="2" fill="#ddfb1b"/>
<rect x="892" y="238" width="2" height="2" fill="#004efe"/>
<rect x="906" y="238" width="2" height="2" fill="#003cfd"/>
<rect x="920" y="238" width="2" height="2" fill="#002bfa"/>
<rect x="934" y="238" width="12" height="2" fill="#0024f8"/>
<rect x="768" y="253" width="112" height="7" fill="#003cfd"/>
<rect x="880" y="253" width="12" height="7" fill="#ffaa00"/>
<rect x="894" y="253" width="12" height="7" fill="#f5e806"/>
<rect x="908" y="253" width="12" height="7" fill="#e4f814"/>
<rect x="922" y="253" width="12" height="7" fill="#fbd802"/>
<rect x="892" y="253" width="2" height="7" fill="#004efe"/>
<rect x="906" y="253" width="2" height="7" fill="#003cfd"/>
<rect x="920" y="253" width="2" height="7" fill="#002bfa"/>
<rect x="934" y="253" width="12" height="7" fill="#0024f8"/>
<rect x="768" y="261" width="112" height="2" fill="#003cfd"/>
<rect x="880" y="261" width="12" height="2" fill="#ffaa00"/>
<rect x="894" y="261" width="12" height="2" fill="#f5e806"/>
<rect x="908" y="261" width="12" height="2" fill="#e4f814"/>
<rect x="922" y="261" width="12" height="2" fill="#fbd802"/>
<rect x="892" y="261" width="2" height="2" fill="#004efe"/>
<rect x="906" y="261" width="2" height="2" fill="#003cfd"/>
<rect x="920" y="261" width="2" height="2" fill="#002bfa"/>
<rect x="934" y="261" width="12" height="2" fill="#0024f8"/>
<rect x="768" y="298" width="112" height="3" fill="#002ffb"/>
<rect x="880" y="298" width="12" height="3" fill="#f1ee0a"/>
<rect x="894" y="298" width="12" height="3" fill="#e4f814"/>
<rect x="908" y="298" width="12" height="3" fill="#ddfb1b"/>
<rect x="922" y="298" width="12" height="3" fill="#cefe29"/>
<rect x="892" y="298" width="2" height="3" fill="#004efe"/>
<rect x="906" y="298" width="2" height="3" fill="#003cfd"/>
<rect x="920" y="298" width="2" height="3" fill="#002bfa"/>
<rect x="934" y="298" width="12" height="3" fill="#0024f8"/>
<rect x="768" y="302" width="112" height="1" fill="#002ffb"/>
<rect x="880" y="302" width="12" height="1" fill="#f1ee0a"/>
<rect x="894" y="302" width="12" height="1" fill="#e4f814"/>
<rect x="908" y="302" width="12" height="1" fill="#ddfb1b"/>
<rect x="922" y="302" width="12" height="1" fill="#cefe29"/>
<rect x="892" y="302" width="2" height="1" fill="#004efe"/>
<rect x="906" y="302" width="2" height="1" fill="#003cfd"/>
<rect x="920" y="302" width="2" height="1" fill="#002bfa"/>
<rect x="934" y="302" width="12" height="1" fill="#0024f8"/>
<rect x="768" y="303" width="178" height="1" fill="#000000"/>
<rect x="768" y="381" width="112" height="1" fill="#002afa"/>
<rect x="880" y="381" width="12" height="1" fill="#f9e004"/>
<rect x="894" y="381" width="12" height="1" fill="#ebf40e"/>
<rect x="908" y="381" width="12" height="1" fill="#cefe29"/>
<rect x="922" y="381" width="12" height="1" fill="#cefe29"/>
<rect x="892" y="381" width="2" height="1" fill="#004efe"/>
<rect x="906" y="381" width="2" height="1" fill="#003cfd"/>
<rect x="920" y="381" width="2" height="1" fill="#002bfa"/>
<rect x="934" y="381" width="12" height="1" fill="#0020f7"/>
<rect x="768" y="383" width="112" height="1" fill="#002afa"/>
<rect x="880" y="383" width="12" height="1" fill="#f9e004"/>
<rect x="894" y="383" width="12" height="1" fill="#ebf40e"/>
<rect x="908" y="383" width="12" height="1" fill="#cefe29"/>
<rect x="922" y="383" width="12" height="1" fill="#cefe29"/>
<rect x="892" y="383" width="2" height="1" fill="#004efe"/>
<rect x="906" y="383" width="2" height="1" fill="#003cfd"/>
<rect x="920" y="383" width="2" height="1" fill="#002bfa"/>
<rect x="934" y="383" width="12" height="1" fill="#0020f7"/>
<rect x="768" y="385" width="112" height="1" fill="#002afa"/>
<rect x="880" y="385" width="12" height="1" fill="#f9e004"/>
<rect x="894" y="385" width="12" height="1" fill="#ebf40e"/>
<rect x="908" y="385" width="12" height="1" fill="#cefe29"/>
<rect x="922" y="385" width="12" height="1" fill="#cefe29"/>
<rect x="892" y="385" width="2" height="1" fill="#004efe"/>
<rect x="906" y="385" width="2" height="1" fill="#003cfd"/>
<rect x="920" y="385" width="2" height="1" fill="#002bfa"/>
<rect x="934" y="385" width="12" height="1" fill="#0020f7"/>
<rect x="768" y="387" width="112" height="1" fill="#002afa"/>
<rect x="880" y="387" width="12" height="1" fill="#f9e004"/>
<rect x="894" y="387" width="12" height="1" fill="#ebf40e"/>
<rect x="908" y="387" width="12" height="1" fill="#cefe29"/>
<rect x="922" y="387" width="12" height="1" fill="#cefe29"/>
<rect x="892" y="387" width="2" height="1" fill="#004efe"/>
<rect x="906" y="387" width="2" height="1" fill="#003cfd"/>
<rect x="920" y="387" width="2" height="1" fill="#002bfa"/>
<rect x="934" y="387" width="12" height="1" fill="#0020f7"/>
<rect x="768" y="389" width="112" height="3" fill="#002afa"/>
<rect x="880" y="389" width="12" height="3" fill="#f9e004"/>
<rect x="894" y="389" width="12" height="3" fill="#ebf40e"/>
<rect x="908" y="389" width="12" height="3" fill="#cefe29"/>
<rect x="922" y="389" width="12" height="3" fill="#cefe29"/>
<rect x="892" y="389" width="2" height="3" fill="#004efe"/>
<rect x="906" y="389" width="2" height="3" fill="#003cfd"/>
<rect x="920" y="389" width="2" height="3" fill="#002bfa"/>
<rect x="934" y="389" width="12" height="3" fill="#0020f7"/>
<rect x="768" y="393" width="112" height="2" fill="#002afa"/>
<rect x="880" y="393" width="12" height="2" fill="#fdcf01"/>
<rect x="894" y="393" width="12" height="2" fill="#ddfb1b"/>
<rect x="908" y="393" width="12" height="2" fill="#ddfb1b"/>
<rect x="922" y="393" width="12" height="2" fill="#bdff3a"/>
<rect x="892" y="393" width="2" height="2" fill="#004efe"/>
<rect x="906" y="393" width="2" height="2" fill="#003cfd"/>
<rect x="920" y="393" width="2" height="2" fill="#002bfa"/>
<rect x="934" y="393" width="12" height="2" fill="#0020f7"/>
<rect x="768" y="395" width="178" height="1" fill="#000000"/>
<rect x="768" y="396" width="112" height="4" fill="#002afa"/>
<rect x="880" y="396" width="12" height="4" fill="#fdcf01"/>
<rect x="894" y="396" width="12" height="4" fill="#ddfb1b"/>
<rect x="908" y="396" width="12" height="4" fill="#ddfb1b"/>
<rect x="922" y="396" width="12" height="4" fill="#bdff3a"/>
<rect x="892" y="396" width="2" height="4" fill="#004efe"/>
<rect x="906" y="396" width="2" height="4" fill="#003cfd"/>
<rect x="920" y="396" width="2" height="4" fill="#002bfa"/>
<rect x="934" y="396" width="12" height="4" fill="#0020f7"/>
<rect x="768" y="400" width="178" height="1" fill="#000000"/>
<rect x="768" y="401" width="112" height="3" fill="#002afa"/>
<rect x="880" y="401" width="12" height="3" fill="#fdcf01"/>
<rect x="894" y="401" width="12" height="3" fill="#ddfb1b"/>
<rect x="908" y="401" width="12" height="3" fill="#ddfb1b"/>
<rect x="922" y="401" width="12" height="3" fill="#bdff3a"/>
<rect x="892" y="401" width="2" height="3" fill="#004efe"/>
<rect x="906" y="401" width="2" height="3" fill="#003cfd"/>
<rect x="920" y="401" width="2" height="3" fill="#002bfa"/>
<rect x="934" y="401" width="12" height="3" fill="#0020f7"/>
<rect x="768" y="404" width="178" height="1" fill="#000000"/>
<rect x="768" y="405" width="112" height="3" fill="#002afa"/>
<rect x="880" y="405" width="12" height="3" fill="#fdcf01"/>
<rect x="894" y="405" width="12" height="3" fill="#ddfb1b"/>
<rect x="908" y="405" width="12" height="3" fill="#ddfb1b"/>
<rect x="922" y="405" width="12" height="3" fill="#bdff3a"/>
<rect x="892" y="405" width="2" height="3" fill="#004efe"/>
<rect x="906" y="405" width="2" height="3" fill="#003cfd"/>
<rect x="920" y="405" width="2" height="3" fill="#002bfa"/>
<rect x="934" y="405" width="12" height="3" fill="#0020f7"/>
<rect x="768" y="409" width="178" height="1" fill="#000000"/>
<rect x="768" y="410" width="112" height="10" fill="#002afa"/>
<rect x="880" y="410" width="12" height="10" fill="#f1ee0a"/>
<rect x="894" y="410" width="12" height="10" fill="#cefe29"/>
<rect x="908" y="410" width="12" height="10" fill="#a5ff52"/>
<rect x="922" y="410" width="12" height="10" fill="#a5ff52"/>
<rect x="892" y="410" width="2" height="10" fill="#004efe"/>
<rect x="906" y="410" width="2" height="10" fill="#003cfd"/>
<rect x="920" y="410" width="2" height="10" fill="#002bfa"/>
<rect x="934" y="410" width="12" height="10" fill="#0020f7"/>
<rect x="768" y="420" width="178" height="1" fill="#000000"/>
<rect x="768" y="421" width="112" height="3" fill="#002afa"/>
<rect x="880" y="421" width="12" height="3" fill="#f1ee0a"/>
<rect x="894" y="421" width="12" height="3" fill="#cefe29"/>
<rect x="908" y="421" width="12" height="3" fill="#a5ff52"/>
<rect x="922" y="421" width="12" height="3" fill="#a5ff52"/>
<rect x="892" y="421" width="2" height="3" fill="#004efe"/>
<rect x="906" y="421" width="2" height="3" fill="#003cfd"/>
<rect x="920" y="421" width="2" height="3" fill="#002bfa"/>
<rect x="934" y="421" width="12" height="3" fill="#0020f7"/>
<rect x="768" y="424" width="178" height="1" fill="#000000"/>
<rect x="768" y="427" width="112" height="11" fill="#002afa"/>
<rect x="880" y="427" width="12" height="11" fill="#f5e806"/>
<rect x="894" y="427" width="12" height="11" fill="#ddfb1b"/>
<rect x="908" y="427" width="12" height="11" fill="#b5ff42"/>
<rect x="922" y="427" width="12" height="11" fill="#a5ff52"/>
<rect x="892" y="427" width="2" height="11" fill="#004efe"/>
<rect x="906" y="427" width="2" height="11" fill="#003cfd"/>
<rect x="920" y="427" width="2" height="11" fill="#002bfa"/>
<rect x="934" y="427" width="12" height="11" fill="#0020f7"/>
<rect x="768" y="439" width="112" height="1" fill="#002afa"/>
<rect x="880" y="439" width="12" height="1" fill="#f5e806"/>
<rect x="894" y="439" width="12" height="1" fill="#ddfb1b"/>
<rect x="908" y="439" width="12" height="1" fill="#b5ff42"/>
<rect x="922" y="439" width="12" height="1" fill="#a5ff52"/>
<rect x="892" y="439" width="2" height="1" fill="#004efe"/>
<rect x="906" y="439" width="2" height="1" fill="#003cfd"/>
<rect x="920" y="439" width="2" height="1" fill="#002bfa"/>
<rect x="934" y="439" width="12" height="1" fill="#0020f7"/>
<rect x="768" y="441" width="112" height="2" fill="#002afa"/>
<rect x="880" y="441" width="12" height="2" fill="#f5e806"/>
<rect x="894" y="441" width="12" height="2" fill="#ddfb1b"/>
<rect x="908" y="441" width="12" height="2" fill="#b5ff42"/>
<rect x="922" y="441" width="12" height="2" fill="#a5ff52"/>
<rect x="892" y="441" width="2" height="2" fill="#004efe"/>
<rect x="906" y="441" width="2" height="2" fill="#003cfd"/>
<rect x="920" y="441" width="2" height="2" fill="#002bfa"/>
<rect x="934" y="441" width="12" height="2" fill="#0020f7"/>
<rect x="768" y="443" width="178" height="1" fill="#000000"/>
<rect x="768" y="447" width="112" height="2" fill="#002afa"/>
<rect x="880" y="447" width="12" height="2" fill="#e4f814"/>
<rect x="894" y="447" width="12" height="2" fill="#cefe29"/>
<rect x="908" y="447" width="12" height="2" fill="#9cff5a"/>
<rect x="922" y="447" width="12" height="2" fill="#9cff5a"/>
<rect x="892" y="447" width="2" height="2" fill="#004efe"/>
<rect x="906" y="447" width="2" height="2" fill="#003cfd"/>
<rect x="920" y="447" width="2" height="2" fill="#002bfa"/>
<rect x="934" y="447" width="12" height="2" fill="#0020f7"/>
<rect x="768" y="450" width="112" height="2" fill="#002afa"/>
<rect x="880" y="450" width="12" height="2" fill="#e4f814"/>
<rect x="894" y="450" width="12" height="2" fill="#cefe29"/>
<rect x="908" y="450" width="12" height="2" fill="#9cff5a"/>
<rect x="922" y="450" width="12" height="2" fill="#9cff5a"/>
<rect x="892" y="450" width="2" height="2" fill="#004efe"/>
<rect x="906" y="450" width="2" height="2" fill="#003cfd"/>
<rect x="920" y="450" width="2" height="2" fill="#002bfa"/>
<rect x="934" y="450" width="12" height="2" fill="#0020f7"/>
<rect x="768" y="452" width="178" height="1" fill="#000000"/>
<rect x="768" y="453" width="112" height="1" fill="#002afa"/>
<rect x="880" y="453" width="12" height="1" fill="#e4f814"/>
<rect x="894" y="453" width="12" height="1" fill="#cefe29"/>
<rect x="908" y="453" width="12" height="1" fill="#9cff5a"/>
<rect x="922" y="453" width="12" height="1" fill="#9cff5a"/>
<rect x="892" y="453" width="2" height="1" fill="#004efe"/>
<rect x="906" y="453" width="2" height="1" fill="#003cfd"/>
<rect x="920" y="453" width="2" height="1" fill="#002bfa"/>
<rect x="934" y="453" width="12" height="1" fill="#0020f7"/>
<rect x="768" y="454" width="178" height="1" fill="#000000"/>
<rect x="768" y="455" width="112" height="13" fill="#002afa"/>
<rect x="880" y="455" width="12" height="13" fill="#e4f814"/>
<rect x="894" y="455" width="12" height="13" fill="#cefe29"/>
<rect x="908" y="455" width="12" height="13" fill="#9cff5a"/>
<rect x="922" y="455" width="12" height="13" fill="#9cff5a"/>
<rect x="892" y="455" width="2" height="13" fill="#004efe"/>
<rect x="906" y="455" width="2" height="13" fill="#003cfd"/>
<rect x="920" y="455" width="2" height="13" fill="#002bfa"/>
<rect x="934" y="455" width="12" height="13" fill="#0020f7"/>
<rect x="768" y="468" width="178" height="1" fill="#000000"/>
<rect x="768" y="469" width="112" height="2" fill="#002afa"/>
<rect x="880" y="469" width="12" height="2" fill="#e4f814"/>
<rect x="894" y="469" width="12" height="2" fill="#cefe29"/>
<rect x="908" y="469" width="12" height="2" fill="#9cff5a"/>
<rect x="922" y="469" width="12" height="2" fill="#9cff5a"/>
<rect x="892" y="469" width="2" height="2" fill="#004efe"/>
<rect x="906" y="469" width="2" height="2" fill="#003cfd"/>
<rect x="920" y="469" width="2" height="2" fill="#002bfa"/>
<rect x="934" y="469" width="12" height="2" fill="#0020f7"/>
<rect x="768" y="471" width="178" height="1" fill="#000000"/>
<rect x="768" y="472" width="112" height="2" fill="#002afa"/>
<rect x="880" y="472" width="12" height="2" fill="#f9e004"/>
<rect x="894" y="472" width="12" height="2" fill="#ebf40e"/>
<rect x="908" y="472" width="12" height="2" fill="#cefe29"/>
<rect x="922" y="472" width="12" height="2" fill="#b5ff42"/>
<rect x="892" y="472" width="2" height="2" fill="#004efe"/>
<rect x="906" y="472" width="2" height="2" fill="#003cfd"/>
<rect x="920" y="472" width="2" height="2" fill="#002bfa"/>
<rect x="934" y="472" width="12" height="2" fill="#0020f7"/>
<rect x="768" y="474" width="178" height="1" fill="#000000"/>
<rect x="768" y="475" width="112" height="14" fill="#002afa"/>
<rect x="880" y="475" width="12" height="14" fill="#f9e004"/>
<rect x="894" y="475" width="12" height="14" fill="#ebf40e"/>
<rect x="908" y="475" width="12" height="14" fill="#cefe29"/>
<rect x="922" y="475" width="12" height="14" fill="#b5ff42"/>
<rect x="892" y="475" width="2" height="14" fill="#004efe"/>
<rect x="906" y="475" width="2" height="14" fill="#003cfd"/>
<rect x="920" y="475" width="2" height="14" fill="#002bfa"/>
<rect x="934" y="475" width="12" height="14" fill="#0020f7"/>
<rect x="768" y="490" width="112" height="2" fill="#002afa"/>
<rect x="880" y="490" width="12" height="2" fill="#f9e004"/>
<rect x="894" y="490" width="12" height="2" fill="#ebf40e"/>
<rect x="908" y="490" width="12" height="2" fill="#cefe29"/>
<rect x="922" y="490" width="12" height="2" fill="#b5ff42"/>
<rect x="892" y="490" width="2" height="2" fill="#004efe"/>
<rect x="906" y="490" width="2" height="2" fill="#003cfd"/>
<rect x="920" y="490" width="2" height="2" fill="#002bfa"/>
<rect x="934" y="490" width="12" height="2" fill="#0020f7"/>
<rect x="768" y="493" width="112" height="3" fill="#002afa"/>
<rect x="880" y="493" width="12" height="3" fill="#f9e004"/>
<rect x="894" y="493" width="12" height="3" fill="#ebf40e"/>
<rect x="908" y="493" width="12" height="3" fill="#cefe29"/>
<rect x="922" y="493" width="12" height="3" fill="#b5ff42"/>
<rect x="892" y="493" width="2" height="3" fill="#004efe"/>
<rect x="906" y="493" width="2" height="3" fill="#003cfd"/>
<rect x="920" y="493" width="2" height="3" fill="#002bfa"/>
<rect x="934" y="493" width="12" height="3" fill="#0020f7"/>
<rect x="768" y="497" width="112" height="1" fill="#002afa"/>
<rect x="880" y="497" width="12" height="1" fill="#f9e004"/>
<rect x="894" y="497" width="12" height="1" fill="#ebf40e"/>
<rect x="908" y="497" width="12" height="1" fill="#cefe29"/>
<rect x="922" y="497" width="12" height="1" fill="#b5ff42"/>
<rect x="892" y="497" width="2" height="1" fill="#004efe"/>
<rect x="906" y="497" width="2" height="1" fill="#003cfd"/>
<rect x="920" y="497" width="2" height="1" fill="#002bfa"/>
<rect x="934" y="497" width="12" height="1" fill="#0020f7"/>
<rect x="768" y="502" width="178" height="1" fill="#000000"/>
<rect x="768" y="504" width="112" height="5" fill="#002afa"/>
<rect x="880" y="504" width="12" height="5" fill="#ddfb1b"/>
<rect x="894" y="504" width="12" height="5" fill="#c5fe31"/>
<rect x="908" y="504" width="12" height="5" fill="#a5ff52"/>
<rect x="922" y="504" width="12" height="5" fill="#94ff63"/>
<rect x="892" y="504" width="2" height="5" fill="#004efe"/>
<rect x="906" y="504" width="2" height="5" fill="#003cfd"/>
<rect x="920" y="504" width="2" height="5" fill="#002bfa"/>
<rect x="934" y="504" width="12" height="5" fill="#0020f7"/>
<rect x="768" y="509" width="178" height="1" fill="#000000"/>
<rect x="768" y="510" width="112" height="6" fill="#002afa"/>
<rect x="880" y="510" width="12" height="6" fill="#ddfb1b"/>
<rect x="894" y="510" width="12" height="6" fill="#c5fe31"/>
<rect x="908" y="510" width="12" height="6" fill="#a5ff52"/>
<rect x="922" y="510" width="12" height="6" fill="#94ff63"/>
<rect x="892" y="510" width="2" height="6" fill="#004efe"/>
<rect x="906" y="510" width="2" height="6" fill="#003cfd"/>
<rect x="920" y="510" width="2" height="6" fill="#002bfa"/>
<rect x="934" y="510" width="12" height="6" fill="#0020f7"/>
<rect x="768" y="518" width="112" height="4" fill="#002afa"/>
<rect x="880" y="518" width="12" height="4" fill="#fec600"/>
<rect x="894" y="518" width="12" height="4" fill="#f1ee0a"/>
<rect x="908" y="518" width="12" height="4" fill="#ebf40e"/>
<rect x="922" y="518" width="12" height="4" fill="#cefe29"/>
<rect x="892" y="518" width="2" height="4" fill="#004efe"/>
<rect x="906" y="518" width="2" height="4" fill="#003cfd"/>
<rect x="920" y="518" width="2" height="4" fill="#002bfa"/>
<rect x="934" y="518" width="12" height="4" fill="#0020f7"/>
<rect x="768" y="523" width="178" height="2" fill="#000000"/>
<rect x="768" y="525" width="112" height="4" fill="#002afa"/>
<rect x="880" y="525" width="12" height="4" fill="#fec600"/>
<rect x="894" y="525" width="12" height="4" fill="#f1ee0a"/>
<rect x="908" y="525" width="12" height="4" fill="#ebf40e"/>
<rect x="922" y="525" width="12" height="4" fill="#cefe29"/>
<rect x="892" y="525" width="2" height="4" fill="#004efe"/>
<rect x="906" y="525" width="2" height="4" fill="#003cfd"/>
<rect x="920" y="525" width="2" height="4" fill="#002bfa"/>
<rect x="934" y="525" width="12" height="4" fill="#0020f7"/>
<rect x="768" y="530" width="112" height="2" fill="#002afa"/>
<rect x="880" y="530" width="12" height="2" fill="#fec600"/>
<rect x="894" y="530" width="12" height="2" fill="#f1ee0a"/>
<rect x="908" y="530" width="12" height="2" fill="#ebf40e"/>
<rect x="922" y="530" width="12" height="2" fill="#cefe29"/>
<rect x="892" y="530" width="2" height="2" fill="#004efe"/>
<rect x="906" y="530" width="2" height="2" fill="#003cfd"/>
<rect x="920" y="530" width="2" height="2" fill="#002bfa"/>
<rect x="934" y="530" width="12" height="2" fill="#0020f7"/>
<rect x="768" y="533" width="178" height="1" fill="#000000"/>
<rect x="768" y="534" width="112" height="2" fill="#002afa"/>
<rect x="880" y="534" width="12" height="2" fill="#fec600"/>
<rect x="894" y="534" width="12" height="2" fill="#f1ee0a"/>
<rect x="908" y="534" width="12" height="2" fill="#ebf40e"/>
<rect x="922" y="534" width="12" height="2" fill="#cefe29"/>
<rect x="892" y="534" width="2" height="2" fill="#004efe"/>
<rect x="906" y="534" width="2" height="2" fill="#003cfd"/>
<rect x="920" y="534" width="2" height="2" fill="#002bfa"/>
<rect x="934" y="534" width="12" height="2" fill="#0020f7"/>
<rect x="768" y="536" width="178" height="1" fill="#000000"/>
<rect x="768" y="537" width="112" height="3" fill="#002afa"/>
<rect x="880" y="537" width="12" height="3" fill="#fec600"/>
<rect x="894" y="537" width="12" height="3" fill="#f1ee0a"/>
<rect x="908" y="537" width="12" height="3" fill="#ebf40e"/>
<rect x="922" y="537" width="12" height="3" fill="#cefe29"/>
<rect x="892" y="537" width="2" height="3" fill="#004efe"/>
<rect x="906" y="537" width="2" height="3" fill="#003cfd"/>
<rect x="920" y="537" width="2" height="3" fill="#002bfa"/>
<rect x="934" y="537" width="12" height="3" fill="#0020f7"/>
<rect x="768" y="540" width="178" height="1" fill="#000000"/>
<rect x="768" y="541" width="112" height="2" fill="#002afa"/>
<rect x="880" y="541" width="12" height="2" fill="#fec600"/>
<rect x="894" y="541" width="12" height="2" fill="#f1ee0a"/>
<rect x="908" y="541" width="12" height="2" fill="#ebf40e"/>
<rect x="922" y="541" width="12" height="2" fill="#cefe29"/>
<rect x="892" y="541" width="2" height="2" fill="#004efe"/>
<rect x="906" y="541" width="2" height="2" fill="#003cfd"/>
<rect x="920" y="541" width="2" height="2" fill="#002bfa"/>
<rect x="934" y="541" width="12" height="2" fill="#0020f7"/>
<rect x="768" y="544" width="112" height="11" fill="#002afa"/>
<rect x="880" y="544" width="12" height="11" fill="#fec600"/>
<rect x="894" y="544" width="12" height="11" fill="#f1ee0a"/>
<rect x="908" y="544" width="12" height="11" fill="#ebf40e"/>
<rect x="922" y="544" width="12" height="11" fill="#cefe29"/>
<rect x="892" y="544" width="2" height="11" fill="#004efe"/>
<rect x="906" y="544" width="2" height="11" fill="#003cfd"/>
<rect x="920" y="544" width="2" height="11" fill="#002bfa"/>
<rect x="934" y="544" width="12" height="11" fill="#0020f7"/>
<rect x="768" y="555" width="178" height="2" fill="#000000"/>
<rect x="768" y="558" width="112" height="2" fill="#0033fc"/>
<rect x="880" y="558" width="12" height="2" fill="#f1ee0a"/>
<rect x="894" y="558" width="12" height="2" fill="#d6fd22"/>
<rect x="908" y="558" width="12" height="2" fill="#9cff5a"/>
<rect x="922" y="558" width="12" height="2" fill="#adff4a"/>
<rect x="892" y="558" width="2" height="2" fill="#004efe"/>
<rect x="906" y="558" width="2" height="2" fill="#003cfd"/>
<rect x="920" y="558" width="2" height="2" fill="#002bfa"/>
<rect x="934" y="558" width="12" height="2" fill="#0024f8"/>
<rect x="768" y="560" width="178" height="1" fill="#000000"/>
<rect x="768" y="561" width="112" height="2" fill="#002afa"/>
<rect x="880" y="561" width="12" height="2" fill="#f1ee0a"/>
<rect x="894" y="561" width="12" height="2" fill="#d6fd22"/>
<rect x="908" y="561" width="12" height="2" fill="#9cff5a"/>
<rect x="922" y="561" width="12" height="2" fill="#adff4a"/>
<rect x="892" y="561" width="2" height="2" fill="#004efe"/>
<rect x="906" y="561" width="2" height="2" fill="#003cfd"/>
<rect x="920" y="561" width="2" height="2" fill="#002bfa"/>
<rect x="934" y="561" width="12" height="2" fill="#0020f7"/>
<rect x="768" y="564" width="112" height="24" fill="#002afa"/>
<rect x="880" y="564" width="12" height="24" fill="#f1ee0a"/>
<rect x="894" y="564" width="12" height="24" fill="#d6fd22"/>
<rect x="908" y="564" width="12" height="24" fill="#9cff5a"/>
<rect x="922" y="564" width="12" height="24" fill="#adff4a"/>
<rect x="892" y="564" width="2" height="24" fill="#004efe"/>
<rect x="906" y="564" width="2" height="24" fill="#003cfd"/>
<rect x="920" y="564" width="2" height="24" fill="#002bfa"/>
<rect x="934" y="564" width="12" height="24" fill="#0020f7"/>
<rect x="768" y="588" width="178" height="2" fill="#000000"/>
<rect x="768" y="591" width="112" height="7" fill="#002afa"/>
<rect x="880" y="591" width="12" height="7" fill="#ebf40e"/>
<rect x="894" y="591" width="12" height="7" fill="#cefe29"/>
<rect x="908" y="591" width="12" height="7" fill="#94ff63"/>
<rect x="922" y="591" width="12" height="7" fill="#adff4a"/>
<rect x="892" y="591" width="2" height="7" fill="#004efe"/>
<rect x="906" y="591" width="2" height="7" fill="#003cfd"/>
<rect x="920" y="591" width="2" height="7" fill="#002bfa"/>
<rect x="934" y="591" width="12" height="7" fill="#0020f7"/>
<rect x="768" y="599" width="112" height="22" fill="#002afa"/>
<rect x="880" y="599" width="12" height="22" fill="#ebf40e"/>
<rect x="894" y="599" width="12" height="22" fill="#cefe29"/>
<rect x="908" y="599" width="12" height="22" fill="#94ff63"/>
<rect x="922" y="599" width="12" height="22" fill="#adff4a"/>
<rect x="892" y="599" width="2" height="22" fill="#004efe"/>
<rect x="906" y="599" width="2" height="22" fill="#003cfd"/>
<rect x="920" y="599" width="2" height="22" fill="#002bfa"/>
<rect x="934" y="599" width="12" height="22" fill="#0020f7"/>
<rect x="768" y="621" width="178" height="1" fill="#000000"/>
<rect x="768" y="624" width="112" height="6" fill="#002afa"/>
<rect x="880" y="624" width="12" height="6" fill="#fbd802"/>
<rect x="894" y="624" width="12" height="6" fill="#f5e806"/>
<rect x="908" y="624" width="12" height="6" fill="#f1ee0a"/>
<rect x="922" y="624" width="12" height="6" fill="#ddfb1b"/>
<rect x="892" y="624" width="2" height="6" fill="#004efe"/>
<rect x="906" y="624" width="2" height="6" fill="#003cfd"/>
<rect x="920" y="624" width="2" height="6" fill="#002bfa"/>
<rect x="934" y="624" width="12" height="6" fill="#0020f7"/>
<rect x="768" y="632" width="112" height="7" fill="#002afa"/>
<rect x="880" y="632" width="12" height="7" fill="#fbd802"/>
<rect x="894" y="632" width="12" height="7" fill="#f5e806"/>
<rect x="908" y="632" width="12" height="7" fill="#f1ee0a"/>
<rect x="922" y="632" width="12" height="7" fill="#ddfb1b"/>
<rect x="892" y="632" width="2" height="7" fill="#004efe"/>
<rect x="906" y="632" width="2" height="7" fill="#003cfd"/>
<rect x="920" y="632" width="2" height="7" fill="#002bfa"/>
<rect x="934" y="632" width="12" height="7" fill="#0020f7"/>
<rect x="768" y="640" width="112" height="15" fill="#002afa"/>
<rect x="880" y="640" width="12" height="15" fill="#ffbd00"/>
<rect x="894" y="640" width="12" height="15" fill="#fec600"/>
<rect x="908" y="640" width="12" height="15" fill="#fec600"/>
<rect x="922" y="640" width="12" height="15" fill="#f5e806"/>
<rect x="892" y="640" width="2" height="15" fill="#004efe"/>
<rect x="906" y="640" width="2" height="15" fill="#003cfd"/>
<rect x="920" y="640" width="2" height="15" fill="#002bfa"/>
<rect x="934" y="640" width="12" height="15" fill="#0020f7"/>
<rect x="768" y="655" width="178" height="1" fill="#000000"/>
<rect x="768" y="656" width="112" height="8" fill="#002afa"/>
<rect x="880" y="656" width="12" height="8" fill="#ffbd00"/>
<rect x="894" y="656" width="12" height="8" fill="#ffb300"/>
<rect x="908" y="656" width="12" height="8" fill="#ffb300"/>
<rect x="922" y="656" width="12" height="8" fill="#f9e004"/>
<rect x="892" y="656" width="2" height="8" fill="#004efe"/>
<rect x="906" y="656" width="2" height="8" fill="#003cfd"/>
<rect x="920" y="656" width="2" height="8" fill="#002bfa"/>
<rect x="934" y="656" width="12" height="8" fill="#0020f7"/>
<rect x="768" y="665" width="112" height="8" fill="#002afa"/>
<rect x="880" y="665" width="12" height="8" fill="#ffbd00"/>
<rect x="894" y="665" width="12" height="8" fill="#ffb300"/>
<rect x="908" y="665" width="12" height="8" fill="#ffb300"/>
<rect x="922" y="665" width="12" height="8" fill="#f9e004"/>
<rect x="892" y="665" width="2" height="8" fill="#004efe"/>
<rect x="906" y="665" width="2" height="8" fill="#003cfd"/>
<rect x="920" y="665" width="2" height="8" fill="#002bfa"/>
<rect x="934" y="665" width="12" height="8" fill="#0020f7"/>
<rect x="768" y="674" width="112" height="3" fill="#0033fc"/>
<rect x="880" y="674" width="12" height="3" fill="#ffbd00"/>
<rect x="894" y="674" width="12" height="3" fill="#ffb300"/>
<rect x="908" y="674" width="12" height="3" fill="#ffb300"/>
<rect x="922" y="674" width="12" height="3" fill="#f9e004"/>
<rect x="892" y="674" width="2" height="3" fill="#004efe"/>
<rect x="906" y="674" width="2" height="3" fill="#003cfd"/>
<rect x="920" y="674" width="2" height="3" fill="#002bfa"/>
<rect x="934" y="674" width="12" height="3" fill="#0024f8"/>
<rect x="768" y="677" width="178" height="1" fill="#000000"/>
<rect x="768" y="680" width="112" height="12" fill="#002afa"/>
<rect x="880" y="680" width="12" height="12" fill="#f5e806"/>
<rect x="894" y="680" width="12" height="12" fill="#f5e806"/>
<rect x="908" y="680" width="12" height="12" fill="#e4f814"/>
<rect x="922" y="680" width="12" height="12" fill="#ddfb1b"/>
<rect x="892" y="680" width="2" height="12" fill="#004efe"/>
<rect x="906" y="680" width="2" height="12" fill="#003cfd"/>
<rect x="920" y="680" width="2" height="12" fill="#002bfa"/>
<rect x="934" y="680" width="12" height="12" fill="#0020f7"/>
<rect x="768" y="693" width="112" height="8" fill="#002afa"/>
<rect x="880" y="693" width="12" height="7" fill="#f5e806"/>
<rect x="894" y="693" width="12" height="7" fill="#f5e806"/>
<rect x="908" y="693" width="12" height="7" fill="#e4f814"/>
<rect x="922" y="693" width="12" height="7" fill="#ddfb1b"/>
<rect x="880" y="700" width="12" height="1" fill="#f5e806"/>
<rect x="894" y="700" width="12" height="1" fill="#f5e806"/>
<rect x="908" y="700" width="12" height="1" fill="#e4f814"/>
<rect x="922" y="700" width="12" height="1" fill="#ddfb1b"/>
<rect x="892" y="693" width="2" height="8" fill="#004efe"/>
<rect x="906" y="693" width="2" height="8" fill="#003cfd"/>
<rect x="920" y="693" width="2" height="8" fill="#002bfa"/>
<rect x="934" y="693" width="12" height="8" fill="#0020f7"/>
<rect x="768" y="703" width="178" height="1" fill="#000000"/>
<rect x="768" y="704" width="112" height="2" fill="#002afa"/>
<rect x="880" y="704" width="12" height="2" fill="#f5e806"/>
<rect x="894" y="704" width="12" height="2" fill="#f5e806"/>
<rect x="908" y="704" width="12" height="2" fill="#e4f814"/>
<rect x="922" y="704" width="12" height="2" fill="#ddfb1b"/>
<rect x="892" y="704" width="2" height="2" fill="#004efe"/>
<rect x="906" y="704" width="2" height="2" fill="#003cfd"/>
<rect x="920" y="704" width="2" height="2" fill="#002bfa"/>
<rect x="934" y="704" width="12" height="2" fill="#0020f7"/>
<rect x="768" y="708" width="112" height="12" fill="#002afa"/>
<rect x="880" y="708" width="12" height="12" fill="#f5e806"/>
<rect x="894" y="708" width="12" height="12" fill="#f5e806"/>
<rect x="908" y="708" width="12" height="12" fill="#e4f814"/>
<rect x="922" y="708" width="12" height="12" fill="#ddfb1b"/>
<rect x="892" y="708" width="2" height="12" fill="#004efe"/>
<rect x="906" y="708" width="2" height="12" fill="#003cfd"/>
<rect x="920" y="708" width="2" height="12" fill="#002bfa"/>
<rect x="934" y="708" width="12" height="12" fill="#0020f7"/>
<clipPath id="cl3"><rect x="768" y="80" width="112" height="640"/></clipPath>
<g clip-path="url(#cl3)" shape-rendering="auto">
<radialGradient id="b3_0"><stop offset="0" stop-color="#019cfd" stop-opacity="1.000"/><stop offset="0.2" stop-color="#019cfd" stop-opacity="0.852"/><stop offset="0.4" stop-color="#019cfd" stop-opacity="0.527"/><stop offset="0.6" stop-color="#019cfd" stop-opacity="0.237"/><stop offset="0.8" stop-color="#019cfd" stop-opacity="0.077"/><stop offset="1" stop-color="#019cfd" stop-opacity="0.018"/></radialGradient>
<ellipse cx="838" cy="506" rx="30" ry="8" fill="url(#b3_0)"/>
<radialGradient id="b3_1"><stop offset="0" stop-color="#004cfe" stop-opacity="1.000"/><stop offset="0.2" stop-color="#004cfe" stop-opacity="0.852"/><stop offset="0.4" stop-color="#004cfe" stop-opacity="0.527"/><stop offset="0.6" stop-color="#004cfe" stop-opacity="0.237"/><stop offset="0.8" stop-color="#004cfe" stop-opacity="0.077"/><stop offset="1" stop-color="#004cfe" stop-opacity="0.018"/></radialGradient>
<ellipse cx="845" cy="487" rx="40" ry="12" fill="url(#b3_1)"/>
<radialGradient id="b3_2"><stop offset="0" stop-color="#007efe" stop-opacity="1.000"/><stop offset="0.2" stop-color="#007efe" stop-opacity="0.852"/><stop offset="0.4" stop-color="#007efe" stop-opacity="0.527"/><stop offset="0.6" stop-color="#007efe" stop-opacity="0.237"/><stop offset="0.8" stop-color="#007efe" stop-opacity="0.077"/><stop offset="1" stop-color="#007efe" stop-opacity="0.018"/></radialGradient>
<ellipse cx="830" cy="584" rx="24" ry="12" fill="url(#b3_2)"/>
<radialGradient id="b3_3"><stop offset="0" stop-color="#0188fe" stop-opacity="1.000"/><stop offset="0.2" stop-color="#0188fe" stop-opacity="0.852"/><stop offset="0.4" stop-color="#0188fe" stop-opacity="0.527"/><stop offset="0.6" stop-color="#0188fe" stop-opacity="0.237"/><stop offset="0.8" stop-color="#0188fe" stop-opacity="0.077"/><stop offset="1" stop-color="#0188fe" stop-opacity="0.018"/></radialGradient>
<ellipse cx="835" cy="598" rx="32" ry="12" fill="url(#b3_3)"/>
<radialGradient id="b3_4"><stop offset="0" stop-color="#019cfd" stop-opacity="1.000"/><stop offset="0.2" stop-color="#019cfd" stop-opacity="0.852"/><stop offset="0.4" stop-color="#019cfd" stop-opacity="0.527"/><stop offset="0.6" stop-color="#019cfd" stop-opacity="0.237"/><stop offset="0.8" stop-color="#019cfd" stop-opacity="0.077"/><stop offset="1" stop-color="#019cfd" stop-opacity="0.018"/></radialGradient>
<ellipse cx="862" cy="614" rx="32" ry="14" fill="url(#b3_4)"/>
<radialGradient id="b3_5"><stop offset="0" stop-color="#0043fe" stop-opacity="1.000"/><stop offset="0.2" stop-color="#0043fe" stop-opacity="0.852"/><stop offset="0.4" stop-color="#0043fe" stop-opacity="0.527"/><stop offset="0.6" stop-color="#0043fe" stop-opacity="0.237"/><stop offset="0.8" stop-color="#0043fe" stop-opacity="0.077"/><stop offset="1" stop-color="#0043fe" stop-opacity="0.018"/></radialGradient>
<ellipse cx="840" cy="605" rx="80" ry="24" fill="url(#b3_5)"/>
<radialGradient id="b3_6"><stop offset="0" stop-color="#0074ff" stop-opacity="1.000"/><stop offset="0.2" stop-color="#0074ff" stop-opacity="0.852"/><stop offset="0.4" stop-color="#0074ff" stop-opacity="0.527"/><stop offset="0.6" stop-color="#0074ff" stop-opacity="0.237"/><stop offset="0.8" stop-color="#0074ff" stop-opacity="0.077"/><stop offset="1" stop-color="#0074ff" stop-opacity="0.018"/></radialGradient>
<ellipse cx="874" cy="106" rx="16" ry="12" fill="url(#b3_6)"/>
<radialGradient id="b3_7"><stop offset="0" stop-color="#019cfd" stop-opacity="1.000"/><stop offset="0.2" stop-color="#019cfd" stop-opacity="0.852"/><stop offset="0.4" stop-color="#019cfd" stop-opacity="0.527"/><stop offset="0.6" stop-color="#019cfd" stop-opacity="0.237"/><stop offset="0.8" stop-color="#019cfd" stop-opacity="0.077"/><stop offset="1" stop-color="#019cfd" stop-opacity="0.018"/></radialGradient>
<ellipse cx="873" cy="605" rx="14" ry="24" fill="url(#b3_7)"/>
</g>
<rect x="768" y="92" width="112" height="2" fill="#000"/>
<rect x="768" y="111" width="112" height="1" fill="#fff"/>
<rect x="768" y="117" width="112" height="1" fill="#fff"/>
<rect x="768" y="122" width="112" height="1" fill="#000"/>
<rect x="768" y="130" width="112" height="5" fill="#fff"/>
<rect x="768" y="139" width="112" height="1" fill="#fff"/>
<rect x="768" y="142" width="112" height="1" fill="#fff"/>
<rect x="768" y="145" width="112" height="1" fill="#fff"/>
<rect x="768" y="160" width="112" height="5" fill="#fff"/>
<rect x="768" y="170" width="112" height="2" fill="#000"/>
<rect x="768" y="172" width="112" height="1" fill="#fff"/>
<rect x="768" y="176" width="112" height="1" fill="#fff"/>
<rect x="768" y="179" width="112" height="1" fill="#fff"/>
<rect x="768" y="183" width="112" height="4" fill="#fff"/>
<rect x="768" y="190" width="112" height="1" fill="#000"/>
<rect x="768" y="197" width="112" height="37" fill="#fff"/>
<rect x="768" y="237" width="112" height="1" fill="#fff"/>
<rect x="768" y="240" width="112" height="13" fill="#fff"/>
<rect x="768" y="260" width="112" height="1" fill="#fff"/>
<rect x="768" y="263" width="112" height="35" fill="#fff"/>
<rect x="768" y="301" width="112" height="1" fill="#fff"/>
<rect x="768" y="303" width="112" height="1" fill="#000"/>
<rect x="768" y="304" width="112" height="77" fill="#fff"/>
<rect x="768" y="382" width="112" height="1" fill="#fff"/>
<rect x="768" y="384" width="112" height="1" fill="#fff"/>
<rect x="768" y="386" width="112" height="1" fill="#fff"/>
<rect x="768" y="388" width="112" height="1" fill="#fff"/>
<rect x="768" y="392" width="112" height="1" fill="#fff"/>
<rect x="768" y="395" width="112" height="1" fill="#000"/>
<rect x="768" y="400" width="112" height="1" fill="#000"/>
<rect x="768" y="404" width="112" height="1" fill="#000"/>
<rect x="768" y="408" width="112" height="1" fill="#fff"/>
<rect x="768" y="409" width="112" height="1" fill="#000"/>
<rect x="768" y="420" width="112" height="1" fill="#000"/>
<rect x="768" y="424" width="112" height="1" fill="#000"/>
<rect x="768" y="425" width="112" height="2" fill="#fff"/>
<rect x="768" y="438" width="112" height="1" fill="#fff"/>
<rect x="768" y="440" width="112" height="1" fill="#fff"/>
<rect x="768" y="443" width="112" height="1" fill="#000"/>
<rect x="768" y="444" width="112" height="3" fill="#fff"/>
<rect x="768" y="449" width="112" height="1" fill="#fff"/>
<rect x="768" y="452" width="112" height="1" fill="#000"/>
<rect x="768" y="454" width="112" height="1" fill="#000"/>
<rect x="768" y="468" width="112" height="1" fill="#000"/>
<rect x="768" y="471" width="112" height="1" fill="#000"/>
<rect x="768" y="474" width="112" height="1" fill="#000"/>
<rect x="768" y="489" width="112" height="1" fill="#fff"/>
<rect x="768" y="492" width="112" height="1" fill="#fff"/>
<rect x="768" y="496" width="112" height="1" fill="#fff"/>
<rect x="768" y="498" width="112" height="4" fill="#fff"/>
<rect x="768" y="502" width="112" height="1" fill="#000"/>
<rect x="768" y="503" width="112" height="1" fill="#fff"/>
<rect x="768" y="509" width="112" height="1" fill="#000"/>
<rect x="768" y="516" width="112" height="2" fill="#fff"/>
<rect x="768" y="522" width="112" height="1" fill="#fff"/>
<rect x="768" y="523" width="112" height="2" fill="#000"/>
<rect x="768" y="529" width="112" height="1" fill="#fff"/>
<rect x="768" y="532" width="112" height="1" fill="#fff"/>
<rect x="768" y="533" width="112" height="1" fill="#000"/>
<rect x="768" y="536" width="112" height="1" fill="#000"/>
<rect x="768" y="540" width="112" height="1" fill="#000"/>
<rect x="768" y="543" width="112" height="1" fill="#fff"/>
<rect x="768" y="555" width="112" height="2" fill="#000"/>
<rect x="768" y="557" width="112" height="1" fill="#fff"/>
<rect x="768" y="560" width="112" height="1" fill="#000"/>
<rect x="768" y="563" width="112" height="1" fill="#fff"/>
<rect x="768" y="588" width="112" height="2" fill="#000"/>
<rect x="768" y="590" width="112" height="1" fill="#fff"/>
<rect x="768" y="598" width="112" height="1" fill="#fff"/>
<rect x="768" y="621" width="112" height="1" fill="#000"/>
<rect x="768" y="622" width="112" height="2" fill="#fff"/>
<rect x="768" y="630" width="112" height="2" fill="#fff"/>
<rect x="768" y="639" width="112" height="1" fill="#fff"/>
<rect x="768" y="655" width="112" height="1" fill="#000"/>
<rect x="768" y="664" width="112" height="1" fill="#fff"/>
<rect x="768" y="673" width="112" height="1" fill="#fff"/>
<rect x="768" y="677" width="112" height="1" fill="#000"/>
<rect x="768" y="678" width="112" height="2" fill="#fff"/>
<rect x="768" y="692" width="112" height="1" fill="#fff"/>
<rect x="768" y="701" width="112" height="2" fill="#fff"/>
<rect x="768" y="703" width="112" height="1" fill="#000"/>
<rect x="768" y="706" width="112" height="2" fill="#fff"/>
<rect x="131" y="80" width="178" height="1" fill="#000"/>
<rect x="131" y="719" width="178" height="2" fill="#000"/>
<rect x="131" y="80" width="1" height="641" fill="#000"/>
<rect x="308" y="80" width="1" height="641" fill="#000"/>
<rect x="131" y="714" width="1" height="6" fill="#000" fill-opacity="0.75"/>
<rect x="131" y="81" width="1" height="6" fill="#000" fill-opacity="0.75"/>
<rect x="173" y="714" width="1" height="6" fill="#000" fill-opacity="0.75"/>
<rect x="173" y="81" width="1" height="6" fill="#000" fill-opacity="0.75"/>
<rect x="214" y="714" width="1" height="6" fill="#000" fill-opacity="0.75"/>
<rect x="214" y="81" width="1" height="6" fill="#000" fill-opacity="0.75"/>
<rect x="256" y="714" width="1" height="6" fill="#000" fill-opacity="0.75"/>
<rect x="256" y="81" width="1" height="6" fill="#000" fill-opacity="0.75"/>
<rect x="298" y="714" width="1" height="6" fill="#000" fill-opacity="0.75"/>
<rect x="298" y="81" width="1" height="6" fill="#000" fill-opacity="0.75"/>
<rect x="132" y="720" width="6" height="1" fill="#000" fill-opacity="0.75"/>
<rect x="302" y="720" width="6" height="1" fill="#000" fill-opacity="0.75"/>
<rect x="132" y="587" width="6" height="1" fill="#000" fill-opacity="0.75"/>
<rect x="302" y="587" width="6" height="1" fill="#000" fill-opacity="0.75"/>
<rect x="132" y="453" width="6" height="1" fill="#000" fill-opacity="0.75"/>
<rect x="302" y="453" width="6" height="1" fill="#000" fill-opacity="0.75"/>
<rect x="132" y="320" width="6" height="1" fill="#000" fill-opacity="0.75"/>
<rect x="302" y="320" width="6" height="1" fill="#000" fill-opacity="0.75"/>
<rect x="132" y="187" width="6" height="1" fill="#000" fill-opacity="0.75"/>
<rect x="302" y="187" width="6" height="1" fill="#000" fill-opacity="0.75"/>
<rect x="344" y="80" width="177" height="1" fill="#000"/>
<rect x="344" y="719" width="177" height="2" fill="#000"/>
<rect x="344" y="80" width="1" height="641" fill="#000"/>
<rect x="520" y="80" width="1" height="641" fill="#000"/>
<rect x="344" y="714" width="1" height="6" fill="#000" fill-opacity="0.75"/>
<rect x="344" y="81" width="1" height="6" fill="#000" fill-opacity="0.75"/>
<rect x="385" y="714" width="1" height="6" fill="#000" fill-opacity="0.75"/>
<rect x="385" y="81" width="1" height="6" fill="#000" fill-opacity="0.75"/>
<rect x="427" y="714" width="1" height="6" fill="#000" fill-opacity="0.75"/>
<rect x="427" y="81" width="1" height="6" fill="#000" fill-opacity="0.75"/>
<rect x="468" y="714" width="1" height="6" fill="#000" fill-opacity="0.75"/>
<rect x="468" y="81" width="1" height="6" fill="#000" fill-opacity="0.75"/>
<rect x="510" y="714" width="1" height="6" fill="#000" fill-opacity="0.75"/>
<rect x="510" y="81" width="1" height="6" fill="#000" fill-opacity="0.75"/>
<rect x="345" y="720" width="6" height="1" fill="#000" fill-opacity="0.75"/>
<rect x="514" y="720" width="6" height="1" fill="#000" fill-opacity="0.75"/>
<rect x="345" y="587" width="6" height="1" fill="#000" fill-opacity="0.75"/>
<rect x="514" y="587" width="6" height="1" fill="#000" fill-opacity="0.75"/>
<rect x="345" y="453" width="6" height="1" fill="#000" fill-opacity="0.75"/>
<rect x="514" y="453" width="6" height="1" fill="#000" fill-opacity="0.75"/>
<rect x="345" y="320" width="6" height="1" fill="#000" fill-opacity="0.75"/>
<rect x="514" y="320" width="6" height="1" fill="#000" fill-opacity="0.75"/>
<rect x="345" y="187" width="6" height="1" fill="#000" fill-opacity="0.75"/>
<rect x="514" y="187" width="6" height="1" fill="#000" fill-opacity="0.75"/>
<rect x="556" y="80" width="178" height="1" fill="#000"/>
<rect x="556" y="719" width="178" height="2" fill="#000"/>
<rect x="556" y="80" width="1" height="641" fill="#000"/>
<rect x="733" y="80" width="1" height="641" fill="#000"/>
<rect x="556" y="714" width="1" height="6" fill="#000" fill-opacity="0.75"/>
<rect x="556" y="81" width="1" height="6" fill="#000" fill-opacity="0.75"/>
<rect x="597" y="714" width="1" height="6" fill="#000" fill-opacity="0.75"/>
<rect x="597" y="81" width="1" height="6" fill="#000" fill-opacity="0.75"/>
<rect x="639" y="714" width="1" height="6" fill="#000" fill-opacity="0.75"/>
<rect x="639" y="81" width="1" height="6" fill="#000" fill-opacity="0.75"/>
<rect x="681" y="714" width="1" height="6" fill="#000" fill-opacity="0.75"/>
<rect x="681" y="81" width="1" height="6" fill="#000" fill-opacity="0.75"/>
<rect x="722" y="714" width="1" height="6" fill="#000" fill-opacity="0.75"/>
<rect x="722" y="81" width="1" height="6" fill="#000" fill-opacity="0.75"/>
<rect x="557" y="720" width="6" height="1" fill="#000" fill-opacity="0.75"/>
<rect x="727" y="720" width="6" height="1" fill="#000" fill-opacity="0.75"/>
<rect x="557" y="587" width="6" height="1" fill="#000" fill-opacity="0.75"/>
<rect x="727" y="587" width="6" height="1" fill="#000" fill-opacity="0.75"/>
<rect x="557" y="453" width="6" height="1" fill="#000" fill-opacity="0.75"/>
<rect x="727" y="453" width="6" height="1" fill="#000" fill-opacity="0.75"/>
<rect x="557" y="320" width="6" height="1" fill="#000" fill-opacity="0.75"/>
<rect x="727" y="320" width="6" height="1" fill="#000" fill-opacity="0.75"/>
<rect x="557" y="187" width="6" height="1" fill="#000" fill-opacity="0.75"/>
<rect x="727" y="187" width="6" height="1" fill="#000" fill-opacity="0.75"/>
<rect x="768" y="80" width="178" height="1" fill="#000"/>
<rect x="768" y="719" width="178" height="2" fill="#000"/>
<rect x="768" y="80" width="1" height="641" fill="#000"/>
<rect x="945" y="80" width="1" height="641" fill="#000"/>
<rect x="768" y="714" width="1" height="6" fill="#000" fill-opacity="0.75"/>
<rect x="768" y="81" width="1" height="6" fill="#000" fill-opacity="0.75"/>
<rect x="810" y="714" width="1" height="6" fill="#000" fill-opacity="0.75"/>
<rect x="810" y="81" width="1" height="6" fill="#000" fill-opacity="0.75"/>
<rect x="851" y="714" width="1" height="6" fill="#000" fill-opacity="0.75"/>
<rect x="851" y="81" width="1" height="6" fill="#000" fill-opacity="0.75"/>
<rect x="893" y="714" width="1" height="6" fill="#000" fill-opacity="0.75"/>
<rect x="893" y="81" width="1" height="6" fill="#000" fill-opacity="0.75"/>
<rect x="934" y="714" width="1" height="6" fill="#000" fill-opacity="0.75"/>
<rect x="934" y="81" width="1" height="6" fill="#000" fill-opacity="0.75"/>
<rect x="769" y="720" width="6" height="1" fill="#000" fill-opacity="0.75"/>
<rect x="939" y="720" width="6" height="1" fill="#000" fill-opacity="0.75"/>
<rect x="769" y="587" width="6" height="1" fill="#000" fill-opacity="0.75"/>
<rect x="939" y="587" width="6" height="1" fill="#000" fill-opacity="0.75"/>
<rect x="769" y="453" width="6" height="1" fill="#000" fill-opacity="0.75"/>
<rect x="939" y="453" width="6" height="1" fill="#000" fill-opacity="0.75"/>
<rect x="769" y="320" width="6" height="1" fill="#000" fill-opacity="0.75"/>
<rect x="939" y="320" width="6" height="1" fill="#000" fill-opacity="0.75"/>
<rect x="769" y="187" width="6" height="1" fill="#000" fill-opacity="0.75"/>
<rect x="939" y="187" width="6" height="1" fill="#000" fill-opacity="0.75"/>
<defs><linearGradient id="cb" x1="0" y1="0" x2="0" y2="1"><stop offset="0" stop-color="#800000"/><stop offset="0.01" stop-color="#8e0000"/><stop offset="0.03" stop-color="#9c0000"/><stop offset="0.04" stop-color="#ab0000"/><stop offset="0.05" stop-color="#b90000"/><stop offset="0.06" stop-color="#c80000"/><stop offset="0.07" stop-color="#d60000"/><stop offset="0.09" stop-color="#e50000"/><stop offset="0.1" stop-color="#f30900"/><stop offset="0.11" stop-color="#ff1500"/><stop offset="0.12" stop-color="#ff2100"/><stop offset="0.14" stop-color="#ff2d00"/><stop offset="0.15" stop-color="#ff3900"/><stop offset="0.16" stop-color="#ff4400"/><stop offset="0.17" stop-color="#ff5000"/><stop offset="0.19" stop-color="#ff5c00"/><stop offset="0.2" stop-color="#ff6800"/><stop offset="0.21" stop-color="#ff7400"/><stop offset="0.23" stop-color="#ff8000"/><stop offset="0.24" stop-color="#ff8b00"/><stop offset="0.25" stop-color="#ff9700"/><stop offset="0.26" stop-color="#ffa300"/><stop offset="0.28" stop-color="#ffaf00"/><stop offset="0.29" stop-color="#ffbb00"/><stop offset="0.3" stop-color="#ffc600"/><stop offset="0.31" stop-color="#ffd200"/><stop offset="0.33" stop-color="#ffde00"/><stop offset="0.34" stop-color="#ffea00"/><stop offset="0.35" stop-color="#f7f600"/><stop offset="0.36" stop-color="#ecff0a"/><stop offset="0.38" stop-color="#e2ff15"/><stop offset="0.39" stop-color="#d8ff1f"/><stop offset="0.4" stop-color="#ceff29"/><stop offset="0.41" stop-color="#c3ff33"/><stop offset="0.42" stop-color="#b9ff3e"/><stop offset="0.44" stop-color="#afff48"/><stop offset="0.45" stop-color="#a5ff52"/><stop offset="0.46" stop-color="#9aff5d"/><stop offset="0.47" stop-color="#90ff67"/><stop offset="0.49" stop-color="#86ff71"/><stop offset="0.5" stop-color="#7bff7b"/><stop offset="0.51" stop-color="#71ff86"/><stop offset="0.53" stop-color="#67ff90"/><stop offset="0.54" stop-color="#5dff9a"/><stop offset="0.55" stop-color="#52ffa5"/><stop offset="0.56" stop-color="#48ffaf"/><stop offset="0.57" stop-color="#3effb9"/><stop offset="0.59" stop-color="#33ffc3"/><stop offset="0.6" stop-color="#29ffce"/><stop offset="0.61" stop-color="#1fffd8"/><stop offset="0.62" stop-color="#15ffe2"/><stop offset="0.64" stop-color="#0af2ec"/><stop offset="0.65" stop-color="#00e5f7"/><stop offset="0.66" stop-color="#00d9ff"/><stop offset="0.68" stop-color="#00ccff"/><stop offset="0.69" stop-color="#00bfff"/><stop offset="0.7" stop-color="#00b3ff"/><stop offset="0.71" stop-color="#00a6ff"/><stop offset="0.72" stop-color="#0099ff"/><stop offset="0.74" stop-color="#008cff"/><stop offset="0.75" stop-color="#0080ff"/><stop offset="0.76" stop-color="#0073ff"/><stop offset="0.78" stop-color="#0066ff"/><stop offset="0.79" stop-color="#0059ff"/><stop offset="0.8" stop-color="#004cff"/><stop offset="0.81" stop-color="#0040ff"/><stop offset="0.82" stop-color="#0033ff"/><stop offset="0.84" stop-color="#0026ff"/><stop offset="0.85" stop-color="#001aff"/><stop offset="0.86" stop-color="#000dff"/><stop offset="0.88" stop-color="#0000ff"/><stop offset="0.89" stop-color="#0000ff"/><stop offset="0.9" stop-color="#0000f3"/><stop offset="0.91" stop-color="#0000e5"/><stop offset="0.93" stop-color="#0000d6"/><stop offset="0.94" stop-color="#0000c8"/><stop offset="0.95" stop-color="#0000b9"/><stop offset="0.96" stop-color="#0000ab"/><stop offset="0.97" stop-color="#00009c"/><stop offset="0.99" stop-color="#00008e"/><stop offset="1" stop-color="#000080"/></linearGradient></defs>
<rect x="1019" y="160" width="16" height="481" fill="url(#cb)"/>
<rect x="1019" y="160" width="16" height="1" fill="#000"/>
<rect x="1019" y="640" width="16" height="1" fill="#000"/>
<rect x="1019" y="160" width="1" height="481" fill="#000"/>
<rect x="1034" y="160" width="1" height="481" fill="#000"/>
<rect x="1022" y="161" width="1" height="5" fill="#000"/>
<rect x="1022" y="635" width="1" height="5" fill="#000"/>
<rect x="1025" y="161" width="1" height="5" fill="#000"/>
<rect x="1025" y="635" width="1" height="5" fill="#000"/>
<rect x="1028" y="161" width="1" height="5" fill="#000"/>
<rect x="1028" y="635" width="1" height="5" fill="#000"/>
<rect x="1031" y="161" width="1" height="5" fill="#000"/>
<rect x="1031" y="635" width="1" height="5" fill="#000"/>
<rect x="1017" y="646" width="1" height="1" fill="rgb(140,140,140)"/>
<rect x="1021" y="646" width="1" height="1" fill="rgb(140,140,140)"/>
<rect x="1024" y="646" width="1" height="1" fill="rgb(150,150,150)"/>
<rect x="1027" y="646" width="1" height="1" fill="rgb(170,170,170)"/>
<rect x="1030" y="646" width="1" height="1" fill="rgb(180,180,180)"/>
<rect x="1033" y="646" width="1" height="1" fill="rgb(190,190,190)"/>
<rect x="1019" y="160" width="6" height="1" fill="#000"/>
<rect x="1028" y="160" width="6" height="1" fill="#000"/>
<text x="1013.5" y="163.8" text-anchor="end" font-size="12" textLength="7.6" lengthAdjust="spacingAndGlyphs" font-family="Liberation Sans, sans-serif">1</text>
<rect x="1019" y="256" width="6" height="1" fill="#000"/>
<rect x="1028" y="256" width="6" height="1" fill="#000"/>
<text x="1013.5" y="259.8" text-anchor="end" font-size="12" textLength="7.6" lengthAdjust="spacingAndGlyphs" font-family="Liberation Sans, sans-serif">0</text>
<rect x="1019" y="352" width="6" height="1" fill="#000"/>
<rect x="1028" y="352" width="6" height="1" fill="#000"/>
<text x="1013.5" y="355.8" text-anchor="end" font-size="12" textLength="15.2" lengthAdjust="spacingAndGlyphs" font-family="Liberation Sans, sans-serif">−1</text>
<rect x="1019" y="448" width="6" height="1" fill="#000"/>
<rect x="1028" y="448" width="6" height="1" fill="#000"/>
<text x="1013.5" y="451.8" text-anchor="end" font-size="12" textLength="15.2" lengthAdjust="spacingAndGlyphs" font-family="Liberation Sans, sans-serif">−2</text>
<rect x="1019" y="544" width="6" height="1" fill="#000"/>
<rect x="1028" y="544" width="6" height="1" fill="#000"/>
<text x="1013.5" y="547.8" text-anchor="end" font-size="12" textLength="15.2" lengthAdjust="spacingAndGlyphs" font-family="Liberation Sans, sans-serif">−3</text>
<rect x="1019" y="640" width="6" height="1" fill="#000"/>
<rect x="1028" y="640" width="6" height="1" fill="#000"/>
<text x="1013.5" y="643.8" text-anchor="end" font-size="12" textLength="15.2" lengthAdjust="spacingAndGlyphs" font-family="Liberation Sans, sans-serif">−4</text>
<g shape-rendering="auto" fill="#000">
<text x="220" y="72.2" text-anchor="middle" font-size="15.4" textLength="183.5" lengthAdjust="spacingAndGlyphs" font-family="Liberation Sans, sans-serif">XX, V9*V10=EA07*EA28</text>
<text x="131.55" y="736" text-anchor="middle" font-size="12" textLength="22.6" lengthAdjust="spacingAndGlyphs" font-family="Liberation Sans, sans-serif">320</text>
<text x="173.15" y="736" text-anchor="middle" font-size="12" textLength="22.6" lengthAdjust="spacingAndGlyphs" font-family="Liberation Sans, sans-serif">335</text>
<text x="214.75" y="736" text-anchor="middle" font-size="12" textLength="22.6" lengthAdjust="spacingAndGlyphs" font-family="Liberation Sans, sans-serif">350</text>
<text x="256.35" y="736" text-anchor="middle" font-size="12" textLength="22.6" lengthAdjust="spacingAndGlyphs" font-family="Liberation Sans, sans-serif">365</text>
<text x="297.95" y="736" text-anchor="middle" font-size="12" textLength="22.6" lengthAdjust="spacingAndGlyphs" font-family="Liberation Sans, sans-serif">380</text>
<text x="126.45" y="723.4" text-anchor="end" font-size="12" textLength="7.6" lengthAdjust="spacingAndGlyphs" font-family="Liberation Sans, sans-serif">0</text>
<text x="126.45" y="590.07" text-anchor="end" font-size="12" textLength="7.6" lengthAdjust="spacingAndGlyphs" font-family="Liberation Sans, sans-serif">5</text>
<text x="126.45" y="456.73" text-anchor="end" font-size="12" textLength="14.8" lengthAdjust="spacingAndGlyphs" font-family="Liberation Sans, sans-serif">10</text>
<text x="126.45" y="323.4" text-anchor="end" font-size="12" textLength="14.8" lengthAdjust="spacingAndGlyphs" font-family="Liberation Sans, sans-serif">15</text>
<text x="126.45" y="190.07" text-anchor="end" font-size="12" textLength="14.8" lengthAdjust="spacingAndGlyphs" font-family="Liberation Sans, sans-serif">20</text>
<text x="432.08" y="72.2" text-anchor="middle" font-size="15.4" textLength="181.5" lengthAdjust="spacingAndGlyphs" font-family="Liberation Sans, sans-serif">YY, V9*V10=EA07*EA28</text>
<text x="343.83" y="736" text-anchor="middle" font-size="12" textLength="22.6" lengthAdjust="spacingAndGlyphs" font-family="Liberation Sans, sans-serif">320</text>
<text x="385.43" y="736" text-anchor="middle" font-size="12" textLength="22.6" lengthAdjust="spacingAndGlyphs" font-family="Liberation Sans, sans-serif">335</text>
<text x="427.03" y="736" text-anchor="middle" font-size="12" textLength="22.6" lengthAdjust="spacingAndGlyphs" font-family="Liberation Sans, sans-serif">350</text>
<text x="468.63" y="736" text-anchor="middle" font-size="12" textLength="22.6" lengthAdjust="spacingAndGlyphs" font-family="Liberation Sans, sans-serif">365</text>
<text x="510.23" y="736" text-anchor="middle" font-size="12" textLength="22.6" lengthAdjust="spacingAndGlyphs" font-family="Liberation Sans, sans-serif">380</text>
<text x="338.73" y="723.4" text-anchor="end" font-size="12" textLength="7.6" lengthAdjust="spacingAndGlyphs" font-family="Liberation Sans, sans-serif">0</text>
<text x="338.73" y="590.07" text-anchor="end" font-size="12" textLength="7.6" lengthAdjust="spacingAndGlyphs" font-family="Liberation Sans, sans-serif">5</text>
<text x="338.73" y="456.73" text-anchor="end" font-size="12" textLength="14.8" lengthAdjust="spacingAndGlyphs" font-family="Liberation Sans, sans-serif">10</text>
<text x="338.73" y="323.4" text-anchor="end" font-size="12" textLength="14.8" lengthAdjust="spacingAndGlyphs" font-family="Liberation Sans, sans-serif">15</text>
<text x="338.73" y="190.07" text-anchor="end" font-size="12" textLength="14.8" lengthAdjust="spacingAndGlyphs" font-family="Liberation Sans, sans-serif">20</text>
<text x="644.57" y="72.2" text-anchor="middle" font-size="15.4" textLength="182.5" lengthAdjust="spacingAndGlyphs" font-family="Liberation Sans, sans-serif">XY, V9*V10=EA07*EA28</text>
<text x="556.12" y="736" text-anchor="middle" font-size="12" textLength="22.6" lengthAdjust="spacingAndGlyphs" font-family="Liberation Sans, sans-serif">320</text>
<text x="597.72" y="736" text-anchor="middle" font-size="12" textLength="22.6" lengthAdjust="spacingAndGlyphs" font-family="Liberation Sans, sans-serif">335</text>
<text x="639.32" y="736" text-anchor="middle" font-size="12" textLength="22.6" lengthAdjust="spacingAndGlyphs" font-family="Liberation Sans, sans-serif">350</text>
<text x="680.92" y="736" text-anchor="middle" font-size="12" textLength="22.6" lengthAdjust="spacingAndGlyphs" font-family="Liberation Sans, sans-serif">365</text>
<text x="722.52" y="736" text-anchor="middle" font-size="12" textLength="22.6" lengthAdjust="spacingAndGlyphs" font-family="Liberation Sans, sans-serif">380</text>
<text x="551.02" y="723.4" text-anchor="end" font-size="12" textLength="7.6" lengthAdjust="spacingAndGlyphs" font-family="Liberation Sans, sans-serif">0</text>
<text x="551.02" y="590.07" text-anchor="end" font-size="12" textLength="7.6" lengthAdjust="spacingAndGlyphs" font-family="Liberation Sans, sans-serif">5</text>
<text x="551.02" y="456.73" text-anchor="end" font-size="12" textLength="14.8" lengthAdjust="spacingAndGlyphs" font-family="Liberation Sans, sans-serif">10</text>
<text x="551.02" y="323.4" text-anchor="end" font-size="12" textLength="14.8" lengthAdjust="spacingAndGlyphs" font-family="Liberation Sans, sans-serif">15</text>
<text x="551.02" y="190.07" text-anchor="end" font-size="12" textLength="14.8" lengthAdjust="spacingAndGlyphs" font-family="Liberation Sans, sans-serif">20</text>
<text x="856.65" y="72.2" text-anchor="middle" font-size="15.4" textLength="182.5" lengthAdjust="spacingAndGlyphs" font-family="Liberation Sans, sans-serif">YX, V9*V10=EA07*EA28</text>
<text x="768.4" y="736" text-anchor="middle" font-size="12" textLength="22.6" lengthAdjust="spacingAndGlyphs" font-family="Liberation Sans, sans-serif">320</text>
<text x="810" y="736" text-anchor="middle" font-size="12" textLength="22.6" lengthAdjust="spacingAndGlyphs" font-family="Liberation Sans, sans-serif">335</text>
<text x="851.6" y="736" text-anchor="middle" font-size="12" textLength="22.6" lengthAdjust="spacingAndGlyphs" font-family="Liberation Sans, sans-serif">350</text>
<text x="893.2" y="736" text-anchor="middle" font-size="12" textLength="22.6" lengthAdjust="spacingAndGlyphs" font-family="Liberation Sans, sans-serif">365</text>
<text x="934.8" y="736" text-anchor="middle" font-size="12" textLength="22.6" lengthAdjust="spacingAndGlyphs" font-family="Liberation Sans, sans-serif">380</text>
<text x="763.3" y="723.4" text-anchor="end" font-size="12" textLength="7.6" lengthAdjust="spacingAndGlyphs" font-family="Liberation Sans, sans-serif">0</text>
<text x="763.3" y="590.07" text-anchor="end" font-size="12" textLength="7.6" lengthAdjust="spacingAndGlyphs" font-family="Liberation Sans, sans-serif">5</text>
<text x="763.3" y="456.73" text-anchor="end" font-size="12" textLength="14.8" lengthAdjust="spacingAndGlyphs" font-family="Liberation Sans, sans-serif">10</text>
<text x="763.3" y="323.4" text-anchor="end" font-size="12" textLength="14.8" lengthAdjust="spacingAndGlyphs" font-family="Liberation Sans, sans-serif">15</text>
<text x="763.3" y="190.07" text-anchor="end" font-size="12" textLength="14.8" lengthAdjust="spacingAndGlyphs" font-family="Liberation Sans, sans-serif">20</text>
<text x="589.2" y="25.9" text-anchor="middle" font-size="12" textLength="129.5" lengthAdjust="spacingAndGlyphs" font-family="Liberation Sans, sans-serif">2020-09-23 0.0-24.0</text>
<text x="483.5" y="754.7" text-anchor="middle" font-size="12" textLength="103" lengthAdjust="spacingAndGlyphs" font-family="Liberation Sans, sans-serif">frequency (MHz)</text>
<text transform="translate(100.4,400.2) rotate(-90)" text-anchor="middle" font-size="12" textLength="64.5" lengthAdjust="spacingAndGlyphs" font-family="Liberation Sans, sans-serif">UT (hours)</text>
<g transform="translate(985.3,447.5) rotate(-90)"><text x="0" y="0" text-anchor="start" font-size="12" font-family="Liberation Sans, sans-serif">log<tspan font-size="8.4" dy="3">10</tspan></text><text x="30" y="0" text-anchor="start" font-size="12" textLength="64" lengthAdjust="spacingAndGlyphs" font-family="Liberation Sans, sans-serif">amplitude</text></g>
</g>
</svg></body></html>
